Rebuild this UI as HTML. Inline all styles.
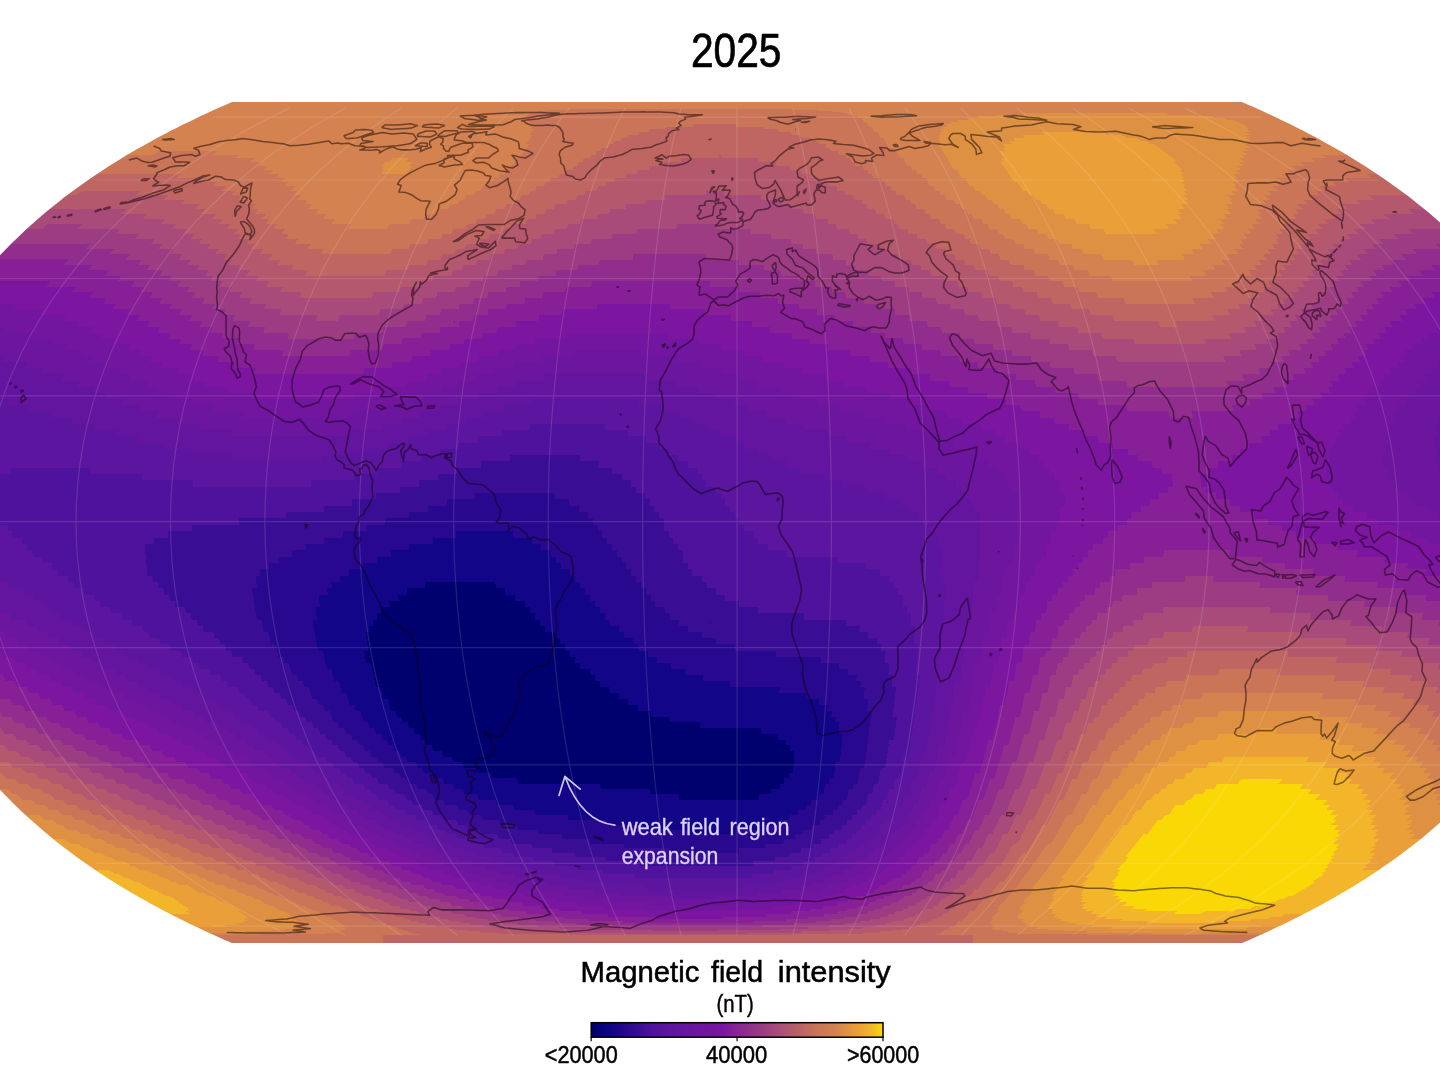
<!DOCTYPE html>
<html><head><meta charset="utf-8"><title>Magnetic field intensity 2025</title>
<style>
html,body{margin:0;padding:0;background:#fff;}
body{width:1440px;height:1080px;overflow:hidden;position:relative;font-family:"Liberation Sans",sans-serif;}
svg{position:absolute;left:0;top:0;display:block}
text{font-family:"Liberation Sans",sans-serif;}
</style></head><body>
<svg width="1440" height="1080" viewBox="0 0 1440 1080">
<defs>

<linearGradient id="cbar" x1="0" x2="1" y1="0" y2="0"><stop offset="0.0000" stop-color="#00006e"/><stop offset="0.0753" stop-color="#120587"/><stop offset="0.1208" stop-color="#28088f"/><stop offset="0.1650" stop-color="#3a0d95"/><stop offset="0.2080" stop-color="#4e129c"/><stop offset="0.2580" stop-color="#5c159f"/><stop offset="0.3529" stop-color="#6c159f"/><stop offset="0.4022" stop-color="#72159f"/><stop offset="0.4556" stop-color="#7c15a0"/><stop offset="0.4855" stop-color="#872097"/><stop offset="0.5881" stop-color="#9c3c82"/><stop offset="0.6341" stop-color="#a84a7a"/><stop offset="0.7272" stop-color="#bf6663"/><stop offset="0.7746" stop-color="#ca7558"/><stop offset="0.8374" stop-color="#d4824f"/><stop offset="0.8740" stop-color="#de9142"/><stop offset="0.9129" stop-color="#eb9f38"/><stop offset="0.9600" stop-color="#f3b62b"/><stop offset="1.0000" stop-color="#f9d806"/></linearGradient>
</defs>
<rect width="1440" height="1080" fill="#fff"/>
<g>
<rect x="0" y="96" width="1440" height="854" fill="#00006e"/>
<g shape-rendering="crispEdges">
<path fill="#120587" d="M194.3 952h1085.4v-16.7l0.5-0.2l1-0.3l1.4-0.6l1.8-0.7l2.4-1l2.7-1.1l3.2-1.2l3.5-1.5l4-1.6l4.2-1.8l4.7-2l4.9-2.1l5.2-2.2l5.5-2.4l5.8-2.6l5.9-2.7l6.2-2.8l6.3-3l6.4-3.1l6.6-3.2l6.7-3.3l6.7-3.4l6.9-3.6l6.9-3.6l6.9-3.8l6.9-3.8l6.9-4l6.9-4l6.9-4.2l6.9-4.2l6.8-4.3l6.8-4.4l6.7-4.5l6.6-4.5l6.6-4.6l6.5-4.7l6.4-4.8l6.4-4.8l6.2-4.9l6.1-4.9l6.1-5.1l5.9-5l5.9-5.2l5.7-5.2l5.6-5.2l5.6-5.3l5.4-5.4l5.3-5.4l5.2-5.4l5.1-5.5l4.9-5.6l4.9-5.6l4.7-5.6l4.6-5.7l4.5-5.7l4.4-5.7l4.3-5.8l4.1-5.8l4-5.9l3.9-5.9l3.8-5.9l3.6-5.9l3.6-6l3.4-6l3.2-6.1l3.2-6l3-6.1l2.9-6.1l2.7-6.2l2.7-6.1l2.5-6.2l2.4-6.2l2.2-6.2l2.1-6.2l2-6.3l1.9-6.2l1.7-6.3l1.6-6.3l1.4-6.3l1.4-6.3l1.2-6.3l1-6.4l1-6.3l0.8-6.3l0.6-6.4l0.6-6.3l0.4-6.4l0.2-6.4l0.2-6.3v-6.4l-0.2-6.3l-0.2-6.4l-0.4-6.4l-0.6-6.3l-0.6-6.4l-0.8-6.3l-1-6.3l-1-6.4l-1.2-6.3l-1.4-6.3l-1.4-6.3l-1.6-6.3l-1.7-6.3l-1.9-6.2l-2-6.3l-2.1-6.2l-2.2-6.2l-2.4-6.2l-2.5-6.2l-2.7-6.1l-2.7-6.2l-2.9-6.1l-3-6.1l-3.2-6l-3.2-6.1l-3.4-6l-3.6-6l-3.6-5.9l-3.8-5.9l-3.9-5.9l-4-5.9l-4.1-5.8l-4.3-5.8l-4.4-5.7l-4.5-5.7l-4.6-5.7l-4.7-5.6l-4.9-5.6l-4.9-5.6l-5.1-5.5l-5.2-5.4l-5.3-5.4l-5.4-5.4l-5.6-5.3l-5.6-5.2l-5.7-5.2l-5.9-5.2l-5.9-5l-6.1-5.1l-6.1-4.9l-6.2-4.9l-6.4-4.8l-6.4-4.8l-6.5-4.7l-6.6-4.6l-6.6-4.5l-6.7-4.5l-6.8-4.4l-6.8-4.3l-6.9-4.2l-6.9-4.2l-6.9-4l-6.9-4l-6.9-3.8l-6.9-3.8l-6.9-3.6l-6.9-3.6l-6.7-3.4l-6.7-3.3l-6.6-3.2l-6.4-3.1l-6.3-3l-6.2-2.8l-5.9-2.7l-5.8-2.6l-5.5-2.4l-5.2-2.2l-4.9-2.1l-4.7-2l-4.2-1.8l-4-1.6l-3.5-1.5l-3.2-1.2l-2.7-1.1l-2.4-1l-1.8-0.7l-1.4-0.6l-1-0.3l-0.5-0.2v-14.1h-1085.4v14.1l-0.5 0.2l-1 0.3l-1.4 0.6l-1.8 0.7l-2.4 1l-2.7 1.1l-3.2 1.2l-3.5 1.5l-4 1.6l-4.2 1.8l-4.7 2l-4.9 2.1l-5.2 2.2l-5.5 2.4l-5.8 2.6l-5.9 2.7l-6.2 2.8l-6.3 3l-6.4 3.1l-6.6 3.2l-6.7 3.3l-6.7 3.4l-6.9 3.6l-6.9 3.6l-6.9 3.8l-6.9 3.8l-6.9 4l-6.9 4l-6.9 4.2l-6.9 4.2l-6.8 4.3l-6.8 4.4l-6.7 4.5l-6.6 4.5l-6.6 4.6l-6.5 4.7l-6.4 4.8l-6.4 4.8l-6.2 4.9l-6.1 4.9l-6.1 5.1l-5.9 5l-5.9 5.2l-5.7 5.2l-5.6 5.2l-5.6 5.3l-5.4 5.4l-5.3 5.4l-5.2 5.4l-5.1 5.5l-4.9 5.6l-4.9 5.6l-4.7 5.6l-4.6 5.7l-4.5 5.7l-4.4 5.7l-4.3 5.8l-4.1 5.8l-4 5.9l-3.9 5.9l-3.8 5.9l-3.6 5.9l-3.6 6l-3.4 6l-3.2 6.1l-3.2 6l-3 6.1l-2.9 6.1l-2.7 6.2l-2.7 6.1l-2.5 6.2l-2.4 6.2l-2.2 6.2l-2.1 6.2l-2 6.3l-1.9 6.2l-1.7 6.3l-1.6 6.3l-1.4 6.3l-1.4 6.3l-1.2 6.3l-1 6.4l-1 6.3l-0.8 6.3l-0.6 6.4l-0.6 6.3l-0.4 6.4l-0.2 6.4l-0.2 6.3v6.4l0.2 6.3l0.2 6.4l0.4 6.4l0.6 6.3l0.6 6.4l0.8 6.3l1 6.3l1 6.4l1.2 6.3l1.4 6.3l1.4 6.3l1.6 6.3l1.7 6.3l1.9 6.2l2 6.3l2.1 6.2l2.2 6.2l2.4 6.2l2.5 6.2l2.7 6.1l2.7 6.2l2.9 6.1l3 6.1l3.2 6l3.2 6.1l3.4 6l3.6 6l3.6 5.9l3.8 5.9l3.9 5.9l4 5.9l4.1 5.8l4.3 5.8l4.4 5.7l4.5 5.7l4.6 5.7l4.7 5.6l4.9 5.6l4.9 5.6l5.1 5.5l5.2 5.4l5.3 5.4l5.4 5.4l5.6 5.3l5.6 5.2l5.7 5.2l5.9 5.2l5.9 5l6.1 5.1l6.1 4.9l6.2 4.9l6.4 4.8l6.4 4.8l6.5 4.7l6.6 4.6l6.6 4.5l6.7 4.5l6.8 4.4l6.8 4.3l6.9 4.2l6.9 4.2l6.9 4l6.9 4l6.9 3.8l6.9 3.8l6.9 3.6l6.9 3.6l6.7 3.4l6.7 3.3l6.6 3.2l6.4 3.1l6.3 3l6.2 2.8l5.9 2.7l5.8 2.6l5.5 2.4l5.2 2.2l4.9 2.1l4.7 2l4.2 1.8l4 1.6l3.5 1.5l3.2 1.2l2.7 1.1l2.4 1l1.8 0.7l1.4 0.6l1 0.3l0.5 0.2zM679 799.6l-0.5-5.2h-28.2l-0.6-5.2h-48.7l-1-5.3h-81.8l-1.5-5.4h-24.7l-1.6-5.4h-12.5l-1.6-5.4h-12.5l-1.8-5.5h-8.3l-1.8-5.6h-8.4l-1.8-5.6h-8.5l-1.7-5.6h-4.3l-1.7-5.7h-4.3l-1.7-5.7h-4.3l-1.7-5.7h-4.3l-1.7-5.8h-4.4l-1.6-5.8h-4.4l-1.6-5.9h-4.4l-1.6-5.9l-1.5-5.9h-4.4l-1.5-5.9l-1.5-6h-4.5l-1.4-6l-1.3-6.1l-1.3-6l-1.3-6.1h-4.5l-1.3-6.1l-1.1-6.2h4.6l-1.1-6.1l-1.1-6.2l-1-6.2h4.7l-1-6.2h4.7l-0.9-6.2h4.7l-0.8-6.3h4.6l-0.7-6.2h9.3l-0.7-6.3h9.4l-0.6-6.3h9.3l-0.5-6.3h18.7l-0.4-6.3h70.3l0.4 6.3h9.4l0.3 6.3h9.4l0.4 6.3h9.3l0.4 6.3h4.7l0.4 6.2h4.6l0.5 6.3h4.6l0.5 6.2h4.6l0.5 6.2h9.2l0.5 6.2h4.6l0.5 6.2h4.6l0.5 6.1h4.6l0.5 6.2h4.6l0.5 6.1h4.6l0.5 6.1h9.1l0.5 6h4.5l0.5 6.1h4.5l0.6 6h8.9l0.6 6h8.9l0.5 5.9h8.9l0.5 5.9h8.8l0.5 5.9h13.2l0.4 5.9h17.5l0.4 5.8h30.5l0.2 5.8h60.8l-0.1 5.7h17.2l-0.2 5.7h8.6l-0.3 5.7h4.3l-0.3 5.6h4.3l-0.4 5.6l-0.3 5.6l-0.4 5.5l-0.3 5.4h-4.2l-0.3 5.4h-4.1l-0.4 5.4h-4.1l-0.3 5.3h-8.1l-0.2 5.2h-12.1l-0.2 5.2z"/>
<path fill="#28088f" d="M194.3 952h1085.4v-16.7l0.5-0.2l1-0.3l1.4-0.6l1.8-0.7l2.4-1l2.7-1.1l3.2-1.2l3.5-1.5l4-1.6l4.2-1.8l4.7-2l4.9-2.1l5.2-2.2l5.5-2.4l5.8-2.6l5.9-2.7l6.2-2.8l6.3-3l6.4-3.1l6.6-3.2l6.7-3.3l6.7-3.4l6.9-3.6l6.9-3.6l6.9-3.8l6.9-3.8l6.9-4l6.9-4l6.9-4.2l6.9-4.2l6.8-4.3l6.8-4.4l6.7-4.5l6.6-4.5l6.6-4.6l6.5-4.7l6.4-4.8l6.4-4.8l6.2-4.9l6.1-4.9l6.1-5.1l5.9-5l5.9-5.2l5.7-5.2l5.6-5.2l5.6-5.3l5.4-5.4l5.3-5.4l5.2-5.4l5.1-5.5l4.9-5.6l4.9-5.6l4.7-5.6l4.6-5.7l4.5-5.7l4.4-5.7l4.3-5.8l4.1-5.8l4-5.9l3.9-5.9l3.8-5.9l3.6-5.9l3.6-6l3.4-6l3.2-6.1l3.2-6l3-6.1l2.9-6.1l2.7-6.2l2.7-6.1l2.5-6.2l2.4-6.2l2.2-6.2l2.1-6.2l2-6.3l1.9-6.2l1.7-6.3l1.6-6.3l1.4-6.3l1.4-6.3l1.2-6.3l1-6.4l1-6.3l0.8-6.3l0.6-6.4l0.6-6.3l0.4-6.4l0.2-6.4l0.2-6.3v-6.4l-0.2-6.3l-0.2-6.4l-0.4-6.4l-0.6-6.3l-0.6-6.4l-0.8-6.3l-1-6.3l-1-6.4l-1.2-6.3l-1.4-6.3l-1.4-6.3l-1.6-6.3l-1.7-6.3l-1.9-6.2l-2-6.3l-2.1-6.2l-2.2-6.2l-2.4-6.2l-2.5-6.2l-2.7-6.1l-2.7-6.2l-2.9-6.1l-3-6.1l-3.2-6l-3.2-6.1l-3.4-6l-3.6-6l-3.6-5.9l-3.8-5.9l-3.9-5.9l-4-5.9l-4.1-5.8l-4.3-5.8l-4.4-5.7l-4.5-5.7l-4.6-5.7l-4.7-5.6l-4.9-5.6l-4.9-5.6l-5.1-5.5l-5.2-5.4l-5.3-5.4l-5.4-5.4l-5.6-5.3l-5.6-5.2l-5.7-5.2l-5.9-5.2l-5.9-5l-6.1-5.1l-6.1-4.9l-6.2-4.9l-6.4-4.8l-6.4-4.8l-6.5-4.7l-6.6-4.6l-6.6-4.5l-6.7-4.5l-6.8-4.4l-6.8-4.3l-6.9-4.2l-6.9-4.2l-6.9-4l-6.9-4l-6.9-3.8l-6.9-3.8l-6.9-3.6l-6.9-3.6l-6.7-3.4l-6.7-3.3l-6.6-3.2l-6.4-3.1l-6.3-3l-6.2-2.8l-5.9-2.7l-5.8-2.6l-5.5-2.4l-5.2-2.2l-4.9-2.1l-4.7-2l-4.2-1.8l-4-1.6l-3.5-1.5l-3.2-1.2l-2.7-1.1l-2.4-1l-1.8-0.7l-1.4-0.6l-1-0.3l-0.5-0.2v-14.1h-1085.4v14.1l-0.5 0.2l-1 0.3l-1.4 0.6l-1.8 0.7l-2.4 1l-2.7 1.1l-3.2 1.2l-3.5 1.5l-4 1.6l-4.2 1.8l-4.7 2l-4.9 2.1l-5.2 2.2l-5.5 2.4l-5.8 2.6l-5.9 2.7l-6.2 2.8l-6.3 3l-6.4 3.1l-6.6 3.2l-6.7 3.3l-6.7 3.4l-6.9 3.6l-6.9 3.6l-6.9 3.8l-6.9 3.8l-6.9 4l-6.9 4l-6.9 4.2l-6.9 4.2l-6.8 4.3l-6.8 4.4l-6.7 4.5l-6.6 4.5l-6.6 4.6l-6.5 4.7l-6.4 4.8l-6.4 4.8l-6.2 4.9l-6.1 4.9l-6.1 5.1l-5.9 5l-5.9 5.2l-5.7 5.2l-5.6 5.2l-5.6 5.3l-5.4 5.4l-5.3 5.4l-5.2 5.4l-5.1 5.5l-4.9 5.6l-4.9 5.6l-4.7 5.6l-4.6 5.7l-4.5 5.7l-4.4 5.7l-4.3 5.8l-4.1 5.8l-4 5.9l-3.9 5.9l-3.8 5.9l-3.6 5.9l-3.6 6l-3.4 6l-3.2 6.1l-3.2 6l-3 6.1l-2.9 6.1l-2.7 6.2l-2.7 6.1l-2.5 6.2l-2.4 6.2l-2.2 6.2l-2.1 6.2l-2 6.3l-1.9 6.2l-1.7 6.3l-1.6 6.3l-1.4 6.3l-1.4 6.3l-1.2 6.3l-1 6.4l-1 6.3l-0.8 6.3l-0.6 6.4l-0.6 6.3l-0.4 6.4l-0.2 6.4l-0.2 6.3v6.4l0.2 6.3l0.2 6.4l0.4 6.4l0.6 6.3l0.6 6.4l0.8 6.3l1 6.3l1 6.4l1.2 6.3l1.4 6.3l1.4 6.3l1.6 6.3l1.7 6.3l1.9 6.2l2 6.3l2.1 6.2l2.2 6.2l2.4 6.2l2.5 6.2l2.7 6.1l2.7 6.2l2.9 6.1l3 6.1l3.2 6l3.2 6.1l3.4 6l3.6 6l3.6 5.9l3.8 5.9l3.9 5.9l4 5.9l4.1 5.8l4.3 5.8l4.4 5.7l4.5 5.7l4.6 5.7l4.7 5.6l4.9 5.6l4.9 5.6l5.1 5.5l5.2 5.4l5.3 5.4l5.4 5.4l5.6 5.3l5.6 5.2l5.7 5.2l5.9 5.2l5.9 5l6.1 5.1l6.1 4.9l6.2 4.9l6.4 4.8l6.4 4.8l6.5 4.7l6.6 4.6l6.6 4.5l6.7 4.5l6.8 4.4l6.8 4.3l6.9 4.2l6.9 4.2l6.9 4l6.9 4l6.9 3.8l6.9 3.8l6.9 3.6l6.9 3.6l6.7 3.4l6.7 3.3l6.6 3.2l6.4 3.1l6.3 3l6.2 2.8l5.9 2.7l5.8 2.6l5.5 2.4l5.2 2.2l4.9 2.1l4.7 2l4.2 1.8l4 1.6l3.5 1.5l3.2 1.2l2.7 1.1l2.4 1l1.8 0.7l1.4 0.6l1 0.3l0.5 0.2zM689.7 834.3l-0.4-4.8h-45.7l-0.8-4.8h-34.7l-1-4.9h-38.8l-1.4-4.9h-31.3l-1.6-5.1h-19.7l-1.7-5h-15.9l-1.8-5.2h-16.1l-1.9-5.2h-12.1l-1.9-5.2h-8.1l-2-5.3h-8.2l-2-5.4h-8.2l-2-5.4h-8.3l-2.1-5.4h-4.1l-2-5.5h-8.4l-2-5.6h-4.3l-1.9-5.6h-4.3l-2-5.6h-4.2l-2-5.7h-4.3l-1.9-5.7h-4.3l-1.9-5.7h-4.3l-1.9-5.8h-4.3l-1.9-5.8l-1.7-5.9h-4.4l-1.8-5.9h-4.4l-1.7-5.9l-1.7-5.9h-4.4l-1.6-6l-1.6-6h-4.5l-1.5-6.1l-1.4-6h-4.6l-1.4-6.1l-1.3-6.1l-1.3-6.2h-4.6l-1.2-6.1l-1.2-6.2l-1.1-6.2l-1.1-6.2l-1-6.2h4.6l-0.9-6.3l-0.9-6.2h4.7l-0.8-6.3l-0.7-6.3h9.3l-0.6-6.3h4.7l-0.6-6.3h9.3l-0.5-6.3h9.4l-0.4-6.4h14.1l-0.4-6.3h14.1l-0.3-6.3h14.1l-0.2-6.4h18.8l-0.2-6.3h23.6l-0.1-6.4h23.6l-0.1-6.4h56.7v6.4h18.9l0.1 6.4h9.4l0.1 6.3h9.5l0.1 6.4h4.7l0.2 6.3h4.7l0.2 6.3h9.4l0.2 6.4h4.7l0.2 6.3h4.7l0.2 6.3h4.7l0.2 6.3h4.7l0.3 6.3h4.6l0.3 6.3h4.7l0.2 6.2h4.7l0.3 6.3h4.6l0.3 6.2h9.3l0.3 6.2h4.6l0.3 6.2h9.2l0.3 6.2h4.6l0.3 6.1h9.1l0.3 6.2h9.1l0.3 6.1h13.6l0.3 6.1h13.6l0.2 6h18l0.1 6.1h27l0.1 6h49.3l-0.2 6h26.8l-0.3 5.9h13.3l-0.3 5.9h8.8l-0.4 5.9h4.4l-0.4 5.9h4.4l-0.5 5.8h4.4l-0.6 5.8l-0.5 5.7h4.3l-0.5 5.7l-0.6 5.7l-0.6 5.6l-0.6 5.6l-0.7 5.6h-4.2l-0.6 5.5l-0.6 5.4l-0.6 5.4h-4.2l-0.6 5.4h-4.1l-0.6 5.3l-0.6 5.2h-4l-0.7 5.2h-8l-0.5 5.2h-4l-0.5 5h-7.9l-0.5 5.1h-7.8l-0.4 4.9h-11.7l-0.3 4.9h-15.4l-0.2 4.8h-26.7v4.8z"/>
<path fill="#3a0d95" d="M194.3 952h1085.4v-16.7l0.5-0.2l1-0.3l1.4-0.6l1.8-0.7l2.4-1l2.7-1.1l3.2-1.2l3.5-1.5l4-1.6l4.2-1.8l4.7-2l4.9-2.1l5.2-2.2l5.5-2.4l5.8-2.6l5.9-2.7l6.2-2.8l6.3-3l6.4-3.1l6.6-3.2l6.7-3.3l6.7-3.4l6.9-3.6l6.9-3.6l6.9-3.8l6.9-3.8l6.9-4l6.9-4l6.9-4.2l6.9-4.2l6.8-4.3l6.8-4.4l6.7-4.5l6.6-4.5l6.6-4.6l6.5-4.7l6.4-4.8l6.4-4.8l6.2-4.9l6.1-4.9l6.1-5.1l5.9-5l5.9-5.2l5.7-5.2l5.6-5.2l5.6-5.3l5.4-5.4l5.3-5.4l5.2-5.4l5.1-5.5l4.9-5.6l4.9-5.6l4.7-5.6l4.6-5.7l4.5-5.7l4.4-5.7l4.3-5.8l4.1-5.8l4-5.9l3.9-5.9l3.8-5.9l3.6-5.9l3.6-6l3.4-6l3.2-6.1l3.2-6l3-6.1l2.9-6.1l2.7-6.2l2.7-6.1l2.5-6.2l2.4-6.2l2.2-6.2l2.1-6.2l2-6.3l1.9-6.2l1.7-6.3l1.6-6.3l1.4-6.3l1.4-6.3l1.2-6.3l1-6.4l1-6.3l0.8-6.3l0.6-6.4l0.6-6.3l0.4-6.4l0.2-6.4l0.2-6.3v-6.4l-0.2-6.3l-0.2-6.4l-0.4-6.4l-0.6-6.3l-0.6-6.4l-0.8-6.3l-1-6.3l-1-6.4l-1.2-6.3l-1.4-6.3l-1.4-6.3l-1.6-6.3l-1.7-6.3l-1.9-6.2l-2-6.3l-2.1-6.2l-2.2-6.2l-2.4-6.2l-2.5-6.2l-2.7-6.1l-2.7-6.2l-2.9-6.1l-3-6.1l-3.2-6l-3.2-6.1l-3.4-6l-3.6-6l-3.6-5.9l-3.8-5.9l-3.9-5.9l-4-5.9l-4.1-5.8l-4.3-5.8l-4.4-5.7l-4.5-5.7l-4.6-5.7l-4.7-5.6l-4.9-5.6l-4.9-5.6l-5.1-5.5l-5.2-5.4l-5.3-5.4l-5.4-5.4l-5.6-5.3l-5.6-5.2l-5.7-5.2l-5.9-5.2l-5.9-5l-6.1-5.1l-6.1-4.9l-6.2-4.9l-6.4-4.8l-6.4-4.8l-6.5-4.7l-6.6-4.6l-6.6-4.5l-6.7-4.5l-6.8-4.4l-6.8-4.3l-6.9-4.2l-6.9-4.2l-6.9-4l-6.9-4l-6.9-3.8l-6.9-3.8l-6.9-3.6l-6.9-3.6l-6.7-3.4l-6.7-3.3l-6.6-3.2l-6.4-3.1l-6.3-3l-6.2-2.8l-5.9-2.7l-5.8-2.6l-5.5-2.4l-5.2-2.2l-4.9-2.1l-4.7-2l-4.2-1.8l-4-1.6l-3.5-1.5l-3.2-1.2l-2.7-1.1l-2.4-1l-1.8-0.7l-1.4-0.6l-1-0.3l-0.5-0.2v-14.1h-1085.4v14.1l-0.5 0.2l-1 0.3l-1.4 0.6l-1.8 0.7l-2.4 1l-2.7 1.1l-3.2 1.2l-3.5 1.5l-4 1.6l-4.2 1.8l-4.7 2l-4.9 2.1l-5.2 2.2l-5.5 2.4l-5.8 2.6l-5.9 2.7l-6.2 2.8l-6.3 3l-6.4 3.1l-6.6 3.2l-6.7 3.3l-6.7 3.4l-6.9 3.6l-6.9 3.6l-6.9 3.8l-6.9 3.8l-6.9 4l-6.9 4l-6.9 4.2l-6.9 4.2l-6.8 4.3l-6.8 4.4l-6.7 4.5l-6.6 4.5l-6.6 4.6l-6.5 4.7l-6.4 4.8l-6.4 4.8l-6.2 4.9l-6.1 4.9l-6.1 5.1l-5.9 5l-5.9 5.2l-5.7 5.2l-5.6 5.2l-5.6 5.3l-5.4 5.4l-5.3 5.4l-5.2 5.4l-5.1 5.5l-4.9 5.6l-4.9 5.6l-4.7 5.6l-4.6 5.7l-4.5 5.7l-4.4 5.7l-4.3 5.8l-4.1 5.8l-4 5.9l-3.9 5.9l-3.8 5.9l-3.6 5.9l-3.6 6l-3.4 6l-3.2 6.1l-3.2 6l-3 6.1l-2.9 6.1l-2.7 6.2l-2.7 6.1l-2.5 6.2l-2.4 6.2l-2.2 6.2l-2.1 6.2l-2 6.3l-1.9 6.2l-1.7 6.3l-1.6 6.3l-1.4 6.3l-1.4 6.3l-1.2 6.3l-1 6.4l-1 6.3l-0.8 6.3l-0.6 6.4l-0.6 6.3l-0.4 6.4l-0.2 6.4l-0.2 6.3v6.4l0.2 6.3l0.2 6.4l0.4 6.4l0.6 6.3l0.6 6.4l0.8 6.3l1 6.3l1 6.4l1.2 6.3l1.4 6.3l1.4 6.3l1.6 6.3l1.7 6.3l1.9 6.2l2 6.3l2.1 6.2l2.2 6.2l2.4 6.2l2.5 6.2l2.7 6.1l2.7 6.2l2.9 6.1l3 6.1l3.2 6l3.2 6.1l3.4 6l3.6 6l3.6 5.9l3.8 5.9l3.9 5.9l4 5.9l4.1 5.8l4.3 5.8l4.4 5.7l4.5 5.7l4.6 5.7l4.7 5.6l4.9 5.6l4.9 5.6l5.1 5.5l5.2 5.4l5.3 5.4l5.4 5.4l5.6 5.3l5.6 5.2l5.7 5.2l5.9 5.2l5.9 5l6.1 5.1l6.1 4.9l6.2 4.9l6.4 4.8l6.4 4.8l6.5 4.7l6.6 4.6l6.6 4.5l6.7 4.5l6.8 4.4l6.8 4.3l6.9 4.2l6.9 4.2l6.9 4l6.9 4l6.9 3.8l6.9 3.8l6.9 3.6l6.9 3.6l6.7 3.4l6.7 3.3l6.6 3.2l6.4 3.1l6.3 3l6.2 2.8l5.9 2.7l5.8 2.6l5.5 2.4l5.2 2.2l4.9 2.1l4.7 2l4.2 1.8l4 1.6l3.5 1.5l3.2 1.2l2.7 1.1l2.4 1l1.8 0.7l1.4 0.6l1 0.3l0.5 0.2zM669.6 852.6l-0.7-4.5h-44.1l-1.1-4.5h-33.4l-1.3-4.6h-26.3l-1.5-4.7h-22.7l-1.7-4.8h-19.1l-1.9-4.8h-15.4l-1.9-4.9h-15.6l-2-4.9h-11.8l-2.1-5.1h-7.9l-2.1-5h-12l-2.2-5.2h-8l-2.2-5.2h-4l-2.3-5.2h-8.1l-2.2-5.3h-8.2l-2.3-5.4h-4.1l-2.2-5.4h-4.1l-2.3-5.4h-8.3l-2.2-5.5h-4.2l-2.2-5.6h-4.2l-2.2-5.6h-4.2l-2.2-5.6h-4.2l-2.1-5.7h-4.3l-2.1-5.7h-4.3l-2.1-5.7h-4.3l-2-5.8h-4.4l-2-5.8l-1.9-5.9h-4.4l-1.9-5.9h-4.4l-1.8-5.9h-4.5l-1.8-5.9l-1.7-6h-4.5l-1.7-6h-4.5l-1.6-6.1h-4.5l-1.6-6l-1.6-6.1h-4.5l-1.5-6.1h-4.6l-1.4-6.2l-1.4-6.1h-4.6l-1.3-6.2l-1.2-6.2h-4.6l-1.2-6.2l-1.1-6.2h-4.7l-1-6.3l-1-6.2l-0.9-6.3l-0.9-6.3l-0.8-6.3h4.7l-0.7-6.3l-0.6-6.3h4.7l-0.6-6.4h9.4l-0.5-6.3h9.5l-0.4-6.3h14.1l-0.3-6.4h14.1l-0.2-6.3h18.8l-0.1-6.4h18.8l-0.1-6.4h23.6v-6.3h18.8v-6.4h23.7v-6.3h18.9l0.1-6.4h18.9l0.1-6.4h28.3l0.1-6.3h80.2l-0.1 6.3h14.1v6.4h9.4v6.4h9.4v6.3h4.7v6.4h4.7v6.3h4.8v6.4h4.7l0.1 6.4h4.7l0.1 6.3h4.7l0.1 6.4h4.7l0.1 6.3h4.7l0.1 6.3h4.7l0.1 6.4h4.7l0.2 6.3h4.6l0.2 6.3h4.7l0.1 6.3h4.7l0.1 6.3h4.7l0.2 6.3h9.3l0.1 6.2h4.7l0.1 6.3h9.3l0.1 6.2h9.3l0.1 6.2h13.9l0.1 6.2h13.8v6.2h18.4v6.1h41.2l-0.1 6.2h45.6l-0.2 6.1h18.2l-0.4 6.1h9.1l-0.4 6h9l-0.4 6.1h4.5l-0.5 6h4.5l-0.6 6l-0.5 5.9h4.5l-0.6 5.9l-0.6 5.9h4.4l-0.6 5.9l-0.7 5.8l-0.7 5.8l-0.6 5.7l-0.8 5.7l-0.7 5.7l-0.7 5.6l-0.8 5.6l-0.8 5.6l-0.8 5.5h-4.1l-0.8 5.4l-0.8 5.4l-0.9 5.4h-4l-0.9 5.3h-4l-0.8 5.2l-0.8 5.2h-4l-0.8 5.2h-4l-0.8 5h-3.9l-0.8 5.1h-7.8l-0.7 4.9h-3.9l-0.7 4.9h-7.7l-0.6 4.8h-7.7l-0.5 4.8h-7.6l-0.5 4.7h-11.3l-0.4 4.6h-18.5l-0.3 4.5h-25.8v4.5z"/>
<path fill="#4e129c" d="M194.3 952h1085.4v-16.7l0.5-0.2l1-0.3l1.4-0.6l1.8-0.7l2.4-1l2.7-1.1l3.2-1.2l3.5-1.5l4-1.6l4.2-1.8l4.7-2l4.9-2.1l5.2-2.2l5.5-2.4l5.8-2.6l5.9-2.7l6.2-2.8l6.3-3l6.4-3.1l6.6-3.2l6.7-3.3l6.7-3.4l6.9-3.6l6.9-3.6l6.9-3.8l6.9-3.8l6.9-4l6.9-4l6.9-4.2l6.9-4.2l6.8-4.3l6.8-4.4l6.7-4.5l6.6-4.5l6.6-4.6l6.5-4.7l6.4-4.8l6.4-4.8l6.2-4.9l6.1-4.9l6.1-5.1l5.9-5l5.9-5.2l5.7-5.2l5.6-5.2l5.6-5.3l5.4-5.4l5.3-5.4l5.2-5.4l5.1-5.5l4.9-5.6l4.9-5.6l4.7-5.6l4.6-5.7l4.5-5.7l4.4-5.7l4.3-5.8l4.1-5.8l4-5.9l3.9-5.9l3.8-5.9l3.6-5.9l3.6-6l3.4-6l3.2-6.1l3.2-6l3-6.1l2.9-6.1l2.7-6.2l2.7-6.1l2.5-6.2l2.4-6.2l2.2-6.2l2.1-6.2l2-6.3l1.9-6.2l1.7-6.3l1.6-6.3l1.4-6.3l1.4-6.3l1.2-6.3l1-6.4l1-6.3l0.8-6.3l0.6-6.4l0.6-6.3l0.4-6.4l0.2-6.4l0.2-6.3v-6.4l-0.2-6.3l-0.2-6.4l-0.4-6.4l-0.6-6.3l-0.6-6.4l-0.8-6.3l-1-6.3l-1-6.4l-1.2-6.3l-1.4-6.3l-1.4-6.3l-1.6-6.3l-1.7-6.3l-1.9-6.2l-2-6.3l-2.1-6.2l-2.2-6.2l-2.4-6.2l-2.5-6.2l-2.7-6.1l-2.7-6.2l-2.9-6.1l-3-6.1l-3.2-6l-3.2-6.1l-3.4-6l-3.6-6l-3.6-5.9l-3.8-5.9l-3.9-5.9l-4-5.9l-4.1-5.8l-4.3-5.8l-4.4-5.7l-4.5-5.7l-4.6-5.7l-4.7-5.6l-4.9-5.6l-4.9-5.6l-5.1-5.5l-5.2-5.4l-5.3-5.4l-5.4-5.4l-5.6-5.3l-5.6-5.2l-5.7-5.2l-5.9-5.2l-5.9-5l-6.1-5.1l-6.1-4.9l-6.2-4.9l-6.4-4.8l-6.4-4.8l-6.5-4.7l-6.6-4.6l-6.6-4.5l-6.7-4.5l-6.8-4.4l-6.8-4.3l-6.9-4.2l-6.9-4.2l-6.9-4l-6.9-4l-6.9-3.8l-6.9-3.8l-6.9-3.6l-6.9-3.6l-6.7-3.4l-6.7-3.3l-6.6-3.2l-6.4-3.1l-6.3-3l-6.2-2.8l-5.9-2.7l-5.8-2.6l-5.5-2.4l-5.2-2.2l-4.9-2.1l-4.7-2l-4.2-1.8l-4-1.6l-3.5-1.5l-3.2-1.2l-2.7-1.1l-2.4-1l-1.8-0.7l-1.4-0.6l-1-0.3l-0.5-0.2v-14.1h-1085.4v14.1l-0.5 0.2l-1 0.3l-1.4 0.6l-1.8 0.7l-2.4 1l-2.7 1.1l-3.2 1.2l-3.5 1.5l-4 1.6l-4.2 1.8l-4.7 2l-4.9 2.1l-5.2 2.2l-5.5 2.4l-5.8 2.6l-5.9 2.7l-6.2 2.8l-6.3 3l-6.4 3.1l-6.6 3.2l-6.7 3.3l-6.7 3.4l-6.9 3.6l-6.9 3.6l-6.9 3.8l-6.9 3.8l-6.9 4l-6.9 4l-6.9 4.2l-6.9 4.2l-6.8 4.3l-6.8 4.4l-6.7 4.5l-6.6 4.5l-6.6 4.6l-6.5 4.7l-6.4 4.8l-6.4 4.8l-6.2 4.9l-6.1 4.9l-6.1 5.1l-5.9 5l-5.9 5.2l-5.7 5.2l-5.6 5.2l-5.6 5.3l-5.4 5.4l-5.3 5.4l-5.2 5.4l-5.1 5.5l-4.9 5.6l-4.9 5.6l-4.7 5.6l-4.6 5.7l-4.5 5.7l-4.4 5.7l-4.3 5.8l-4.1 5.8l-4 5.9l-3.9 5.9l-3.8 5.9l-3.6 5.9l-3.6 6l-3.4 6l-3.2 6.1l-3.2 6l-3 6.1l-2.9 6.1l-2.7 6.2l-2.7 6.1l-2.5 6.2l-2.4 6.2l-2.2 6.2l-2.1 6.2l-2 6.3l-1.9 6.2l-1.7 6.3l-1.6 6.3l-1.4 6.3l-1.4 6.3l-1.2 6.3l-1 6.4l-1 6.3l-0.8 6.3l-0.6 6.4l-0.6 6.3l-0.4 6.4l-0.2 6.4l-0.2 6.3v6.4l0.2 6.3l0.2 6.4l0.4 6.4l0.6 6.3l0.6 6.4l0.8 6.3l1 6.3l1 6.4l1.2 6.3l1.4 6.3l1.4 6.3l1.6 6.3l1.7 6.3l1.9 6.2l2 6.3l2.1 6.2l2.2 6.2l2.4 6.2l2.5 6.2l2.7 6.1l2.7 6.2l2.9 6.1l3 6.1l3.2 6l3.2 6.1l3.4 6l3.6 6l3.6 5.9l3.8 5.9l3.9 5.9l4 5.9l4.1 5.8l4.3 5.8l4.4 5.7l4.5 5.7l4.6 5.7l4.7 5.6l4.9 5.6l4.9 5.6l5.1 5.5l5.2 5.4l5.3 5.4l5.4 5.4l5.6 5.3l5.6 5.2l5.7 5.2l5.9 5.2l5.9 5l6.1 5.1l6.1 4.9l6.2 4.9l6.4 4.8l6.4 4.8l6.5 4.7l6.6 4.6l6.6 4.5l6.7 4.5l6.8 4.4l6.8 4.3l6.9 4.2l6.9 4.2l6.9 4l6.9 4l6.9 3.8l6.9 3.8l6.9 3.6l6.9 3.6l6.7 3.4l6.7 3.3l6.6 3.2l6.4 3.1l6.3 3l6.2 2.8l5.9 2.7l5.8 2.6l5.5 2.4l5.2 2.2l4.9 2.1l4.7 2l4.2 1.8l4 1.6l3.5 1.5l3.2 1.2l2.7 1.1l2.4 1l1.8 0.7l1.4 0.6l1 0.3l0.5 0.2zM639.7 865.5l-1-4.2h-32.2l-1.3-4.3h-28.8l-1.6-4.4h-21.9l-1.7-4.5h-18.4l-1.9-4.5h-18.6l-2-4.6h-11.3l-2.1-4.7h-15.1l-2.2-4.8h-11.5l-2.3-4.8h-7.7l-2.3-4.9h-11.6l-2.4-4.9h-7.9l-2.4-5.1h-7.9l-2.4-5h-7.9l-2.5-5.2h-4l-2.4-5.2h-8.1l-2.5-5.2h-4l-2.5-5.3h-8.1l-2.5-5.4h-4.1l-2.4-5.4h-4.2l-2.4-5.4h-4.1l-2.4-5.5h-4.2l-2.3-5.6h-4.3l-2.3-5.6h-4.2l-2.3-5.6h-4.3l-2.2-5.7h-4.3l-2.2-5.7h-4.4l-2.1-5.7h-4.4l-2.1-5.8h-4.4l-2.1-5.8h-4.4l-2-5.9h-4.4l-2.1-5.9h-4.4l-1.9-5.9h-4.5l-1.9-5.9h-4.5l-1.9-6h-4.4l-1.9-6h-4.5l-1.8-6.1h-4.5l-1.7-6h-4.5l-1.7-6.1h-4.6l-1.6-6.1h-9.1l-1.6-6.2h-4.6l-1.5-6.1h-4.6l-1.4-6.2h-4.6l-1.4-6.2h-9.2l-1.4-6.2h-4.6l-1.3-6.2h-4.6l-1.2-6.3h-4.7l-1.1-6.2h-9.3l-1.1-6.3h-4.7l-1-6.3h-4.6l-1-6.3h-4.6l-0.9-6.3h-4.7l-0.7-6.3h-4.7l-0.7-6.4l-0.6-6.3l-0.6-6.3l-0.4-6.4l-0.3-6.3h9.4l-0.2-6.4h14.1l-0.2-6.4h23.6v-6.3h47.2v-6.4h47.2l0.1-6.3h37.7l0.2-6.4h28.3l0.1-6.4h23.6l0.2-6.3h23.6l0.3-6.4h18.8l0.3-6.3h18.8l0.3-6.3h18.8l0.3-6.4h23.5l0.4-6.3h28.1l0.3-6.3h70.3l-0.2 6.3h18.7l-0.2 6.3h14.1l-0.1 6.4h9.4l-0.1 6.3h9.4l-0.1 6.3h4.7l-0.1 6.4h9.5l-0.1 6.3h4.7v6.4h4.7v6.4h4.7v6.3h4.7v6.4v6.3h4.7l0.1 6.4h4.7v6.4h4.7l0.1 6.3h4.7v6.4l0.1 6.3h4.7v6.3h4.7l0.1 6.4h9.4v6.3h4.7l0.1 6.3h9.3l0.1 6.3h9.3v6.3h14v6.3h18.7l-0.1 6.2h46.5l-0.1 6.3h41.7l-0.2 6.2h13.9l-0.4 6.2h9.3l-0.4 6.2h9.2l-0.4 6.2h4.6l-0.4 6.1h4.6l-0.5 6.2l-0.5 6.1h4.6l-0.5 6.1l-0.6 6h4.5l-0.5 6.1l-0.6 6h4.4l-0.6 6l-0.7 5.9l-0.7 5.9l-0.7 5.9l-0.7 5.9h4.4l-0.8 5.8l-0.8 5.8l-0.8 5.7l-0.9 5.7h-4.3l-0.8 5.7l-0.9 5.6l-0.9 5.6l-0.9 5.6l-0.9 5.5h-4.2l-0.9 5.4l-0.9 5.4l-1 5.4h-4.1l-1 5.3l-0.9 5.2h-4.1l-0.9 5.2l-1 5.2h-4l-0.9 5h-4l-0.9 5.1h-3.9l-1 4.9h-3.9l-0.9 4.9h-3.8l-0.9 4.8h-7.6l-0.9 4.8h-3.8l-0.8 4.7h-7.5l-0.7 4.6h-7.5l-0.7 4.5h-11l-0.6 4.5h-11l-0.5 4.4h-14.4l-0.4 4.3h-21.4l-0.2 4.2z"/>
<path fill="#5c159f" d="M194.3 952h1085.4v-16.7l0.5-0.2l1-0.3l1.4-0.6l1.8-0.7l2.4-1l2.7-1.1l3.2-1.2l3.5-1.5l4-1.6l4.2-1.8l4.7-2l4.9-2.1l5.2-2.2l5.5-2.4l5.8-2.6l5.9-2.7l6.2-2.8l6.3-3l6.4-3.1l6.6-3.2l6.7-3.3l6.7-3.4l6.9-3.6l6.9-3.6l6.9-3.8l6.9-3.8l6.9-4l6.9-4l6.9-4.2l6.9-4.2l6.8-4.3l6.8-4.4l6.7-4.5l6.6-4.5l6.6-4.6l6.5-4.7l6.4-4.8l6.4-4.8l6.2-4.9l6.1-4.9l6.1-5.1l5.9-5l5.9-5.2l5.7-5.2l5.6-5.2l5.6-5.3l5.4-5.4l5.3-5.4l5.2-5.4l5.1-5.5l4.9-5.6l4.9-5.6l4.7-5.6l4.6-5.7l4.5-5.7l4.4-5.7l4.3-5.8l4.1-5.8l4-5.9l3.9-5.9l3.8-5.9l3.6-5.9l3.6-6l3.4-6l3.2-6.1l3.2-6l3-6.1l2.9-6.1l2.7-6.2l2.7-6.1l2.5-6.2l2.4-6.2l2.2-6.2l2.1-6.2l2-6.3l1.9-6.2l1.7-6.3l1.6-6.3l1.4-6.3l1.4-6.3l1.2-6.3l1-6.4l1-6.3l0.8-6.3l0.6-6.4l0.6-6.3l0.4-6.4l0.2-6.4l0.2-6.3v-6.4l-0.2-6.3l-0.2-6.4l-0.4-6.4l-0.6-6.3l-0.6-6.4l-0.8-6.3l-1-6.3l-1-6.4l-1.2-6.3l-1.4-6.3l-1.4-6.3l-1.6-6.3l-1.7-6.3l-1.9-6.2l-2-6.3l-2.1-6.2l-2.2-6.2l-2.4-6.2l-2.5-6.2l-2.7-6.1l-2.7-6.2l-2.9-6.1l-3-6.1l-3.2-6l-3.2-6.1l-3.4-6l-3.6-6l-3.6-5.9l-3.8-5.9l-3.9-5.9l-4-5.9l-4.1-5.8l-4.3-5.8l-4.4-5.7l-4.5-5.7l-4.6-5.7l-4.7-5.6l-4.9-5.6l-4.9-5.6l-5.1-5.5l-5.2-5.4l-5.3-5.4l-5.4-5.4l-5.6-5.3l-5.6-5.2l-5.7-5.2l-5.9-5.2l-5.9-5l-6.1-5.1l-6.1-4.9l-6.2-4.9l-6.4-4.8l-6.4-4.8l-6.5-4.7l-6.6-4.6l-6.6-4.5l-6.7-4.5l-6.8-4.4l-6.8-4.3l-6.9-4.2l-6.9-4.2l-6.9-4l-6.9-4l-6.9-3.8l-6.9-3.8l-6.9-3.6l-6.9-3.6l-6.7-3.4l-6.7-3.3l-6.6-3.2l-6.4-3.1l-6.3-3l-6.2-2.8l-5.9-2.7l-5.8-2.6l-5.5-2.4l-5.2-2.2l-4.9-2.1l-4.7-2l-4.2-1.8l-4-1.6l-3.5-1.5l-3.2-1.2l-2.7-1.1l-2.4-1l-1.8-0.7l-1.4-0.6l-1-0.3l-0.5-0.2v-14.1h-1085.4v14.1l-0.5 0.2l-1 0.3l-1.4 0.6l-1.8 0.7l-2.4 1l-2.7 1.1l-3.2 1.2l-3.5 1.5l-4 1.6l-4.2 1.8l-4.7 2l-4.9 2.1l-5.2 2.2l-5.5 2.4l-5.8 2.6l-5.9 2.7l-6.2 2.8l-6.3 3l-6.4 3.1l-6.6 3.2l-6.7 3.3l-6.7 3.4l-6.9 3.6l-6.9 3.6l-6.9 3.8l-6.9 3.8l-6.9 4l-6.9 4l-6.9 4.2l-6.9 4.2l-6.8 4.3l-6.8 4.4l-6.7 4.5l-6.6 4.5l-6.6 4.6l-6.5 4.7l-6.4 4.8l-6.4 4.8l-6.2 4.9l-6.1 4.9l-6.1 5.1l-5.9 5l-5.9 5.2l-5.7 5.2l-5.6 5.2l-5.6 5.3l-5.4 5.4l-5.3 5.4l-5.2 5.4l-5.1 5.5l-4.9 5.6l-4.9 5.6l-4.7 5.6l-4.6 5.7l-4.5 5.7l-4.4 5.7l-4.3 5.8l-4.1 5.8l-4 5.9l-3.9 5.9l-3.8 5.9l-3.6 5.9l-3.6 6l-3.4 6l-3.2 6.1l-3.2 6l-3 6.1l-2.9 6.1l-2.7 6.2l-2.7 6.1l-2.5 6.2l-2.4 6.2l-2.2 6.2l-2.1 6.2l-2 6.3l-1.9 6.2l-1.7 6.3l-1.6 6.3l-1.4 6.3l-1.4 6.3l-1.2 6.3l-1 6.4l-1 6.3l-0.8 6.3l-0.6 6.4l-0.6 6.3l-0.4 6.4l-0.2 6.4l-0.2 6.3v6.4l0.2 6.3l0.2 6.4l0.4 6.4l0.6 6.3l0.6 6.4l0.8 6.3l1 6.3l1 6.4l1.2 6.3l1.4 6.3l1.4 6.3l1.6 6.3l1.7 6.3l1.9 6.2l2 6.3l2.1 6.2l2.2 6.2l2.4 6.2l2.5 6.2l2.7 6.1l2.7 6.2l2.9 6.1l3 6.1l3.2 6l3.2 6.1l3.4 6l3.6 6l3.6 5.9l3.8 5.9l3.9 5.9l4 5.9l4.1 5.8l4.3 5.8l4.4 5.7l4.5 5.7l4.6 5.7l4.7 5.6l4.9 5.6l4.9 5.6l5.1 5.5l5.2 5.4l5.3 5.4l5.4 5.4l5.6 5.3l5.6 5.2l5.7 5.2l5.9 5.2l5.9 5l6.1 5.1l6.1 4.9l6.2 4.9l6.4 4.8l6.4 4.8l6.5 4.7l6.6 4.6l6.6 4.5l6.7 4.5l6.8 4.4l6.8 4.3l6.9 4.2l6.9 4.2l6.9 4l6.9 4l6.9 3.8l6.9 3.8l6.9 3.6l6.9 3.6l6.7 3.4l6.7 3.3l6.6 3.2l6.4 3.1l6.3 3l6.2 2.8l5.9 2.7l5.8 2.6l5.5 2.4l5.2 2.2l4.9 2.1l4.7 2l4.2 1.8l4 1.6l3.5 1.5l3.2 1.2l2.7 1.1l2.4 1l1.8 0.7l1.4 0.6l1 0.3l0.5 0.2zM635.7 877.7l-1-4h-31.2l-1.4-4h-24.5l-1.6-4.2h-21.3l-1.8-4.2h-17.9l-2-4.3h-18l-2.2-4.4h-10.9l-2.2-4.5h-14.7l-2.4-4.5h-11.1l-2.4-4.6h-11.3l-2.5-4.7h-7.5l-2.6-4.8h-7.6l-2.6-4.8h-7.7l-2.5-4.9h-7.8l-2.6-4.9h-7.8l-2.7-5.1h-7.9l-2.6-5h-4l-2.6-5.2h-8l-2.7-5.2h-4l-2.6-5.2h-4.1l-2.6-5.3h-8.2l-2.6-5.4h-4.1l-2.6-5.4h-4.1l-2.6-5.4h-4.2l-2.5-5.5h-4.2l-2.5-5.6h-8.4l-2.5-5.6h-4.3l-2.4-5.6h-4.3l-2.4-5.7h-4.3l-2.4-5.7h-4.3l-2.3-5.7h-4.4l-2.3-5.8h-4.3l-2.3-5.8h-4.4l-2.2-5.9h-8.8l-2.2-5.9h-4.4l-2.1-5.9h-4.5l-2-5.9h-4.5l-2-6h-9l-2-6h-4.5l-1.9-6.1h-9l-1.9-6h-9.1l-1.8-6.1h-4.6l-1.8-6.1h-9.1l-1.7-6.2h-9.2l-1.7-6.1h-9.2l-1.6-6.2h-9.2l-1.5-6.2h-4.7l-1.4-6.2h-9.3l-1.4-6.2h-9.3l-1.4-6.3h-9.3l-1.3-6.2h-9.3l-1.2-6.3h-4.7l-1.1-6.3h-9.3l-1.1-6.3h-9.4l-0.9-6.3h-4.7l-0.9-6.3h-9.4l-0.8-6.4h-4.7l-0.7-6.3h-9.4l-0.6-6.3h-9.4l-0.5-6.4h-4.7l-0.5-6.3h-4.7l-0.3-6.4h-9.4l-0.2-6.4h-4.8l-0.1-6.3h-9.4v-6.4h-4.7l0.1-6.3h-4.7l0.2-6.4h-4.7l0.3-6.4l0.4-6.3h-4.7l0.6-6.4h4.7l0.6-6.3h4.7l0.8-6.3h18.8l0.8-6.4h79.9l-0.8 6.4h51.8l-0.6 6.3h51.7l-0.4 6.3h117.7l0.4-6.3h42.4l0.4-6.3h23.5l0.4-6.4h23.5l0.4-6.3h18.8l0.4-6.3h18.8l0.5-6.3h18.7l0.5-6.3h18.6l0.5-6.3h23.3l0.5-6.2h27.9l0.5-6.3h74.2l-0.3 6.3h23.2l-0.2 6.2h18.6l-0.1 6.3h14l-0.2 6.3h9.4l-0.1 6.3h9.4l-0.1 6.3h9.3v6.3h9.4l-0.1 6.4h4.7v6.3h4.7v6.3h9.4v6.4h4.7v6.3h4.7v6.4h4.7v6.4h4.7v6.3h4.8v6.4h4.7v6.3h9.4v6.4h4.7v6.4h9.5l-0.1 6.3h18.9v6.4h51.8l-0.1 6.3h28.2l-0.1 6.3h14.1l-0.1 6.4h9.3l-0.2 6.3h4.7l-0.2 6.3h4.7l-0.3 6.3h4.7l-0.3 6.3l-0.3 6.3h4.7l-0.4 6.2h4.7l-0.4 6.3l-0.4 6.2h4.6l-0.5 6.2l-0.4 6.2l-0.5 6.2h4.6l-0.6 6.1l-0.5 6.2l-0.6 6.1l-0.6 6.1l-0.7 6h4.5l-0.6 6.1l-0.7 6l-0.8 6l-0.7 5.9l-0.8 5.9l-0.8 5.9l-0.9 5.9l-0.8 5.8l-0.9 5.8l-1 5.7l-0.9 5.7l-1 5.7l-0.9 5.6l-1.1 5.6h-4.2l-1 5.6l-1 5.5l-1.1 5.4l-1.1 5.4h-4.1l-1.1 5.4l-1 5.3h-4.1l-1.1 5.2l-1.1 5.2h-4l-1.1 5.2l-1.1 5h-4l-1.1 5.1h-3.9l-1.1 4.9h-3.9l-1 4.9h-3.9l-1 4.8h-3.9l-1 4.8h-3.8l-1 4.7h-3.7l-1 4.6h-7.5l-0.9 4.5h-7.4l-0.9 4.5h-7.2l-0.9 4.4h-7.2l-0.7 4.3h-10.8l-0.6 4.2h-10.6l-0.6 4.2h-17.5l-0.4 4h-20.8l-0.2 4z"/>
<path fill="#64159f" d="M194.3 952h1085.4v-16.7l0.5-0.2l1-0.3l1.4-0.6l1.8-0.7l2.4-1l2.7-1.1l3.2-1.2l3.5-1.5l4-1.6l4.2-1.8l4.7-2l4.9-2.1l5.2-2.2l5.5-2.4l5.8-2.6l5.9-2.7l6.2-2.8l6.3-3l6.4-3.1l6.6-3.2l6.7-3.3l6.7-3.4l6.9-3.6l6.9-3.6l6.9-3.8l6.9-3.8l6.9-4l6.9-4l6.9-4.2l6.9-4.2l6.8-4.3l6.8-4.4l6.7-4.5l6.6-4.5l6.6-4.6l6.5-4.7l6.4-4.8l6.4-4.8l6.2-4.9l6.1-4.9l6.1-5.1l5.9-5l5.9-5.2l5.7-5.2l5.6-5.2l5.6-5.3l5.4-5.4l5.3-5.4l5.2-5.4l5.1-5.5l4.9-5.6l4.9-5.6l4.7-5.6l4.6-5.7l4.5-5.7l4.4-5.7l4.3-5.8l4.1-5.8l4-5.9l3.9-5.9l3.8-5.9l3.6-5.9l3.6-6l3.4-6l3.2-6.1l3.2-6l3-6.1l2.9-6.1l2.7-6.2l2.7-6.1l2.5-6.2l2.4-6.2l2.2-6.2l2.1-6.2l2-6.3l1.9-6.2l1.7-6.3l1.6-6.3l1.4-6.3l1.4-6.3l1.2-6.3l1-6.4l1-6.3l0.8-6.3l0.6-6.4l0.6-6.3l0.4-6.4l0.2-6.4l0.2-6.3v-6.4h-73.2l-0.1-6.3h-9.5l-0.2-6.4h-14.2l-0.3-6.4h-9.5l-0.4-6.3h-9.5l-0.6-6.4h-4.7l-0.7-6.3h-9.4l-0.8-6.3h-4.7l-0.9-6.4h-4.7l-1-6.3l-1.1-6.3l-1.3-6.3h-4.6l-1.4-6.3h4.7l-1.5-6.3l-1.5-6.2h4.6l-1.7-6.3h4.6l-1.8-6.2h4.7l-2-6.2h9.3l-2.1-6.2h13.8l-2.2-6.2h18.3l-2.4-6.1h80.1l-2.7-6.2l-2.9-6.1l-3-6.1l-3.2-6l-3.2-6.1l-3.4-6l-3.6-6l-3.6-5.9l-3.8-5.9l-3.9-5.9l-4-5.9l-4.1-5.8l-4.3-5.8l-4.4-5.7l-4.5-5.7l-4.6-5.7l-4.7-5.6l-4.9-5.6l-4.9-5.6l-5.1-5.5l-5.2-5.4l-5.3-5.4l-5.4-5.4l-5.6-5.3l-5.6-5.2l-5.7-5.2l-5.9-5.2l-5.9-5l-6.1-5.1l-6.1-4.9l-6.2-4.9l-6.4-4.8l-6.4-4.8l-6.5-4.7l-6.6-4.6l-6.6-4.5l-6.7-4.5l-6.8-4.4l-6.8-4.3l-6.9-4.2l-6.9-4.2l-6.9-4l-6.9-4l-6.9-3.8l-6.9-3.8l-6.9-3.6l-6.9-3.6l-6.7-3.4l-6.7-3.3l-6.6-3.2l-6.4-3.1l-6.3-3l-6.2-2.8l-5.9-2.7l-5.8-2.6l-5.5-2.4l-5.2-2.2l-4.9-2.1l-4.7-2l-4.2-1.8l-4-1.6l-3.5-1.5l-3.2-1.2l-2.7-1.1l-2.4-1l-1.8-0.7l-1.4-0.6l-1-0.3l-0.5-0.2v-14.1h-1085.4v14.1l-0.5 0.2l-1 0.3l-1.4 0.6l-1.8 0.7l-2.4 1l-2.7 1.1l-3.2 1.2l-3.5 1.5l-4 1.6l-4.2 1.8l-4.7 2l-4.9 2.1l-5.2 2.2l-5.5 2.4l-5.8 2.6l-5.9 2.7l-6.2 2.8l-6.3 3l-6.4 3.1l-6.6 3.2l-6.7 3.3l-6.7 3.4l-6.9 3.6l-6.9 3.6l-6.9 3.8l-6.9 3.8l-6.9 4l-6.9 4l-6.9 4.2l-6.9 4.2l-6.8 4.3l-6.8 4.4l-6.7 4.5l-6.6 4.5l-6.6 4.6l-6.5 4.7l-6.4 4.8l-6.4 4.8l-6.2 4.9l-6.1 4.9l-6.1 5.1l-5.9 5l-5.9 5.2l-5.7 5.2l-5.6 5.2l-5.6 5.3l-5.4 5.4l-5.3 5.4l-5.2 5.4l-5.1 5.5l-4.9 5.6l-4.9 5.6l-4.7 5.6l-4.6 5.7l-4.5 5.7l-4.4 5.7l-4.3 5.8l-4.1 5.8l-4 5.9l-3.9 5.9l-3.8 5.9l-3.6 5.9l-3.6 6l-3.4 6l-3.2 6.1l-3.2 6l-3 6.1l-2.9 6.1l-2.7 6.2h130.4l-2.2 6.1h32.1l-2 6.2h23l-1.9 6.2h23.1l-1.7 6.2h23.1l-1.5 6.2h23.2l-1.5 6.3h23.3l-1.3 6.2h23.3l-1.1 6.3h28l-1 6.3h28l-0.9 6.3h42.2l-0.7 6.3h89.1l0.6-6.3h37.5l0.6-6.3h28l0.6-6.3h18.7l0.6-6.3h18.7l0.6-6.2h18.6l0.6-6.3h18.6l0.6-6.2h18.6l0.6-6.2h18.5l0.6-6.2h27.6l0.6-6.2h105.6l-0.3 6.2h23l-0.2 6.2h18.5l-0.2 6.2h13.9l-0.1 6.2h13.9v6.3h13.9v6.2h14v6.3h9.3v6.3h14l0.1 6.3h14l0.1 6.3h14.1v6.3h14.1l0.1 6.4h23.5l0.1 6.3h18.8l0.1 6.3h23.6l0.1 6.4h18.8l0.1 6.3h14.1l0.1 6.4h9.5v6.4h9.5v6.3h4.7v6.4h4.7v6.3h4.7v6.4h4.7l-0.1 6.4l-0.1 6.3h4.7l-0.2 6.4l-0.1 6.3l-0.3 6.3l-0.2 6.4l-0.3 6.3h4.7l-0.3 6.3l-0.3 6.3l-0.4 6.3l-0.4 6.3l-0.4 6.2l-0.5 6.3l-0.4 6.2l-0.6 6.2l-0.5 6.2l-0.6 6.2l-0.6 6.1l-0.6 6.2l-0.7 6.1l-0.7 6.1l-0.7 6l-0.7 6.1l-0.8 6l-0.8 6l-0.9 5.9l-0.8 5.9l-0.9 5.9l-0.9 5.9l-1 5.8l-1 5.8l-1 5.7l-1 5.7l-1.1 5.7l-1 5.6h-4.3l-1.1 5.6l-1.1 5.6l-1.1 5.5l-1.2 5.4l-1.2 5.4h-4.1l-1.2 5.4l-1.2 5.3l-1.2 5.2h-4.1l-1.2 5.2l-1.2 5.2h-4l-1.3 5l-1.2 5.1h-3.9l-1.3 4.9h-3.9l-1.2 4.9h-3.9l-1.2 4.8l-1.2 4.8h-3.8l-1.2 4.7h-7.5l-1.2 4.6h-3.7l-1.1 4.5h-3.7l-1.1 4.5h-7.3l-1.1 4.4h-3.6l-1 4.3h-7.2l-1 4.2h-10.6l-0.9 4.2h-7l-0.8 4h-13.8l-0.7 4h-13.7l-0.5 3.8h-17l-0.4 3.8h-26.9v3.6h-96.5l-0.9-3.6h-37l-1.4-3.8h-23.8l-1.6-3.8h-20.6l-1.8-4h-17.3l-2.1-4h-17.5l-2.2-4.2h-14.1l-2.3-4.2h-10.8l-2.4-4.3h-10.8l-2.5-4.4h-10.9l-2.6-4.5h-11l-2.7-4.5h-7.4l-2.7-4.6h-7.5l-2.7-4.7h-7.6l-2.8-4.8h-7.6l-2.8-4.8h-7.7l-2.8-4.9h-7.8l-2.8-4.9h-3.9l-2.8-5.1h-7.9l-2.8-5h-4l-2.8-5.2h-8l-2.9-5.2h-4l-2.8-5.2h-4.1l-2.7-5.3h-8.2l-2.8-5.4h-4.1l-2.8-5.4h-4.1l-2.7-5.4h-4.2l-2.7-5.5h-8.4l-2.6-5.6h-4.3l-2.6-5.6h-4.3l-2.6-5.6h-4.2l-2.6-5.7h-8.6l-2.5-5.7h-4.3l-2.5-5.7h-4.4l-2.4-5.8h-8.7l-2.5-5.8h-4.4l-2.3-5.9h-8.8l-2.4-5.9h-4.4l-2.3-5.9h-8.9l-2.2-5.9h-8.9l-2.3-6h-8.9l-2.2-6h-9l-2.1-6.1h-9l-2.1-6h-9.1l-2-6.1h-9.1l-1.9-6.1h-9.2l-1.9-6.2h-9.1l-1.9-6.1h-9.2l-1.7-6.2h-9.2l-1.7-6.2h-9.3l-1.6-6.2h-9.3l-1.5-6.2h-9.3l-1.5-6.3h-9.3l-1.4-6.2h-4.7l-1.3-6.3h-9.3l-1.3-6.3h-9.3l-1.2-6.3h-14l-1.1-6.3h-9.4l-0.9-6.3h-9.4l-0.9-6.4h-9.4l-0.8-6.3h-14.1l-0.7-6.3h-9.4l-0.6-6.4h-9.4l-0.5-6.3h-14.1l-0.4-6.4h-14.1l-0.3-6.4h-9.4l-0.1-6.3h-14.2v-6.4h-68.5v6.4l0.2 6.3l0.2 6.4l0.4 6.4l0.6 6.3l0.6 6.4l0.8 6.3l1 6.3l1 6.4l1.2 6.3l1.4 6.3l1.4 6.3l1.6 6.3l1.7 6.3l1.9 6.2l2 6.3l2.1 6.2l2.2 6.2l2.4 6.2l2.5 6.2l2.7 6.1l2.7 6.2l2.9 6.1l3 6.1l3.2 6l3.2 6.1l3.4 6l3.6 6l3.6 5.9l3.8 5.9l3.9 5.9l4 5.9l4.1 5.8l4.3 5.8l4.4 5.7l4.5 5.7l4.6 5.7l4.7 5.6l4.9 5.6l4.9 5.6l5.1 5.5l5.2 5.4l5.3 5.4l5.4 5.4l5.6 5.3l5.6 5.2l5.7 5.2l5.9 5.2l5.9 5l6.1 5.1l6.1 4.9l6.2 4.9l6.4 4.8l6.4 4.8l6.5 4.7l6.6 4.6l6.6 4.5l6.7 4.5l6.8 4.4l6.8 4.3l6.9 4.2l6.9 4.2l6.9 4l6.9 4l6.9 3.8l6.9 3.8l6.9 3.6l6.9 3.6l6.7 3.4l6.7 3.3l6.6 3.2l6.4 3.1l6.3 3l6.2 2.8l5.9 2.7l5.8 2.6l5.5 2.4l5.2 2.2l4.9 2.1l4.7 2l4.2 1.8l4 1.6l3.5 1.5l3.2 1.2l2.7 1.1l2.4 1l1.8 0.7l1.4 0.6l1 0.3l0.5 0.2z"/>
<path fill="#6c159f" d="M194.3 952h1085.4v-16.7l0.5-0.2l1-0.3l1.4-0.6l1.8-0.7l2.4-1l2.7-1.1l3.2-1.2l3.5-1.5l4-1.6l4.2-1.8l4.7-2l4.9-2.1l5.2-2.2l5.5-2.4l5.8-2.6l5.9-2.7l6.2-2.8l6.3-3l6.4-3.1l6.6-3.2l6.7-3.3l6.7-3.4l6.9-3.6l6.9-3.6l6.9-3.8l6.9-3.8l6.9-4l6.9-4l6.9-4.2l6.9-4.2l6.8-4.3l6.8-4.4l6.7-4.5l6.6-4.5l6.6-4.6l6.5-4.7l6.4-4.8l6.4-4.8l6.2-4.9l6.1-4.9l6.1-5.1l5.9-5l5.9-5.2l5.7-5.2l5.6-5.2l5.6-5.3l5.4-5.4l5.3-5.4l5.2-5.4l5.1-5.5l4.9-5.6l4.9-5.6l4.7-5.6l4.6-5.7l4.5-5.7l4.4-5.7l4.3-5.8l4.1-5.8l4-5.9l3.9-5.9l3.8-5.9l3.6-5.9l3.6-6l3.4-6l3.2-6.1l3.2-6l3-6.1l2.9-6.1l2.7-6.2l2.7-6.1l2.5-6.2l2.4-6.2l2.2-6.2l2.1-6.2l2-6.3l1.9-6.2l1.7-6.3l1.6-6.3l1.4-6.3l1.4-6.3l1.2-6.3l1-6.4l1-6.3l0.8-6.3h-73.1l0.7-6.4h-14.2l0.5-6.3h-14.2l0.4-6.4h-14.2l0.3-6.4h-9.5l0.1-6.3h-14.1v-6.4h-9.5l-0.1-6.3h-14.1l-0.3-6.4h-9.4l-0.3-6.4h-9.5l-0.4-6.3h-9.4l-0.5-6.4h-4.7l-0.7-6.3h-4.7l-0.7-6.3h-4.7l-0.8-6.4h-4.7l-1-6.3l-1-6.3l-1.1-6.3l-1.2-6.3l-1.4-6.3h4.7l-1.4-6.2l-1.6-6.3h4.7l-1.7-6.2h4.6l-1.7-6.2h4.6l-1.9-6.2h9.2l-2-6.2h4.6l-2.1-6.1h9.1l-2.2-6.2h9.1l-2.4-6.1h9.1l-2.5-6.1h9l-2.6-6h13.5l-2.8-6.1h18l-3-6h31.4l-3.3-6h69.2l-3.6-5.9l-3.8-5.9l-3.9-5.9l-4-5.9l-4.1-5.8l-4.3-5.8l-4.4-5.7l-4.5-5.7l-4.6-5.7l-4.7-5.6l-4.9-5.6l-4.9-5.6l-5.1-5.5l-5.2-5.4l-5.3-5.4l-5.4-5.4l-5.6-5.3l-5.6-5.2l-5.7-5.2l-5.9-5.2l-5.9-5l-6.1-5.1l-6.1-4.9l-6.2-4.9l-6.4-4.8l-6.4-4.8l-6.5-4.7l-6.6-4.6l-6.6-4.5l-6.7-4.5l-6.8-4.4l-6.8-4.3l-6.9-4.2l-6.9-4.2l-6.9-4l-6.9-4l-6.9-3.8l-6.9-3.8l-6.9-3.6l-6.9-3.6l-6.7-3.4l-6.7-3.3l-6.6-3.2l-6.4-3.1l-6.3-3l-6.2-2.8l-5.9-2.7l-5.8-2.6l-5.5-2.4l-5.2-2.2l-4.9-2.1l-4.7-2l-4.2-1.8l-4-1.6l-3.5-1.5l-3.2-1.2l-2.7-1.1l-2.4-1l-1.8-0.7l-1.4-0.6l-1-0.3l-0.5-0.2v-14.1h-1085.4v14.1l-0.5 0.2l-1 0.3l-1.4 0.6l-1.8 0.7l-2.4 1l-2.7 1.1l-3.2 1.2l-3.5 1.5l-4 1.6l-4.2 1.8l-4.7 2l-4.9 2.1l-5.2 2.2l-5.5 2.4l-5.8 2.6l-5.9 2.7l-6.2 2.8l-6.3 3l-6.4 3.1l-6.6 3.2l-6.7 3.3l-6.7 3.4l-6.9 3.6l-6.9 3.6l-6.9 3.8l-6.9 3.8l-6.9 4l-6.9 4l-6.9 4.2l-6.9 4.2l-6.8 4.3l-6.8 4.4l-6.7 4.5l-6.6 4.5l-6.6 4.6l-6.5 4.7l-6.4 4.8l-6.4 4.8l-6.2 4.9l-6.1 4.9l-6.1 5.1l-5.9 5l-5.9 5.2l-5.7 5.2l-5.6 5.2l-5.6 5.3l-5.4 5.4l-5.3 5.4l-5.2 5.4l-5.1 5.5l-4.9 5.6l-4.9 5.6l-4.7 5.6l-4.6 5.7l-4.5 5.7l-4.4 5.7l-4.3 5.8l-4.1 5.8l-4 5.9l-3.9 5.9l-3.8 5.9l-3.6 5.9h100.4l-3.1 6h35.9l-2.9 6h27l-2.6 6.1h18l-2.5 6h22.7l-2.3 6.1h18.2l-2.2 6.1h18.3l-2 6.2h13.7l-1.9 6.1h18.4l-1.7 6.2h18.4l-1.6 6.2h18.5l-1.5 6.2h23.2l-1.3 6.2h23.2l-1.2 6.3h32.5l-1 6.2h116.5l0.8-6.2h32.5l0.8-6.3h18.5l0.8-6.2h18.6l0.7-6.2h18.5l0.8-6.2h18.4l0.8-6.2h18.4l0.7-6.1h18.4l0.7-6.2h18.3l0.7-6.1h27.3l0.6-6.1h104.3l-0.3 6.1h27.3l-0.2 6.1h22.8l-0.1 6.2h18.3l-0.1 6.1h18.4v6.2h13.8v6.2h18.5l0.1 6.2h18.5l0.1 6.2h18.6l0.1 6.3h23.3l0.2 6.2h18.6l0.2 6.3h23.3l0.3 6.3h18.7l0.2 6.3h18.8l0.2 6.3h14.1l0.2 6.3h14.1l0.2 6.4h9.5l0.2 6.3h9.4l0.2 6.3h4.7l0.1 6.4h4.8l0.1 6.3h4.7l0.1 6.4h4.7l0.1 6.4h4.7l0.1 6.3v6.4l-0.1 6.3v6.4l-0.2 6.4l-0.1 6.3l-0.2 6.4l-0.2 6.3l-0.2 6.3l-0.3 6.4l-0.3 6.3h-4.7l-0.4 6.3l-0.4 6.3l-0.4 6.3l-0.4 6.3l-0.5 6.2l-0.5 6.3h-4.7l-0.5 6.2l-0.6 6.2l-0.6 6.2l-0.6 6.2l-0.7 6.1l-0.7 6.2l-0.7 6.1l-0.8 6.1l-0.8 6l-0.8 6.1h-4.5l-0.9 6l-0.9 6l-0.9 5.9l-0.9 5.9l-1 5.9l-1 5.9l-1 5.8l-1.1 5.8l-1.1 5.7l-1.1 5.7l-1.2 5.7h-4.2l-1.2 5.6l-1.2 5.6l-1.2 5.6l-1.2 5.5l-1.3 5.4h-4.2l-1.2 5.4l-1.3 5.4l-1.4 5.3h-4l-1.3 5.2l-1.4 5.2l-1.4 5.2h-3.9l-1.4 5l-1.4 5.1h-3.9l-1.4 4.9l-1.4 4.9h-3.8l-1.4 4.8h-3.8l-1.4 4.8h-3.8l-1.3 4.7l-1.4 4.6h-3.7l-1.4 4.5h-7.3l-1.3 4.5h-3.7l-1.2 4.4h-3.7l-1.2 4.3h-7.1l-1.2 4.2h-3.6l-1.1 4.2h-7l-1.1 4h-10.4l-1 4h-6.9l-0.9 3.8h-10.2l-0.8 3.8h-13.4l-0.7 3.6h-16.6l-0.5 3.6h-23l-0.2 3.4h-42.4l0.3 3.3h-45.1l-0.7-3.3h-48.9l-1.2-3.4h-26.3l-1.6-3.6h-23.2l-1.8-3.6h-20.2l-2-3.8h-13.6l-2.2-3.8h-13.7l-2.3-4h-13.9l-2.4-4h-10.5l-2.6-4.2h-10.6l-2.6-4.2h-10.7l-2.8-4.3h-10.8l-2.8-4.4h-7.3l-2.8-4.5h-7.4l-2.9-4.5h-7.4l-3-4.6h-7.5l-2.9-4.7h-7.6l-3-4.8h-7.6l-3-4.8h-3.9l-3-4.9h-7.7l-3.1-4.9h-3.9l-3-5.1h-7.9l-3-5h-3.9l-3-5.2h-8l-3-5.2h-4.1l-3-5.2h-4l-3-5.3h-8.1l-3-5.4h-4.1l-2.9-5.4h-4.2l-2.8-5.4h-8.4l-2.9-5.5h-4.2l-2.8-5.6h-4.2l-2.8-5.6h-8.5l-2.8-5.6h-4.2l-2.8-5.7h-8.6l-2.7-5.7h-4.3l-2.6-5.7h-8.7l-2.6-5.8h-8.8l-2.6-5.8h-8.7l-2.6-5.9h-8.8l-2.5-5.9h-8.9l-2.4-5.9h-8.9l-2.5-5.9h-8.9l-2.4-6h-8.9l-2.4-6h-9l-2.3-6.1h-9l-2.2-6h-9.1l-2.2-6.1h-9.1l-2.1-6.1h-9.1l-2.1-6.2h-9.1l-2-6.1h-9.2l-1.9-6.2h-9.2l-1.8-6.2h-9.2l-1.8-6.2h-9.3l-1.6-6.2h-14l-1.6-6.3h-9.3l-1.5-6.2h-9.3l-1.4-6.3h-9.4l-1.3-6.3h-14l-1.3-6.3h-14l-1.2-6.3h-9.3l-1.1-6.3h-14.1l-0.9-6.4h-14.1l-0.9-6.3h-14.1l-0.8-6.3h-68.3l0.8 6.3l1 6.3l1 6.4l1.2 6.3l1.4 6.3l1.4 6.3l1.6 6.3l1.7 6.3l1.9 6.2l2 6.3l2.1 6.2l2.2 6.2l2.4 6.2l2.5 6.2l2.7 6.1l2.7 6.2l2.9 6.1l3 6.1l3.2 6l3.2 6.1l3.4 6l3.6 6l3.6 5.9l3.8 5.9l3.9 5.9l4 5.9l4.1 5.8l4.3 5.8l4.4 5.7l4.5 5.7l4.6 5.7l4.7 5.6l4.9 5.6l4.9 5.6l5.1 5.5l5.2 5.4l5.3 5.4l5.4 5.4l5.6 5.3l5.6 5.2l5.7 5.2l5.9 5.2l5.9 5l6.1 5.1l6.1 4.9l6.2 4.9l6.4 4.8l6.4 4.8l6.5 4.7l6.6 4.6l6.6 4.5l6.7 4.5l6.8 4.4l6.8 4.3l6.9 4.2l6.9 4.2l6.9 4l6.9 4l6.9 3.8l6.9 3.8l6.9 3.6l6.9 3.6l6.7 3.4l6.7 3.3l6.6 3.2l6.4 3.1l6.3 3l6.2 2.8l5.9 2.7l5.8 2.6l5.5 2.4l5.2 2.2l4.9 2.1l4.7 2l4.2 1.8l4 1.6l3.5 1.5l3.2 1.2l2.7 1.1l2.4 1l1.8 0.7l1.4 0.6l1 0.3l0.5 0.2z"/>
<path fill="#72159f" d="M194.3 952h1085.4v-16.7l0.5-0.2l1-0.3l1.4-0.6l1.8-0.7l2.4-1l2.7-1.1l3.2-1.2l3.5-1.5l4-1.6l4.2-1.8l4.7-2l4.9-2.1l5.2-2.2l5.5-2.4l5.8-2.6l5.9-2.7l6.2-2.8l6.3-3l6.4-3.1l6.6-3.2l6.7-3.3l6.7-3.4l6.9-3.6l6.9-3.6l6.9-3.8l6.9-3.8l6.9-4l6.9-4l6.9-4.2l6.9-4.2l6.8-4.3l6.8-4.4l6.7-4.5l6.6-4.5l6.6-4.6l6.5-4.7l6.4-4.8l6.4-4.8l6.2-4.9l6.1-4.9l6.1-5.1l5.9-5l5.9-5.2l5.7-5.2l5.6-5.2l5.6-5.3l5.4-5.4l5.3-5.4l5.2-5.4l5.1-5.5l4.9-5.6l4.9-5.6l4.7-5.6l4.6-5.7l4.5-5.7l4.4-5.7l4.3-5.8l4.1-5.8l4-5.9l3.9-5.9l3.8-5.9l3.6-5.9l3.6-6l3.4-6l3.2-6.1l3.2-6l3-6.1l2.9-6.1l2.7-6.2l2.7-6.1l2.5-6.2l2.4-6.2l2.2-6.2l2.1-6.2l2-6.3l1.9-6.2l1.7-6.3l1.6-6.3l1.4-6.3l1.4-6.3h-77.4l1.1-6.3h-14.1l0.9-6.4h-14.1l0.9-6.3h-14.2l0.7-6.3h-14.1l0.6-6.4h-14.2l0.5-6.3h-14.2l0.3-6.4h-14.1l0.2-6.4h-9.4l0.1-6.3h-14.2v-6.4h-14.2l-0.1-6.3h-9.4l-0.2-6.4h-14.2l-0.3-6.4h-4.7l-0.4-6.3h-9.4l-0.5-6.4h-4.7l-0.6-6.3h-4.7l-0.6-6.3l-0.8-6.4h-4.7l-0.8-6.3l-1-6.3h4.7l-1-6.3l-1.2-6.3h4.7l-1.3-6.3l-1.3-6.2h4.7l-1.5-6.3h4.7l-1.6-6.2h4.6l-1.6-6.2h4.6l-1.7-6.2h9.2l-1.9-6.2h4.6l-2-6.1h9.1l-2.1-6.2h4.6l-2.2-6.1h9.1l-2.4-6.1h9.1l-2.5-6h9l-2.6-6.1h9l-2.8-6h9l-2.9-6h13.4l-3.1-5.9h13.4l-3.2-5.9h17.7l-3.4-5.9h22l-3.6-5.9h85.5l-4.1-5.8l-4.3-5.8l-4.4-5.7l-4.5-5.7l-4.6-5.7l-4.7-5.6l-4.9-5.6l-4.9-5.6l-5.1-5.5l-5.2-5.4l-5.3-5.4l-5.4-5.4l-5.6-5.3l-5.6-5.2l-5.7-5.2l-5.9-5.2l-5.9-5l-6.1-5.1l-6.1-4.9l-6.2-4.9l-6.4-4.8l-6.4-4.8l-6.5-4.7l-6.6-4.6l-6.6-4.5l-6.7-4.5l-6.8-4.4l-6.8-4.3l-6.9-4.2l-6.9-4.2l-6.9-4l-6.9-4l-6.9-3.8l-6.9-3.8l-6.9-3.6l-6.9-3.6l-6.7-3.4l-6.7-3.3l-6.6-3.2l-6.4-3.1l-6.3-3l-6.2-2.8l-5.9-2.7l-5.8-2.6l-5.5-2.4l-5.2-2.2l-4.9-2.1l-4.7-2l-4.2-1.8l-4-1.6l-3.5-1.5l-3.2-1.2l-2.7-1.1l-2.4-1l-1.8-0.7l-1.4-0.6l-1-0.3l-0.5-0.2v-14.1h-1085.4v14.1l-0.5 0.2l-1 0.3l-1.4 0.6l-1.8 0.7l-2.4 1l-2.7 1.1l-3.2 1.2l-3.5 1.5l-4 1.6l-4.2 1.8l-4.7 2l-4.9 2.1l-5.2 2.2l-5.5 2.4l-5.8 2.6l-5.9 2.7l-6.2 2.8l-6.3 3l-6.4 3.1l-6.6 3.2l-6.7 3.3l-6.7 3.4l-6.9 3.6l-6.9 3.6l-6.9 3.8l-6.9 3.8l-6.9 4l-6.9 4l-6.9 4.2l-6.9 4.2l-6.8 4.3l-6.8 4.4l-6.7 4.5l-6.6 4.5l-6.6 4.6l-6.5 4.7l-6.4 4.8l-6.4 4.8l-6.2 4.9l-6.1 4.9l-6.1 5.1l-5.9 5l-5.9 5.2l-5.7 5.2l-5.6 5.2l-5.6 5.3l-5.4 5.4l-5.3 5.4l-5.2 5.4l-5.1 5.5l-4.9 5.6l-4.9 5.6l-4.7 5.6l-4.6 5.7l-4.5 5.7l-4.4 5.7l-4.3 5.8l-4.1 5.8h120.6l-3.4 5.9h30.8l-3.2 5.9h22.1l-3 5.9h17.8l-2.8 5.9h17.8l-2.6 6h13.4l-2.5 6h18l-2.3 6.1h13.5l-2.2 6h13.6l-2.1 6.1h18.2l-1.9 6.1h13.7l-1.8 6.2h18.3l-1.7 6.1h18.4l-1.5 6.2h23l-1.4 6.2h32.3l-1.2 6.2h106.4l1-6.2h27.7l0.9-6.2h23.1l0.9-6.2h18.4l0.9-6.1h18.3l0.9-6.2h13.7l0.9-6.1h18.2l0.9-6.1h18.2l0.8-6h18.1l0.8-6.1h27l0.8-6h31.4l0.6-6h67l-0.4 6h35.9l-0.3 6h22.5l-0.1 6.1h22.6l-0.1 6h18.2v6.1h18.2v6.1h22.9l0.1 6.2h18.3l0.2 6.1h18.4l0.2 6.2h23l0.3 6.2h23.1l0.3 6.2h18.5l0.3 6.2h23.2l0.4 6.3h18.6l0.4 6.2h14l0.4 6.3h14l0.3 6.3h14.1l0.3 6.3h9.4l0.4 6.3h9.3l0.4 6.3h9.4l0.3 6.4h4.7l0.2 6.3h4.8l0.2 6.3h4.7l0.2 6.4h4.7l0.2 6.3l0.1 6.4l0.1 6.4v6.3v6.4v6.3l-0.1 6.4l-0.1 6.4h-4.7l-0.2 6.3l-0.2 6.4l-0.2 6.3h-4.7l-0.3 6.3l-0.3 6.4h-4.7l-0.4 6.3l-0.4 6.3l-0.4 6.3h-4.7l-0.4 6.3l-0.5 6.3l-0.5 6.2h-4.7l-0.6 6.3l-0.6 6.2l-0.6 6.2h-4.6l-0.7 6.2l-0.6 6.2l-0.8 6.1l-0.7 6.2l-0.8 6.1h-4.6l-0.8 6.1l-0.9 6l-0.8 6.1l-1 6l-0.9 6l-1 5.9l-1 5.9l-1.1 5.9h-4.4l-1 5.9l-1.1 5.8l-1.2 5.8l-1.1 5.7l-1.2 5.7l-1.3 5.7l-1.2 5.6l-1.3 5.6h-4.2l-1.3 5.6l-1.3 5.5l-1.4 5.4l-1.4 5.4h-4.1l-1.4 5.4l-1.4 5.3l-1.4 5.2l-1.5 5.2h-4l-1.4 5.2l-1.5 5h-4l-1.5 5.1l-1.5 4.9h-3.8l-1.5 4.9l-1.5 4.8h-3.9l-1.5 4.8l-1.5 4.7h-3.7l-1.5 4.6h-3.8l-1.4 4.5h-3.7l-1.5 4.5h-3.6l-1.5 4.4h-3.6l-1.4 4.3h-3.6l-1.4 4.2h-7.1l-1.3 4.2h-3.5l-1.3 4h-6.9l-1.3 4h-6.8l-1.2 3.8h-6.8l-1.1 3.8h-10.1l-0.9 3.6h-10l-0.9 3.6h-13.1l-0.8 3.4h-16.2l-0.6 3.3h-22.5l-0.3 3.2h-35.1l0.1 3.1h-75.7l-0.9-3.1h-41.4l-1.3-3.2h-25.8l-1.6-3.3h-19.6l-1.8-3.4h-16.5l-2.1-3.6h-16.6l-2.2-3.6h-13.5l-2.4-3.8h-10.2l-2.5-3.8h-13.7l-2.7-4h-10.4l-2.7-4h-7.1l-2.8-4.2h-10.6l-2.9-4.2h-7.2l-2.9-4.3h-10.9l-3-4.4h-7.3l-3.1-4.5h-7.4l-3.1-4.5h-3.7l-3.1-4.6h-7.5l-3.2-4.7h-7.6l-3.2-4.8h-3.8l-3.1-4.8h-7.7l-3.2-4.9h-3.9l-3.2-4.9h-7.8l-3.2-5.1h-4l-3.1-5h-8l-3.2-5.2h-4l-3.1-5.2h-8.1l-3.1-5.2h-4.1l-3.1-5.3h-4.1l-3.1-5.4h-8.2l-3.1-5.4h-4.1l-3.1-5.4h-8.3l-3-5.5h-4.2l-3-5.6h-8.5l-2.9-5.6h-8.5l-3-5.6h-4.2l-2.9-5.7h-8.6l-2.9-5.7h-8.6l-2.9-5.7h-8.6l-2.8-5.8h-8.8l-2.7-5.8h-8.8l-2.7-5.9h-8.8l-2.7-5.9h-8.9l-2.6-5.9h-8.9l-2.6-5.9h-8.9l-2.5-6h-13.5l-2.5-6h-9l-2.4-6.1h-9.1l-2.3-6h-9.1l-2.3-6.1h-9.1l-2.3-6.1h-9.1l-2.2-6.2h-9.1l-2.1-6.1h-9.2l-2-6.2h-9.2l-2-6.2h-9.2l-1.9-6.2h-13.8l-1.8-6.2h-9.3l-1.7-6.3h-13.9l-1.7-6.2h-9.3l-1.5-6.3h-14l-1.4-6.3h-14.1l-1.3-6.3h-14l-1.3-6.3h-68l1.4 6.3l1.4 6.3l1.6 6.3l1.7 6.3l1.9 6.2l2 6.3l2.1 6.2l2.2 6.2l2.4 6.2l2.5 6.2l2.7 6.1l2.7 6.2l2.9 6.1l3 6.1l3.2 6l3.2 6.1l3.4 6l3.6 6l3.6 5.9l3.8 5.9l3.9 5.9l4 5.9l4.1 5.8l4.3 5.8l4.4 5.7l4.5 5.7l4.6 5.7l4.7 5.6l4.9 5.6l4.9 5.6l5.1 5.5l5.2 5.4l5.3 5.4l5.4 5.4l5.6 5.3l5.6 5.2l5.7 5.2l5.9 5.2l5.9 5l6.1 5.1l6.1 4.9l6.2 4.9l6.4 4.8l6.4 4.8l6.5 4.7l6.6 4.6l6.6 4.5l6.7 4.5l6.8 4.4l6.8 4.3l6.9 4.2l6.9 4.2l6.9 4l6.9 4l6.9 3.8l6.9 3.8l6.9 3.6l6.9 3.6l6.7 3.4l6.7 3.3l6.6 3.2l6.4 3.1l6.3 3l6.2 2.8l5.9 2.7l5.8 2.6l5.5 2.4l5.2 2.2l4.9 2.1l4.7 2l4.2 1.8l4 1.6l3.5 1.5l3.2 1.2l2.7 1.1l2.4 1l1.8 0.7l1.4 0.6l1 0.3l0.5 0.2z"/>
<path fill="#7c15a0" d="M194.3 952h1085.4v-16.7l0.5-0.2l1-0.3l1.4-0.6l1.8-0.7l2.4-1l2.7-1.1l3.2-1.2l3.5-1.5l4-1.6l4.2-1.8l4.7-2l4.9-2.1l5.2-2.2l5.5-2.4l5.8-2.6l5.9-2.7l6.2-2.8l6.3-3l6.4-3.1l6.6-3.2l6.7-3.3l6.7-3.4l6.9-3.6l6.9-3.6l6.9-3.8l6.9-3.8l6.9-4l6.9-4l6.9-4.2l6.9-4.2l6.8-4.3l6.8-4.4l6.7-4.5l6.6-4.5l6.6-4.6l6.5-4.7l6.4-4.8l6.4-4.8l6.2-4.9l6.1-4.9l6.1-5.1l5.9-5l5.9-5.2l5.7-5.2l5.6-5.2l5.6-5.3l5.4-5.4l5.3-5.4l5.2-5.4l5.1-5.5l4.9-5.6l4.9-5.6l4.7-5.6l4.6-5.7l4.5-5.7l4.4-5.7l4.3-5.8l4.1-5.8l4-5.9l3.9-5.9l3.8-5.9l3.6-5.9l3.6-6l3.4-6l3.2-6.1l3.2-6l3-6.1l2.9-6.1l2.7-6.2l2.7-6.1l2.5-6.2l2.4-6.2l2.2-6.2l2.1-6.2l2-6.3l1.9-6.2h-72.2l1.5-6.3h-14l1.5-6.3h-14.1l1.3-6.3h-14l1.2-6.3h-14.1l1-6.3h-14.1l0.9-6.4h-14.1l0.8-6.3h-18.8l0.6-6.3h-14.1l0.5-6.4h-18.9l0.4-6.3h-14.1l0.3-6.4h-18.9l0.2-6.4h-14.1v-6.3h-18.8v-6.4h-9.5l-0.1-6.3h-14.1l-0.2-6.4h-9.5l-0.2-6.4h-4.7l-0.4-6.3h-4.7l-0.4-6.4h-4.7l-0.6-6.3l-0.6-6.3l-0.7-6.4l-0.7-6.3h4.7l-0.9-6.3l-1-6.3h4.7l-1-6.3h4.6l-1.1-6.3h4.7l-1.3-6.2h4.7l-1.4-6.3h9.3l-1.4-6.2h4.6l-1.6-6.2h4.7l-1.7-6.2h9.2l-1.7-6.2h4.6l-1.9-6.1h9.1l-1.9-6.2h9.1l-2.1-6.1h4.5l-2.2-6.1h9.1l-2.4-6h9.1l-2.5-6.1h9l-2.6-6h4.5l-2.7-6h8.9l-2.9-5.9h13.4l-3-5.9h8.8l-3.1-5.9h13.2l-3.3-5.9h8.8l-3.5-5.8h17.5l-3.6-5.8h17.3l-3.8-5.7h30.2l-4.1-5.7h75.2l-4.6-5.7l-4.7-5.6l-4.9-5.6l-4.9-5.6l-5.1-5.5l-5.2-5.4l-5.3-5.4l-5.4-5.4l-5.6-5.3l-5.6-5.2l-5.7-5.2l-5.9-5.2l-5.9-5l-6.1-5.1l-6.1-4.9l-6.2-4.9l-6.4-4.8l-6.4-4.8l-6.5-4.7l-6.6-4.6l-6.6-4.5l-6.7-4.5l-6.8-4.4l-6.8-4.3l-6.9-4.2l-6.9-4.2l-6.9-4l-6.9-4l-6.9-3.8l-6.9-3.8l-6.9-3.6l-6.9-3.6l-6.7-3.4l-6.7-3.3l-6.6-3.2l-6.4-3.1l-6.3-3l-6.2-2.8l-5.9-2.7l-5.8-2.6l-5.5-2.4l-5.2-2.2l-4.9-2.1l-4.7-2l-4.2-1.8l-4-1.6l-3.5-1.5l-3.2-1.2l-2.7-1.1l-2.4-1l-1.8-0.7l-1.4-0.6l-1-0.3l-0.5-0.2v-14.1h-1085.4v14.1l-0.5 0.2l-1 0.3l-1.4 0.6l-1.8 0.7l-2.4 1l-2.7 1.1l-3.2 1.2l-3.5 1.5l-4 1.6l-4.2 1.8l-4.7 2l-4.9 2.1l-5.2 2.2l-5.5 2.4l-5.8 2.6l-5.9 2.7l-6.2 2.8l-6.3 3l-6.4 3.1l-6.6 3.2l-6.7 3.3l-6.7 3.4l-6.9 3.6l-6.9 3.6l-6.9 3.8l-6.9 3.8l-6.9 4l-6.9 4l-6.9 4.2l-6.9 4.2l-6.8 4.3l-6.8 4.4l-6.7 4.5l-6.6 4.5l-6.6 4.6l-6.5 4.7l-6.4 4.8l-6.4 4.8l-6.2 4.9l-6.1 4.9l-6.1 5.1l-5.9 5l-5.9 5.2l-5.7 5.2l-5.6 5.2l-5.6 5.3l-5.4 5.4l-5.3 5.4l-5.2 5.4l-5.1 5.5l-4.9 5.6l-4.9 5.6l-4.7 5.6l-4.6 5.7h113.8l-3.9 5.7h30.3l-3.6 5.7h26l-3.4 5.8h17.5l-3.2 5.8h17.5l-3 5.9h13.2l-2.9 5.9h13.3l-2.7 5.9h17.7l-2.5 5.9h13.4l-2.4 6h13.4l-2.3 6h13.5l-2.1 6.1h18l-2 6h13.6l-1.8 6.1h18.2l-1.8 6.1h22.8l-1.6 6.2h27.5l-1.4 6.1h101l1.1-6.1h27.5l1.1-6.2h22.8l1.1-6.1h18.2l1.1-6.1h13.6l1-6h18.1l1-6.1h18l1-6h18l0.9-6h17.9l0.9-5.9h17.8l0.9-5.9h31l0.8-5.9h101.3l-0.3 5.9h31l-0.2 5.9h22.2v5.9h22.3v6h18l0.1 6h22.5l0.1 6.1h18.1l0.2 6h22.7l0.3 6.1h18.2l0.3 6.1h22.9l0.4 6.2h22.9l0.4 6.1h18.4l0.5 6.2h18.4l0.5 6.2h18.5l0.5 6.2h13.9l0.5 6.2h18.6l0.5 6.3h14l0.5 6.2h9.3l0.5 6.3h14l0.5 6.3h9.4l0.4 6.3h9.4l0.4 6.3h4.7l0.4 6.3h4.7l0.4 6.4h4.7l0.3 6.3h4.7l0.3 6.3l0.3 6.4h4.7l0.2 6.3l0.1 6.4h-4.7l0.1 6.4v6.3v6.4h-4.7v6.3h-4.8l-0.1 6.4l-0.1 6.4h-4.7l-0.2 6.3l-0.2 6.4h-4.7l-0.3 6.3h-4.7l-0.3 6.3l-0.4 6.4h-4.7l-0.3 6.3h-4.7l-0.4 6.3l-0.5 6.3h-4.7l-0.5 6.3l-0.5 6.3h-4.7l-0.6 6.2l-0.6 6.3h-4.6l-0.6 6.2l-0.7 6.2l-0.7 6.2h-4.6l-0.8 6.2l-0.8 6.1l-0.8 6.2l-0.8 6.1h-4.6l-0.9 6.1l-0.9 6l-0.9 6.1l-1 6h-4.5l-1 6l-1.1 5.9l-1 5.9l-1.2 5.9l-1.1 5.9l-1.2 5.8l-1.2 5.8h-4.3l-1.3 5.7l-1.2 5.7l-1.3 5.7l-1.4 5.6l-1.3 5.6l-1.4 5.6h-4.2l-1.4 5.5l-1.5 5.4l-1.4 5.4l-1.5 5.4l-1.5 5.3h-4.1l-1.5 5.2l-1.6 5.2l-1.6 5.2h-3.9l-1.6 5l-1.6 5.1l-1.6 4.9h-3.9l-1.6 4.9l-1.7 4.8h-3.8l-1.6 4.8l-1.7 4.7h-3.7l-1.7 4.6h-3.7l-1.6 4.5h-3.7l-1.6 4.5l-1.6 4.4h-3.7l-1.6 4.3h-3.5l-1.6 4.2h-7.1l-1.5 4.2h-3.5l-1.5 4h-3.4l-1.5 4h-6.9l-1.3 3.8h-6.8l-1.3 3.8h-6.7l-1.3 3.6h-6.6l-1.2 3.6h-9.8l-1.1 3.4h-9.7l-0.9 3.3h-12.9l-0.8 3.2h-15.9l-0.6 3.1h-18.9l-0.4 3h-34.3l-0.1 2.8h-95.7l-1-2.8h-37.5l-1.3-3h-25.3l-1.7-3.1h-19.1l-1.9-3.2h-16.1l-2.1-3.3h-13l-2.3-3.4h-13.2l-2.4-3.6h-13.3l-2.6-3.6h-10.1l-2.7-3.8h-10.2l-2.9-3.8h-10.3l-2.9-4h-7l-3-4h-10.5l-3.1-4.2h-7.1l-3.1-4.2h-7.2l-3.2-4.3h-7.2l-3.3-4.4h-7.3l-3.3-4.5h-7.3l-3.4-4.5h-3.7l-3.3-4.6h-7.5l-3.4-4.7h-7.5l-3.4-4.8h-3.9l-3.3-4.8h-7.7l-3.4-4.9h-3.9l-3.4-4.9h-7.8l-3.4-5.1h-3.9l-3.4-5h-7.9l-3.4-5.2h-4l-3.3-5.2h-8.1l-3.3-5.2h-4.1l-3.2-5.3h-8.2l-3.3-5.4h-4.1l-3.3-5.4h-8.3l-3.2-5.4h-8.3l-3.2-5.5h-4.2l-3.2-5.6h-8.4l-3.2-5.6h-8.5l-3.1-5.6h-8.5l-3.1-5.7h-8.6l-3-5.7h-8.7l-3-5.7h-8.7l-3-5.8h-8.7l-2.9-5.8h-8.8l-2.9-5.9h-13.2l-2.9-5.9h-8.8l-2.8-5.9h-8.9l-2.8-5.9h-8.9l-2.7-6h-9l-2.6-6h-9l-2.6-6.1h-9l-2.5-6h-9.1l-2.4-6.1h-9.1l-2.4-6.1h-9.1l-2.3-6.2h-9.1l-2.2-6.1h-13.8l-2.2-6.2h-9.2l-2-6.2h-13.9l-1.9-6.2h-9.3l-1.9-6.2h-13.9l-1.8-6.3h-13.9l-1.8-6.2h-72.2l1.9 6.2l2 6.3l2.1 6.2l2.2 6.2l2.4 6.2l2.5 6.2l2.7 6.1l2.7 6.2l2.9 6.1l3 6.1l3.2 6l3.2 6.1l3.4 6l3.6 6l3.6 5.9l3.8 5.9l3.9 5.9l4 5.9l4.1 5.8l4.3 5.8l4.4 5.7l4.5 5.7l4.6 5.7l4.7 5.6l4.9 5.6l4.9 5.6l5.1 5.5l5.2 5.4l5.3 5.4l5.4 5.4l5.6 5.3l5.6 5.2l5.7 5.2l5.9 5.2l5.9 5l6.1 5.1l6.1 4.9l6.2 4.9l6.4 4.8l6.4 4.8l6.5 4.7l6.6 4.6l6.6 4.5l6.7 4.5l6.8 4.4l6.8 4.3l6.9 4.2l6.9 4.2l6.9 4l6.9 4l6.9 3.8l6.9 3.8l6.9 3.6l6.9 3.6l6.7 3.4l6.7 3.3l6.6 3.2l6.4 3.1l6.3 3l6.2 2.8l5.9 2.7l5.8 2.6l5.5 2.4l5.2 2.2l4.9 2.1l4.7 2l4.2 1.8l4 1.6l3.5 1.5l3.2 1.2l2.7 1.1l2.4 1l1.8 0.7l1.4 0.6l1 0.3l0.5 0.2z"/>
<path fill="#872097" d="M194.3 952h1085.4v-16.7l0.5-0.2l1-0.3l1.4-0.6l1.8-0.7l2.4-1l2.7-1.1l3.2-1.2l3.5-1.5l4-1.6l4.2-1.8l4.7-2l4.9-2.1l5.2-2.2l5.5-2.4l5.8-2.6l5.9-2.7l6.2-2.8l6.3-3l6.4-3.1l6.6-3.2l6.7-3.3l6.7-3.4l6.9-3.6l6.9-3.6l6.9-3.8l6.9-3.8l6.9-4l6.9-4l6.9-4.2l6.9-4.2l6.8-4.3l6.8-4.4l6.7-4.5l6.6-4.5l6.6-4.6l6.5-4.7l6.4-4.8l6.4-4.8l6.2-4.9l6.1-4.9l6.1-5.1l5.9-5l5.9-5.2l5.7-5.2l5.6-5.2l5.6-5.3l5.4-5.4l5.3-5.4l5.2-5.4l5.1-5.5l4.9-5.6l4.9-5.6l4.7-5.6l4.6-5.7l4.5-5.7l4.4-5.7l4.3-5.8l4.1-5.8l4-5.9l3.9-5.9l3.8-5.9l3.6-5.9l3.6-6l3.4-6l3.2-6.1l3.2-6l3-6.1l2.9-6.1l2.7-6.2l2.7-6.1l2.5-6.2l2.4-6.2h-76.2l2-6.2h-13.8l1.9-6.2h-14l1.8-6.3h-14l1.7-6.2h-14l1.5-6.3h-14l1.3-6.3h-18.7l1.2-6.3h-14.1l1.1-6.3h-18.8l1-6.3h-23.5l0.8-6.4h-18.8l0.7-6.3h-23.6l0.6-6.3h-28.3l0.5-6.4h-18.9l0.4-6.3h-23.6l0.2-6.4h-18.8l0.1-6.4h-14.1v-6.3h-14.1v-6.4h-14.2l-0.1-6.3h-14.1l-0.2-6.4h-9.4l-0.2-6.4h-14.2l-0.3-6.3h-9.4l-0.3-6.4h-4.7l-0.5-6.3l-0.4-6.3h9.4l-0.6-6.4h9.4l-0.6-6.3h14.1l-0.8-6.3h9.4l-0.8-6.3h9.3l-0.9-6.3h14.1l-1-6.3h9.3l-1.1-6.2h9.3l-1.2-6.3h13.9l-1.3-6.2h9.3l-1.5-6.2h9.3l-1.5-6.2h9.2l-1.6-6.2h9.1l-1.7-6.1h9.2l-1.9-6.2h4.6l-2-6.1h9.1l-2-6.1h9l-2.1-6h9l-2.3-6.1h9l-2.4-6h8.9l-2.5-6h4.4l-2.6-5.9h8.9l-2.8-5.9h8.8l-2.9-5.9h8.8l-3-5.9h8.7l-3.1-5.8h13.1l-3.4-5.8h8.7l-3.5-5.7h13l-3.7-5.7h12.9l-3.8-5.7h12.8l-4-5.6h17l-4.2-5.6h25.4l-4.5-5.6h86.1l-5.1-5.5l-5.2-5.4l-5.3-5.4l-5.4-5.4l-5.6-5.3l-5.6-5.2l-5.7-5.2l-5.9-5.2l-5.9-5l-6.1-5.1l-6.1-4.9l-6.2-4.9l-6.4-4.8l-6.4-4.8l-6.5-4.7l-6.6-4.6l-6.6-4.5l-6.7-4.5l-6.8-4.4l-6.8-4.3l-6.9-4.2l-6.9-4.2l-6.9-4l-6.9-4l-6.9-3.8l-6.9-3.8l-6.9-3.6l-6.9-3.6l-6.7-3.4l-6.7-3.3l-6.6-3.2l-6.4-3.1l-6.3-3l-6.2-2.8l-5.9-2.7l-5.8-2.6l-5.5-2.4l-5.2-2.2l-4.9-2.1l-4.7-2l-4.2-1.8l-4-1.6l-3.5-1.5l-3.2-1.2l-2.7-1.1l-2.4-1l-1.8-0.7l-1.4-0.6l-1-0.3l-0.5-0.2v-14.1h-1085.4v14.1l-0.5 0.2l-1 0.3l-1.4 0.6l-1.8 0.7l-2.4 1l-2.7 1.1l-3.2 1.2l-3.5 1.5l-4 1.6l-4.2 1.8l-4.7 2l-4.9 2.1l-5.2 2.2l-5.5 2.4l-5.8 2.6l-5.9 2.7l-6.2 2.8l-6.3 3l-6.4 3.1l-6.6 3.2l-6.7 3.3l-6.7 3.4l-6.9 3.6l-6.9 3.6l-6.9 3.8l-6.9 3.8l-6.9 4l-6.9 4l-6.9 4.2l-6.9 4.2l-6.8 4.3l-6.8 4.4l-6.7 4.5l-6.6 4.5l-6.6 4.6l-6.5 4.7l-6.4 4.8l-6.4 4.8l-6.2 4.9l-6.1 4.9l-6.1 5.1l-5.9 5l-5.9 5.2l-5.7 5.2l-5.6 5.2l-5.6 5.3l-5.4 5.4l-5.3 5.4l-5.2 5.4l-5.1 5.5h128.1l-4.2 5.6h29.5l-3.9 5.6h21.3l-3.7 5.6h17.1l-3.5 5.7h12.8l-3.3 5.7h17.3l-3.2 5.7h13l-3 5.8h13.1l-2.9 5.8h13.2l-2.7 5.9h13.2l-2.6 5.9h13.3l-2.4 5.9h13.3l-2.3 5.9h13.4l-2.2 6h17.9l-2 6h18l-1.9 6.1h22.6l-1.7 6h108.8l1.3-6h27.1l1.3-6.1h18l1.3-6h17.9l1.3-6h17.8l1.2-5.9h13.4l1.2-5.9h17.7l1.1-5.9h13.3l1.1-5.9h17.5l1.1-5.8h21.8l1-5.8h21.7l1-5.7h34.5l0.8-5.7h73l-0.4 5.7h34.6l-0.2 5.7h26.1v5.8h21.8v5.8h17.6l0.1 5.9h22.1l0.2 5.9h17.7l0.4 5.9h17.7l0.4 5.9h22.3l0.5 6h17.9l0.6 6h18l0.5 6.1h22.6l0.6 6h18.2l0.6 6.1h18.2l0.7 6.1h18.3l0.7 6.2h18.3l0.7 6.1h18.4l0.8 6.2h13.8l0.7 6.2h18.5l0.8 6.2h13.8l0.8 6.2h13.9l0.7 6.3h14l0.7 6.2h14l0.7 6.3h14l0.6 6.3h14.1l0.6 6.3h9.4l0.5 6.3h14.1l0.6 6.3h9.4l0.5 6.4h9.4l0.4 6.3l0.4 6.3h-4.7l0.3 6.4h-9.4l0.2 6.3h-9.4l0.1 6.4h-9.4l0.1 6.4h-9.4v6.3h-4.7v6.4h-9.4l-0.1 6.3h-9.4l-0.1 6.4h-4.7l-0.2 6.4h-9.4l-0.2 6.3h-4.8l-0.2 6.4h-4.7l-0.3 6.3h-4.7l-0.4 6.3h-4.7l-0.4 6.4h-4.7l-0.4 6.3h-4.7l-0.5 6.3h-4.7l-0.5 6.3h-4.7l-0.5 6.3h-4.7l-0.6 6.3l-0.6 6.2h-4.7l-0.6 6.3h-4.7l-0.7 6.2l-0.7 6.2h-4.6l-0.8 6.2l-0.8 6.2h-4.6l-0.9 6.1l-0.9 6.2l-0.9 6.1h-4.5l-1 6.1l-1 6l-1 6.1h-4.5l-1.1 6l-1.1 6l-1.1 5.9l-1.2 5.9h-4.4l-1.2 5.9l-1.3 5.9l-1.2 5.8l-1.3 5.8l-1.4 5.7l-1.4 5.7h-4.3l-1.3 5.7l-1.5 5.6l-1.4 5.6l-1.5 5.6l-1.6 5.5l-1.5 5.4h-4.2l-1.5 5.4l-1.7 5.4l-1.6 5.3l-1.7 5.2l-1.7 5.2h-4l-1.7 5.2l-1.7 5l-1.8 5.1h-3.9l-1.7 4.9l-1.8 4.9l-1.8 4.8h-3.8l-1.8 4.8l-1.9 4.7h-3.7l-1.8 4.6h-3.7l-1.8 4.5l-1.9 4.5h-3.6l-1.8 4.4h-3.6l-1.8 4.3l-1.8 4.2h-3.5l-1.8 4.2h-3.5l-1.7 4h-3.5l-1.7 4h-6.8l-1.6 3.8h-3.4l-1.6 3.8h-6.8l-1.5 3.6h-3.3l-1.4 3.6h-6.6l-1.4 3.4h-9.8l-1.2 3.3h-6.5l-1.1 3.2h-9.6l-1 3.1h-12.7l-0.9 3h-12.4l-0.8 2.8h-18.5l-0.6 2.7h-24.4l-0.3 2.6h-42.4l0.1 2.4h-66l-0.8-2.4h-48.5l-1.2-2.6h-24.5l-1.5-2.7h-21.7l-1.8-2.8h-15.6l-2-3h-15.8l-2.2-3.1h-12.8l-2.4-3.2h-12.9l-2.6-3.3h-9.8l-2.7-3.4h-9.9l-2.8-3.6h-10l-3-3.6h-10.1l-3.1-3.8h-6.8l-3.2-3.8h-6.9l-3.2-4h-7l-3.3-4h-7l-3.4-4.2h-7.1l-3.4-4.2h-7.2l-3.5-4.3h-7.2l-3.5-4.4h-7.3l-3.6-4.5h-3.7l-3.6-4.5h-7.4l-3.6-4.6h-7.5l-3.6-4.7h-3.8l-3.6-4.8h-7.7l-3.6-4.8h-3.8l-3.7-4.9h-7.7l-3.6-4.9h-4l-3.6-5.1h-7.8l-3.6-5h-8l-3.6-5.2h-4l-3.6-5.2h-8l-3.6-5.2h-8.1l-3.5-5.3h-4.1l-3.5-5.4h-8.3l-3.5-5.4h-8.3l-3.4-5.4h-8.4l-3.4-5.5h-8.4l-3.4-5.6h-8.5l-3.4-5.6h-8.5l-3.3-5.6h-8.6l-3.3-5.7h-12.9l-3.3-5.7h-8.6l-3.3-5.7h-8.6l-3.3-5.8h-8.7l-3.2-5.8h-8.7l-3.1-5.9h-8.9l-3-5.9h-8.9l-3-5.9h-8.9l-2.9-5.9h-8.9l-2.9-6h-9l-2.8-6h-9l-2.7-6.1h-9.1l-2.6-6h-9.1l-2.6-6.1h-13.6l-2.6-6.1h-9.1l-2.4-6.2h-13.8l-2.3-6.1h-9.2l-2.3-6.2h-13.8l-2.2-6.2h-67l2.4 6.2l2.5 6.2l2.7 6.1l2.7 6.2l2.9 6.1l3 6.1l3.2 6l3.2 6.1l3.4 6l3.6 6l3.6 5.9l3.8 5.9l3.9 5.9l4 5.9l4.1 5.8l4.3 5.8l4.4 5.7l4.5 5.7l4.6 5.7l4.7 5.6l4.9 5.6l4.9 5.6l5.1 5.5l5.2 5.4l5.3 5.4l5.4 5.4l5.6 5.3l5.6 5.2l5.7 5.2l5.9 5.2l5.9 5l6.1 5.1l6.1 4.9l6.2 4.9l6.4 4.8l6.4 4.8l6.5 4.7l6.6 4.6l6.6 4.5l6.7 4.5l6.8 4.4l6.8 4.3l6.9 4.2l6.9 4.2l6.9 4l6.9 4l6.9 3.8l6.9 3.8l6.9 3.6l6.9 3.6l6.7 3.4l6.7 3.3l6.6 3.2l6.4 3.1l6.3 3l6.2 2.8l5.9 2.7l5.8 2.6l5.5 2.4l5.2 2.2l4.9 2.1l4.7 2l4.2 1.8l4 1.6l3.5 1.5l3.2 1.2l2.7 1.1l2.4 1l1.8 0.7l1.4 0.6l1 0.3l0.5 0.2z"/>
<path fill="#912e8d" d="M194.3 952h1085.4v-16.7l0.5-0.2l1-0.3l1.4-0.6l1.8-0.7l2.4-1l2.7-1.1l3.2-1.2l3.5-1.5l4-1.6l4.2-1.8l4.7-2l4.9-2.1l5.2-2.2l5.5-2.4l5.8-2.6l5.9-2.7l6.2-2.8l6.3-3l6.4-3.1l6.6-3.2l6.7-3.3l6.7-3.4l6.9-3.6l6.9-3.6l6.9-3.8l6.9-3.8l6.9-4l6.9-4l6.9-4.2l6.9-4.2l6.8-4.3l6.8-4.4l6.7-4.5l6.6-4.5l6.6-4.6l6.5-4.7l6.4-4.8l6.4-4.8l6.2-4.9l6.1-4.9l6.1-5.1l5.9-5l5.9-5.2l5.7-5.2l5.6-5.2l5.6-5.3l5.4-5.4l5.3-5.4l5.2-5.4l5.1-5.5l4.9-5.6l4.9-5.6l4.7-5.6l4.6-5.7l4.5-5.7l4.4-5.7l4.3-5.8l4.1-5.8l4-5.9l3.9-5.9l3.8-5.9l3.6-5.9l3.6-6l3.4-6l3.2-6.1l3.2-6l3-6.1l2.9-6.1h-75.3l2.5-6.2h-9.1l2.3-6.1h-13.7l2.2-6.2h-13.8l2.1-6.2h-13.9l1.9-6.2h-13.9l1.8-6.2h-18.5l1.6-6.3h-13.9l1.5-6.2h-23.3l1.3-6.3h-18.7l1.2-6.3h-23.3l1-6.3h-28.1l1-6.3h-32.9l0.8-6.3h-32.8l0.6-6.4h-28.2l0.6-6.3h-23.6l0.5-6.3h-33l0.4-6.4h-66l-0.3 6.4h-18.9l-0.3 6.3h-14.2l-0.4 6.3h-14.1l-0.4 6.4h-4.7l-0.5 6.3h-9.4l-0.5 6.3h-4.7l-0.6 6.3h-9.3l-0.6 6.3h-4.7l-0.7 6.3h-4.6l-0.7 6.2h-4.7l-0.7 6.3h-4.6l-0.8 6.2h-4.6l-0.8 6.2l-0.9 6.2h-4.6l-0.9 6.2l-0.9 6.1h-4.6l-0.9 6.2h-4.6l-1 6.1l-1 6.1l-1.1 6h-4.5l-1.1 6.1l-1.2 6l-1.2 6h-4.4l-1.2 5.9l-1.3 5.9l-1.3 5.9l-1.3 5.9h-4.4l-1.4 5.8l-1.4 5.8l-1.4 5.7l-1.5 5.7l-1.5 5.7h-4.3l-1.5 5.6l-1.5 5.6l-1.6 5.6l-1.7 5.5l-1.6 5.4l-1.8 5.4h-4.1l-1.7 5.4l-1.7 5.3l-1.8 5.2l-1.9 5.2h-4l-1.8 5.2l-1.8 5l-1.9 5.1l-1.9 4.9h-3.9l-1.9 4.9l-2 4.8l-1.9 4.8h-3.8l-2 4.7l-2 4.6h-3.7l-1.9 4.5l-2 4.5h-3.7l-1.9 4.4l-2 4.3h-3.6l-2 4.2h-3.5l-1.9 4.2h-3.5l-2 4l-1.9 4h-3.4l-1.9 3.8h-3.4l-1.8 3.8h-6.7l-1.8 3.6h-3.3l-1.7 3.6h-3.3l-1.7 3.4h-6.5l-1.5 3.3h-6.5l-1.5 3.2h-6.3l-1.4 3.1h-9.5l-1.2 3h-9.4l-1.1 2.8h-9.3l-1 2.7h-12.2l-0.9 2.6h-15.1l-0.7 2.4h-21l-0.4 2.2h-32.7l-0.2 2.1h-129.7l-1-2.1h-32.7l-1.4-2.2h-24l-1.6-2.4h-18.2l-1.9-2.6h-15.3l-2.1-2.7h-15.4l-2.3-2.8h-12.5l-2.5-3h-9.5l-2.7-3.1h-9.5l-2.9-3.2h-9.6l-3-3.3h-9.8l-3.1-3.4h-6.6l-3.2-3.6h-6.6l-3.4-3.6h-10l-3.5-3.8h-6.8l-3.5-3.8h-6.9l-3.5-4h-3.5l-3.6-4h-7l-3.7-4.2h-7.1l-3.7-4.2h-7.2l-3.8-4.3h-3.6l-3.8-4.4h-7.2l-3.9-4.5h-7.3l-3.9-4.5h-3.7l-3.8-4.6h-7.5l-3.9-4.7h-7.6l-3.8-4.8h-3.9l-3.8-4.8h-7.7l-3.9-4.9h-7.8l-3.8-4.9h-3.9l-3.9-5.1h-7.9l-3.8-5h-8l-3.8-5.2h-8l-3.8-5.2h-8.1l-3.8-5.2h-4.1l-3.8-5.3h-8.1l-3.8-5.4h-12.4l-3.7-5.4h-8.3l-3.7-5.4h-8.4l-3.7-5.5h-8.4l-3.7-5.6h-8.4l-3.6-5.6h-8.5l-3.6-5.6h-8.6l-3.5-5.7h-8.6l-3.5-5.7h-8.7l-3.4-5.7h-8.7l-3.4-5.8h-8.8l-3.3-5.8h-8.8l-3.3-5.9h-8.8l-3.3-5.9h-8.8l-3.2-5.9h-8.9l-3.1-5.9h-8.9l-3.1-6h-8.9l-3-6h-13.5l-2.9-6.1h-9l-2.9-6h-13.6l-2.7-6.1h-9.1l-2.7-6.1h-66.2l2.9 6.1l3 6.1l3.2 6l3.2 6.1l3.4 6l3.6 6l3.6 5.9l3.8 5.9l3.9 5.9l4 5.9l4.1 5.8l4.3 5.8l4.4 5.7l4.5 5.7l4.6 5.7l4.7 5.6l4.9 5.6l4.9 5.6l5.1 5.5l5.2 5.4l5.3 5.4l5.4 5.4l5.6 5.3l5.6 5.2l5.7 5.2l5.9 5.2l5.9 5l6.1 5.1l6.1 4.9l6.2 4.9l6.4 4.8l6.4 4.8l6.5 4.7l6.6 4.6l6.6 4.5l6.7 4.5l6.8 4.4l6.8 4.3l6.9 4.2l6.9 4.2l6.9 4l6.9 4l6.9 3.8l6.9 3.8l6.9 3.6l6.9 3.6l6.7 3.4l6.7 3.3l6.6 3.2l6.4 3.1l6.3 3l6.2 2.8l5.9 2.7l5.8 2.6l5.5 2.4l5.2 2.2l4.9 2.1l4.7 2l4.2 1.8l4 1.6l3.5 1.5l3.2 1.2l2.7 1.1l2.4 1l1.8 0.7l1.4 0.6l1 0.3l0.5 0.2zM1169.8 417.5h23.1l-1.1-6.2h41.5l-1.3-6.2h18.4l-1.4-6.2h13.7l-1.5-6.1h13.7l-1.7-6.2h13.7l-1.8-6.1h9.1l-1.9-6.1h13.6l-2-6h9l-2.1-6.1h9l-2.3-6h9l-2.4-6h8.9l-2.5-5.9h8.9l-2.6-5.9h8.8l-2.7-5.9h8.8l-2.9-5.9h8.8l-3.1-5.8h8.8l-3.2-5.8h8.7l-3.3-5.7h8.7l-3.5-5.7h8.6l-3.5-5.7h8.5l-3.7-5.6h12.8l-3.9-5.6h12.7l-4.1-5.6h12.6l-4.2-5.5h16.7l-4.4-5.4h16.6l-4.6-5.4h28.8l-4.9-5.4h75.7l-5.6-5.3l-5.6-5.2l-5.7-5.2l-5.9-5.2l-5.9-5l-6.1-5.1l-6.1-4.9l-6.2-4.9l-6.4-4.8l-6.4-4.8l-6.5-4.7l-6.6-4.6l-6.6-4.5l-6.7-4.5l-6.8-4.4l-6.8-4.3l-6.9-4.2l-6.9-4.2l-6.9-4l-6.9-4l-6.9-3.8l-6.9-3.8l-6.9-3.6l-6.9-3.6l-6.7-3.4l-6.7-3.3l-6.6-3.2l-6.4-3.1l-6.3-3l-6.2-2.8l-5.9-2.7l-5.8-2.6l-5.5-2.4l-5.2-2.2l-4.9-2.1l-4.7-2l-4.2-1.8l-4-1.6l-3.5-1.5l-3.2-1.2l-2.7-1.1l-2.4-1l-1.8-0.7l-1.4-0.6l-1-0.3l-0.5-0.2v-14.1h-1085.4v14.1l-0.5 0.2l-1 0.3l-1.4 0.6l-1.8 0.7l-2.4 1l-2.7 1.1l-3.2 1.2l-3.5 1.5l-4 1.6l-4.2 1.8l-4.7 2l-4.9 2.1l-5.2 2.2l-5.5 2.4l-5.8 2.6l-5.9 2.7l-6.2 2.8l-6.3 3l-6.4 3.1l-6.6 3.2l-6.7 3.3l-6.7 3.4l-6.9 3.6l-6.9 3.6l-6.9 3.8l-6.9 3.8l-6.9 4l-6.9 4l-6.9 4.2l-6.9 4.2l-6.8 4.3l-6.8 4.4l-6.7 4.5l-6.6 4.5l-6.6 4.6l-6.5 4.7l-6.4 4.8l-6.4 4.8l-6.2 4.9l-6.1 4.9l-6.1 5.1l-5.9 5l-5.9 5.2l-5.7 5.2l-5.6 5.2l-5.6 5.3h124.8l-4.6 5.4h28.8l-4.3 5.4h20.8l-4.1 5.4h16.7l-3.9 5.5h16.8l-3.7 5.6h12.7l-3.5 5.6h12.7l-3.3 5.6h12.8l-3.2 5.7h12.9l-3 5.7h12.9l-2.9 5.7h13l-2.7 5.8h13.1l-2.6 5.8h13.1l-2.5 5.9h13.3l-2.4 5.9h17.7l-2.2 5.9h17.8l-2 5.9h31.2l-1.8 6h67.2l1.6-6h31.3l1.5-5.9h17.7l1.5-5.9h17.7l1.4-5.9h17.7l1.4-5.9h17.5l1.4-5.8h13.1l1.3-5.8h13l1.3-5.7h17.3l1.2-5.7h17.2l1.2-5.7h17.1l1.1-5.6h21.2l1.1-5.6h25.3l0.9-5.6h117.5l-0.2 5.6h29.6v5.6h21.3l0.1 5.6h17.1l0.2 5.7h21.5l0.3 5.7h17.3l0.4 5.7h17.4l0.5 5.8h17.5l0.5 5.8h17.6l0.6 5.9h13.2l0.7 5.9h17.7l0.7 5.9h17.8l0.8 5.9h17.8l0.9 6h17.9l0.9 6h18l0.9 6.1h18l1 6h18.1l1 6.1h18.2l0.9 6.1h18.3l1 6.2h22.9l1 6.1h18.3l1.1 6.2h27.6l1 6.2h41.6z"/>
<path fill="#9c3c82" d="M194.3 952h1085.4v-16.7l0.5-0.2l1-0.3l1.4-0.6l1.8-0.7l2.4-1l2.7-1.1l3.2-1.2l3.5-1.5l4-1.6l4.2-1.8l4.7-2l4.9-2.1l5.2-2.2l5.5-2.4l5.8-2.6l5.9-2.7l6.2-2.8l6.3-3l6.4-3.1l6.6-3.2l6.7-3.3l6.7-3.4l6.9-3.6l6.9-3.6l6.9-3.8l6.9-3.8l6.9-4l6.9-4l6.9-4.2l6.9-4.2l6.8-4.3l6.8-4.4l6.7-4.5l6.6-4.5l6.6-4.6l6.5-4.7l6.4-4.8l6.4-4.8l6.2-4.9l6.1-4.9l6.1-5.1l5.9-5l5.9-5.2l5.7-5.2l5.6-5.2l5.6-5.3l5.4-5.4l5.3-5.4l5.2-5.4l5.1-5.5l4.9-5.6l4.9-5.6l4.7-5.6l4.6-5.7l4.5-5.7l4.4-5.7l4.3-5.8l4.1-5.8l4-5.9l3.9-5.9l3.8-5.9l3.6-5.9l3.6-6l3.4-6h-65.3l3-6.1h-9l2.9-6h-13.6l2.7-6.1h-13.7l2.6-6.1h-13.7l2.4-6.2h-13.7l2.2-6.1h-13.8l2.1-6.2h-13.8l2-6.2h-18.5l1.8-6.2h-18.5l1.7-6.2h-18.6l1.5-6.3h-27.9l1.4-6.2h-32.6l1.1-6.3h-37.3l1-6.3h-32.7l0.9-6.3h-37.5l0.8-6.3h-46.9l0.6-6.3h-28.2l-0.5 6.3h-32.9l-0.6 6.3h-14l-0.7 6.3h-14l-0.7 6.3h-9.3l-0.7 6.3h-4.7l-0.8 6.2h-9.3l-0.8 6.3h-4.6l-0.8 6.2h-4.7l-0.8 6.2h-4.6l-1 6.2h-4.6l-0.9 6.2h-4.6l-1 6.1l-1 6.2h-4.6l-1.1 6.1h-4.5l-1.1 6.1l-1.1 6h-4.6l-1.1 6.1l-1.2 6l-1.3 6h-4.5l-1.3 5.9l-1.3 5.9l-1.4 5.9h-4.4l-1.4 5.9l-1.4 5.8l-1.5 5.8l-1.5 5.7h-4.3l-1.6 5.7l-1.6 5.7l-1.6 5.6l-1.6 5.6l-1.7 5.6h-4.2l-1.8 5.5l-1.7 5.4l-1.8 5.4l-1.8 5.4l-1.9 5.3h-4.1l-1.8 5.2l-1.9 5.2l-2 5.2l-2 5l-2 5.1h-3.9l-2 4.9l-2 4.9l-2.1 4.8h-3.8l-2.1 4.8l-2.1 4.7l-2.1 4.6h-3.7l-2.1 4.5l-2.1 4.5h-3.7l-2.1 4.4l-2.1 4.3h-3.6l-2.1 4.2l-2.1 4.2h-3.5l-2.1 4h-3.5l-2 4l-2.1 3.8h-3.4l-2 3.8h-3.4l-1.9 3.6h-3.4l-1.9 3.6h-3.3l-1.8 3.4h-6.5l-1.8 3.3h-3.2l-1.7 3.2h-6.4l-1.6 3.1h-6.3l-1.6 3h-6.2l-1.4 2.8h-6.2l-1.3 2.7h-9.2l-1.1 2.6h-12.1l-1.1 2.4h-12l-0.8 2.2h-14.9l-0.7 2.1h-20.6l-0.5 2h-32.1l-0.2 1.8h-148.1l-0.9-1.8h-35.1l-1.3-2h-20.7l-1.5-2.1h-17.9l-1.8-2.2h-15l-2-2.4h-15.2l-2.3-2.6h-9.2l-2.4-2.7h-12.4l-2.7-2.8h-9.3l-2.9-3h-9.4l-3-3.1h-6.4l-3.2-3.2h-9.6l-3.3-3.3h-6.5l-3.4-3.4h-6.6l-3.5-3.6h-6.7l-3.6-3.6h-6.7l-3.7-3.8h-6.8l-3.7-3.8h-6.9l-3.8-4h-3.5l-3.9-4h-7l-3.9-4.2h-7.1l-4-4.2h-3.5l-4-4.3h-7.2l-4.1-4.4h-7.3l-4-4.5h-3.7l-4.1-4.5h-7.4l-4.1-4.6h-7.5l-4.1-4.7h-3.7l-4.1-4.8h-7.7l-4.1-4.8h-7.6l-4.1-4.9h-7.8l-4.1-4.9h-3.9l-4.1-5.1h-7.9l-4-5h-8l-4-5.2h-8l-4.1-5.2h-8l-4.1-5.2h-8.1l-4-5.3h-8.2l-3.9-5.4h-8.3l-3.9-5.4h-12.5l-3.9-5.4h-8.4l-3.9-5.5h-8.4l-3.8-5.6h-8.5l-3.8-5.6h-8.5l-3.8-5.6h-8.6l-3.7-5.7h-8.6l-3.7-5.7h-8.6l-3.7-5.7h-8.7l-3.6-5.8h-8.7l-3.5-5.8h-8.8l-3.5-5.9h-8.8l-3.4-5.9h-8.8l-3.4-5.9h-8.8l-3.3-5.9h-8.9l-3.2-6h-13.5l-3.1-6h-69.8l3.4 6l3.6 6l3.6 5.9l3.8 5.9l3.9 5.9l4 5.9l4.1 5.8l4.3 5.8l4.4 5.7l4.5 5.7l4.6 5.7l4.7 5.6l4.9 5.6l4.9 5.6l5.1 5.5l5.2 5.4l5.3 5.4l5.4 5.4l5.6 5.3l5.6 5.2l5.7 5.2l5.9 5.2l5.9 5l6.1 5.1l6.1 4.9l6.2 4.9l6.4 4.8l6.4 4.8l6.5 4.7l6.6 4.6l6.6 4.5l6.7 4.5l6.8 4.4l6.8 4.3l6.9 4.2l6.9 4.2l6.9 4l6.9 4l6.9 3.8l6.9 3.8l6.9 3.6l6.9 3.6l6.7 3.4l6.7 3.3l6.6 3.2l6.4 3.1l6.3 3l6.2 2.8l5.9 2.7l5.8 2.6l5.5 2.4l5.2 2.2l4.9 2.1l4.7 2l4.2 1.8l4 1.6l3.5 1.5l3.2 1.2l2.7 1.1l2.4 1l1.8 0.7l1.4 0.6l1 0.3l0.5 0.2zM1127.2 386.6h100.4l-1.6-6.1h18.2l-1.7-6.1h18.1l-1.9-6h13.6l-2-6.1h13.5l-2.1-6h8.9l-2.2-6h13.4l-2.4-5.9h8.9l-2.5-5.9h8.8l-2.6-5.9h8.8l-2.7-5.9h8.8l-2.9-5.8h8.7l-3-5.8h8.7l-3.1-5.7h8.6l-3.2-5.7h8.6l-3.4-5.7h8.5l-3.5-5.6h8.5l-3.7-5.6h8.5l-3.8-5.6h12.6l-4-5.5h8.3l-4.1-5.4h12.5l-4.3-5.4h12.3l-4.4-5.4h16.3l-4.6-5.3h16.2l-4.8-5.2h28.2l-5.2-5.2h78.1l-5.9-5.2l-5.9-5l-6.1-5.1l-6.1-4.9l-6.2-4.9l-6.4-4.8l-6.4-4.8l-6.5-4.7l-6.6-4.6l-6.6-4.5l-6.7-4.5l-6.8-4.4l-6.8-4.3l-6.9-4.2l-6.9-4.2l-6.9-4l-6.9-4l-6.9-3.8l-6.9-3.8l-6.9-3.6l-6.9-3.6l-6.7-3.4l-6.7-3.3l-6.6-3.2l-6.4-3.1l-6.3-3l-6.2-2.8l-5.9-2.7l-5.8-2.6l-5.5-2.4l-5.2-2.2l-4.9-2.1l-4.7-2l-4.2-1.8l-4-1.6l-3.5-1.5l-3.2-1.2l-2.7-1.1l-2.4-1l-1.8-0.7l-1.4-0.6l-1-0.3l-0.5-0.2v-14.1h-1085.4v14.1l-0.5 0.2l-1 0.3l-1.4 0.6l-1.8 0.7l-2.4 1l-2.7 1.1l-3.2 1.2l-3.5 1.5l-4 1.6l-4.2 1.8l-4.7 2l-4.9 2.1l-5.2 2.2l-5.5 2.4l-5.8 2.6l-5.9 2.7l-6.2 2.8l-6.3 3l-6.4 3.1l-6.6 3.2l-6.7 3.3l-6.7 3.4l-6.9 3.6l-6.9 3.6l-6.9 3.8l-6.9 3.8l-6.9 4l-6.9 4l-6.9 4.2l-6.9 4.2l-6.8 4.3l-6.8 4.4l-6.7 4.5l-6.6 4.5l-6.6 4.6l-6.5 4.7l-6.4 4.8l-6.4 4.8l-6.2 4.9l-6.1 4.9l-6.1 5.1l-5.9 5l-5.9 5.2h130.1l-4.8 5.2h28.3l-4.5 5.2h20.3l-4.3 5.3h16.4l-4.1 5.4h12.4l-3.9 5.4h16.5l-3.7 5.4h12.5l-3.5 5.5h12.6l-3.4 5.6h12.7l-3.3 5.6h8.5l-3.1 5.6h12.8l-2.9 5.7h12.9l-2.8 5.7h12.9l-2.7 5.7h13.1l-2.6 5.8h17.5l-2.4 5.8h17.5l-2.2 5.9h26.5l-2.1 5.9h66.4l1.8-5.9h26.4l1.7-5.9h21.9l1.6-5.8h17.5l1.5-5.8h13.1l1.5-5.7h17.3l1.5-5.7h12.9l1.4-5.7h12.8l1.5-5.6h17l1.3-5.6h12.7l1.3-5.6h16.8l1.2-5.5h16.7l1.2-5.4h20.7l1.1-5.4h20.6l0.9-5.4h32.7l0.7-5.3h73.1l-0.2 5.3h32.7l0.1 5.4h24.7l0.1 5.4h16.6l0.3 5.4h16.7l0.4 5.5h16.8l0.4 5.6h16.9l0.6 5.6h12.7l0.7 5.6h17l0.7 5.7h12.9l0.8 5.7h17.3l0.8 5.7h13l0.9 5.8h17.4l1 5.8h13.1l1 5.9h17.6l1 5.9h13.3l1.1 5.9h17.7l1.1 5.9h17.9l1.1 6h17.9l1.2 6h18l1.1 6.1h22.6l1.2 6h22.7l1.2 6.1h27.3z"/>
<path fill="#a84a7a" d="M194.3 952h1085.4v-16.7l0.5-0.2l1-0.3l1.4-0.6l1.8-0.7l2.4-1l2.7-1.1l3.2-1.2l3.5-1.5l4-1.6l4.2-1.8l4.7-2l4.9-2.1l5.2-2.2l5.5-2.4l5.8-2.6l5.9-2.7l6.2-2.8l6.3-3l6.4-3.1l6.6-3.2l6.7-3.3l6.7-3.4l6.9-3.6l6.9-3.6l6.9-3.8l6.9-3.8l6.9-4l6.9-4l6.9-4.2l6.9-4.2l6.8-4.3l6.8-4.4l6.7-4.5l6.6-4.5l6.6-4.6l6.5-4.7l6.4-4.8l6.4-4.8l6.2-4.9l6.1-4.9l6.1-5.1l5.9-5l5.9-5.2l5.7-5.2l5.6-5.2l5.6-5.3l5.4-5.4l5.3-5.4l5.2-5.4l5.1-5.5l4.9-5.6l4.9-5.6l4.7-5.6l4.6-5.7l4.5-5.7l4.4-5.7l4.3-5.8l4.1-5.8l4-5.9l3.9-5.9l3.8-5.9h-73.4l3.4-5.9h-9l3.2-6h-13.4l3-6h-9l2.9-6.1h-13.6l2.7-6h-13.6l2.6-6.1h-13.7l2.5-6.1h-13.7l2.2-6.2h-18.3l2.1-6.1h-18.4l2-6.2h-23l1.7-6.2h-27.7l1.7-6.2h-32.4l1.4-6.2h-41.7l1.2-6.3h-41.8l1.1-6.2h-107.2l-0.9 6.2h-18.6l-0.9 6.3h-9.2l-1 6.2h-9.2l-1 6.2h-9.2l-1 6.2h-4.6l-1.1 6.2h-4.6l-1 6.1h-4.6l-1.1 6.2h-4.6l-1.2 6.1h-4.5l-1.2 6.1h-4.5l-1.3 6h-4.5l-1.2 6.1l-1.3 6h-4.5l-1.4 6l-1.3 5.9h-4.5l-1.4 5.9l-1.4 5.9l-1.5 5.9h-4.4l-1.6 5.8l-1.5 5.8l-1.6 5.7l-1.7 5.7h-4.3l-1.7 5.7l-1.7 5.6l-1.8 5.6l-1.8 5.6h-4.2l-1.8 5.5l-1.8 5.4l-1.9 5.4l-2 5.4l-2 5.3h-4l-2 5.2l-2 5.2l-2.1 5.2l-2.1 5l-2.1 5.1h-3.9l-2.2 4.9l-2.2 4.9l-2.2 4.8l-2.2 4.8h-3.8l-2.2 4.7l-2.2 4.6l-2.3 4.5h-3.7l-2.3 4.5l-2.3 4.4l-2.3 4.3h-3.5l-2.3 4.2l-2.3 4.2h-3.5l-2.3 4l-2.2 4h-3.5l-2.2 3.8h-3.4l-2.2 3.8l-2.2 3.6h-3.3l-2.1 3.6h-3.3l-2.1 3.4h-3.2l-2.1 3.3h-3.2l-1.9 3.2h-3.2l-1.9 3.1h-6.3l-1.8 3h-3.1l-1.7 2.8h-6.2l-1.6 2.7h-6.1l-1.4 2.6h-6.1l-1.3 2.4h-9l-1.2 2.2h-9l-1 2.1h-14.8l-0.8 2h-14.7l-0.7 1.8h-20.3l-0.5 1.6h-28.8l-0.3 1.5h-60.1l0.1 1.2h-65.5l-0.5-1.2h-60.1l-1-1.5h-31.7l-1.2-1.6h-20.3l-1.6-1.8h-17.5l-1.8-2h-14.7l-2.1-2.1h-11.9l-2.2-2.2h-9l-2.5-2.4h-9l-2.7-2.6h-9.2l-2.8-2.7h-9.3l-3-2.8h-6.2l-3.2-3h-6.3l-3.3-3.1h-9.6l-3.5-3.2h-6.4l-3.6-3.3h-3.3l-3.6-3.4h-6.6l-3.8-3.6h-6.7l-3.8-3.6h-6.8l-3.9-3.8h-6.8l-4.1-3.8h-3.4l-4.1-4h-6.9l-4.2-4h-3.5l-4.2-4.2h-7l-4.3-4.2h-7.1l-4.3-4.3h-3.6l-4.3-4.4h-7.3l-4.3-4.5h-7.3l-4.4-4.5h-3.7l-4.3-4.6h-7.5l-4.3-4.7h-7.6l-4.3-4.8h-7.7l-4.3-4.8h-7.7l-4.4-4.9h-7.7l-4.4-4.9h-7.8l-4.4-5.1h-7.8l-4.4-5h-7.9l-4.3-5.2h-8.1l-4.3-5.2h-8l-4.3-5.2h-8.1l-4.3-5.3h-8.2l-4.2-5.4h-8.2l-4.2-5.4h-8.3l-4.2-5.4h-8.3l-4.1-5.5h-8.4l-4.1-5.6h-8.5l-4-5.6h-8.5l-4-5.6h-8.5l-4-5.7h-8.6l-3.9-5.7h-8.6l-3.8-5.7h-8.7l-3.8-5.8h-8.7l-3.7-5.8h-8.8l-3.6-5.9h-8.8l-3.6-5.9h-8.8l-3.5-5.9h-64.5l3.8 5.9l3.9 5.9l4 5.9l4.1 5.8l4.3 5.8l4.4 5.7l4.5 5.7l4.6 5.7l4.7 5.6l4.9 5.6l4.9 5.6l5.1 5.5l5.2 5.4l5.3 5.4l5.4 5.4l5.6 5.3l5.6 5.2l5.7 5.2l5.9 5.2l5.9 5l6.1 5.1l6.1 4.9l6.2 4.9l6.4 4.8l6.4 4.8l6.5 4.7l6.6 4.6l6.6 4.5l6.7 4.5l6.8 4.4l6.8 4.3l6.9 4.2l6.9 4.2l6.9 4l6.9 4l6.9 3.8l6.9 3.8l6.9 3.6l6.9 3.6l6.7 3.4l6.7 3.3l6.6 3.2l6.4 3.1l6.3 3l6.2 2.8l5.9 2.7l5.8 2.6l5.5 2.4l5.2 2.2l4.9 2.1l4.7 2l4.2 1.8l4 1.6l3.5 1.5l3.2 1.2l2.7 1.1l2.4 1l1.8 0.7l1.4 0.6l1 0.3l0.5 0.2zM1117.3 362.3h108l-1.9-6h17.9l-2-6h17.8l-2.2-5.9h13.4l-2.3-5.9h13.2l-2.4-5.9h8.8l-2.6-5.9h8.8l-2.7-5.8h8.7l-2.8-5.8h8.7l-3-5.7h13l-3.1-5.7h8.6l-3.2-5.7h8.5l-3.3-5.6h8.4l-3.4-5.6h8.4l-3.6-5.6h8.4l-3.8-5.5h8.4l-3.9-5.4h8.3l-4.1-5.4h8.3l-4.2-5.4h12.3l-4.4-5.3h12.2l-4.5-5.2h12.1l-4.7-5.2h12l-4.9-5.2h19.9l-5.1-5h19.7l-5.4-5.1h88l-6.1-4.9l-6.2-4.9l-6.4-4.8l-6.4-4.8l-6.5-4.7l-6.6-4.6l-6.6-4.5l-6.7-4.5l-6.8-4.4l-6.8-4.3l-6.9-4.2l-6.9-4.2l-6.9-4l-6.9-4l-6.9-3.8l-6.9-3.8l-6.9-3.6l-6.9-3.6l-6.7-3.4l-6.7-3.3l-6.6-3.2l-6.4-3.1l-6.3-3l-6.2-2.8l-5.9-2.7l-5.8-2.6l-5.5-2.4l-5.2-2.2l-4.9-2.1l-4.7-2l-4.2-1.8l-4-1.6l-3.5-1.5l-3.2-1.2l-2.7-1.1l-2.4-1l-1.8-0.7l-1.4-0.6l-1-0.3l-0.5-0.2v-14.1h-1085.4v14.1l-0.5 0.2l-1 0.3l-1.4 0.6l-1.8 0.7l-2.4 1l-2.7 1.1l-3.2 1.2l-3.5 1.5l-4 1.6l-4.2 1.8l-4.7 2l-4.9 2.1l-5.2 2.2l-5.5 2.4l-5.8 2.6l-5.9 2.7l-6.2 2.8l-6.3 3l-6.4 3.1l-6.6 3.2l-6.7 3.3l-6.7 3.4l-6.9 3.6l-6.9 3.6l-6.9 3.8l-6.9 3.8l-6.9 4l-6.9 4l-6.9 4.2l-6.9 4.2l-6.8 4.3l-6.8 4.4l-6.7 4.5l-6.6 4.5l-6.6 4.6l-6.5 4.7l-6.4 4.8l-6.4 4.8l-6.2 4.9l-6.1 4.9h64.5l5.6-4.9h34.9l-5.3 4.9h43l-4.9 5.1h23.6l-4.6 5h19.9l-4.5 5.2h12.1l-4.3 5.2h16.1l-4 5.2h12.2l-3.9 5.3h12.2l-3.7 5.4h12.4l-3.6 5.4h12.4l-3.4 5.4h8.4l-3.3 5.5h12.6l-3.2 5.6h12.7l-3 5.6h12.8l-2.9 5.6h12.8l-2.7 5.7h17.2l-2.5 5.7h17.3l-2.4 5.7h39.1l-2.2 5.8h21.9l2-5.8h39.1l1.8-5.7h21.6l1.8-5.7h17.2l1.8-5.7h12.8l1.7-5.6h17l1.6-5.6h12.7l1.6-5.6h12.6l1.6-5.5h12.5l1.6-5.4h12.4l1.5-5.4h12.4l1.4-5.4h16.3l1.4-5.3h12.2l1.3-5.2h16.1l1.2-5.2h16l1.1-5.2h19.9l0.9-5h23.7l0.8-5.1h39.1l0.5-4.9h38.8l-0.2 4.9h35.2l0.1 5.1h19.7l0.3 5h19.8l0.4 5.2h12l0.5 5.2h12.1l0.6 5.2h16.2l0.7 5.3h12.3l0.7 5.4h8.2l0.8 5.4h12.5l0.8 5.4h12.5l0.9 5.5h12.6l1 5.6h12.6l1.1 5.6h12.7l1.1 5.6h12.8l1.1 5.7h12.9l1.1 5.7h13l1.2 5.7h13l1.2 5.8h17.5l1.2 5.8h13.2l1.3 5.9h17.6l1.4 5.9h17.7l1.3 5.9h17.8l1.4 5.9h22.3l1.5 6h22.4z"/>
<path fill="#b4586e" d="M194.3 952h1085.4v-16.7l0.5-0.2l1-0.3l1.4-0.6l1.8-0.7l2.4-1l2.7-1.1l3.2-1.2l3.5-1.5l4-1.6l4.2-1.8l4.7-2l4.9-2.1l5.2-2.2l5.5-2.4l5.8-2.6l5.9-2.7l6.2-2.8l6.3-3l6.4-3.1l6.6-3.2l6.7-3.3l6.7-3.4l6.9-3.6l6.9-3.6l6.9-3.8l6.9-3.8l6.9-4l6.9-4l6.9-4.2l6.9-4.2l6.8-4.3l6.8-4.4l6.7-4.5l6.6-4.5l6.6-4.6l6.5-4.7l6.4-4.8l6.4-4.8l6.2-4.9l6.1-4.9l6.1-5.1l5.9-5l5.9-5.2l5.7-5.2l5.6-5.2l5.6-5.3l5.4-5.4l5.3-5.4l5.2-5.4l5.1-5.5l4.9-5.6l4.9-5.6l4.7-5.6l4.6-5.7l4.5-5.7l4.4-5.7l4.3-5.8h-67.7l3.8-5.8h-8.7l3.6-5.9h-8.8l3.5-5.9h-13.3l3.4-5.9h-8.9l3.2-5.9h-13.4l3-6h-13.5l2.9-6h-9l2.7-6.1h-18.1l2.6-6h-13.6l2.4-6.1h-18.2l2.3-6.1h-22.9l2.1-6.2h-27.5l1.9-6.1h-32.1l1.7-6.2h-46l1.5-6.2h-55.4l1.2-6.2h-55.5l-1.1 6.2h-27.7l-1.2 6.2h-13.8l-1.1 6.2h-13.8l-1.2 6.1h-4.6l-1.2 6.2h-9.1l-1.3 6.1h-4.5l-1.3 6.1h-4.5l-1.4 6h-4.5l-1.3 6.1h-4.5l-1.4 6h-4.5l-1.4 6l-1.5 5.9h-4.5l-1.5 5.9l-1.5 5.9h-4.4l-1.6 5.9l-1.6 5.8h-4.4l-1.7 5.8l-1.7 5.7l-1.7 5.7h-4.3l-1.8 5.7l-1.8 5.6l-1.9 5.6l-1.9 5.6h-4.2l-1.9 5.5l-2 5.4l-2 5.4l-2 5.4l-2.1 5.3h-4.1l-2.1 5.2l-2.1 5.2l-2.2 5.2l-2.2 5l-2.3 5.1h-3.9l-2.3 4.9l-2.3 4.9l-2.3 4.8l-2.4 4.8h-3.7l-2.4 4.7l-2.4 4.6l-2.4 4.5l-2.4 4.5h-3.7l-2.4 4.4l-2.5 4.3l-2.4 4.2h-3.6l-2.4 4.2l-2.4 4l-2.5 4h-3.4l-2.4 3.8l-2.4 3.8h-3.4l-2.3 3.6h-3.4l-2.3 3.6l-2.3 3.4h-3.2l-2.2 3.3h-3.3l-2.1 3.2l-2.1 3.1h-3.2l-2 3h-6.3l-1.9 2.8h-3.1l-1.8 2.7h-3l-1.8 2.6h-6l-1.6 2.4h-3l-1.5 2.2h-8.9l-1.4 2.1h-5.9l-1.2 2h-8.8l-1 1.8h-11.6l-0.9 1.6h-14.4l-0.7 1.5h-17.2l-0.5 1.2h-28.5l-0.3 1.1h-53.9v1h-124.2l-0.5-1h-53.8l-0.9-1.1h-31.3l-1.1-1.2h-20.1l-1.4-1.5h-14.4l-1.7-1.6h-11.6l-1.9-1.8h-11.7l-2.2-2h-8.8l-2.4-2.1h-8.9l-2.6-2.2h-6l-2.8-2.4h-9.1l-3-2.6h-6.1l-3.2-2.7h-6.2l-3.3-2.8h-6.3l-3.5-3h-6.3l-3.6-3.1h-3.2l-3.7-3.2h-6.5l-3.9-3.3h-6.5l-4-3.4h-3.2l-4.1-3.6h-6.7l-4.1-3.6h-6.8l-4.2-3.8h-3.4l-4.3-3.8h-6.9l-4.3-4h-3.5l-4.4-4h-7l-4.5-4.2h-7.1l-4.5-4.2h-3.5l-4.6-4.3h-7.2l-4.5-4.4h-7.3l-4.6-4.5h-3.7l-4.6-4.5h-7.4l-4.6-4.6h-7.5l-4.6-4.7h-7.5l-4.7-4.8h-7.6l-4.6-4.8h-7.7l-4.6-4.9h-7.8l-4.6-4.9h-7.8l-4.6-5.1h-7.9l-4.6-5h-7.9l-4.6-5.2h-8l-4.5-5.2h-8.1l-4.5-5.2h-8.1l-4.5-5.3h-8.2l-4.4-5.4h-8.3l-4.4-5.4h-8.3l-4.4-5.4h-8.3l-4.3-5.5h-8.4l-4.3-5.6h-8.5l-4.2-5.6h-8.5l-4.2-5.6h-8.5l-4.2-5.7h-8.5l-4.1-5.7h-8.7l-4-5.7h-8.6l-4-5.8h-63.3l4.3 5.8l4.4 5.7l4.5 5.7l4.6 5.7l4.7 5.6l4.9 5.6l4.9 5.6l5.1 5.5l5.2 5.4l5.3 5.4l5.4 5.4l5.6 5.3l5.6 5.2l5.7 5.2l5.9 5.2l5.9 5l6.1 5.1l6.1 4.9l6.2 4.9l6.4 4.8l6.4 4.8l6.5 4.7l6.6 4.6l6.6 4.5l6.7 4.5l6.8 4.4l6.8 4.3l6.9 4.2l6.9 4.2l6.9 4l6.9 4l6.9 3.8l6.9 3.8l6.9 3.6l6.9 3.6l6.7 3.4l6.7 3.3l6.6 3.2l6.4 3.1l6.3 3l6.2 2.8l5.9 2.7l5.8 2.6l5.5 2.4l5.2 2.2l4.9 2.1l4.7 2l4.2 1.8l4 1.6l3.5 1.5l3.2 1.2l2.7 1.1l2.4 1l1.8 0.7l1.4 0.6l1 0.3l0.5 0.2zM1134.9 344.4h71.1l-2-5.9h26.5l-2.2-5.9h17.6l-2.4-5.9h13.2l-2.5-5.8h8.7l-2.7-5.8h13.1l-2.8-5.7h8.6l-2.9-5.7h8.6l-3-5.7h12.8l-3.2-5.6h8.5l-3.3-5.6h8.4l-3.4-5.6h8.4l-3.6-5.5h8.4l-3.7-5.4h8.2l-3.8-5.4h8.2l-3.9-5.4h8.1l-4.1-5.3h8.1l-4.2-5.2h8.1l-4.4-5.2h12l-4.6-5.2h11.9l-4.7-5h11.8l-4.9-5.1h11.7l-5.1-4.9h15.6l-5.3-4.9h19.2l-5.5-4.8h30.5l-5.9-4.8h62.4l-6.5-4.7l-6.6-4.6l-6.6-4.5l-6.7-4.5l-6.8-4.4l-6.8-4.3l-6.9-4.2l-6.9-4.2l-6.9-4l-6.9-4l-6.9-3.8l-6.9-3.8l-6.9-3.6l-6.9-3.6l-6.7-3.4l-6.7-3.3l-6.6-3.2l-6.4-3.1l-6.3-3l-6.2-2.8l-5.9-2.7l-5.8-2.6l-5.5-2.4l-5.2-2.2l-4.9-2.1l-4.7-2l-4.2-1.8l-4-1.6l-3.5-1.5l-3.2-1.2l-2.7-1.1l-2.4-1l-1.8-0.7l-1.4-0.6l-1-0.3l-0.5-0.2v-14.1h-1085.4v14.1l-0.5 0.2l-1 0.3l-1.4 0.6l-1.8 0.7l-2.4 1l-2.7 1.1l-3.2 1.2l-3.5 1.5l-4 1.6l-4.2 1.8l-4.7 2l-4.9 2.1l-5.2 2.2l-5.5 2.4l-5.8 2.6l-5.9 2.7l-6.2 2.8l-6.3 3l-6.4 3.1l-6.6 3.2l-6.7 3.3l-6.7 3.4l-6.9 3.6l-6.9 3.6l-6.9 3.8l-6.9 3.8l-6.9 4l-6.9 4l-6.9 4.2l-6.9 4.2l-6.8 4.3l-6.8 4.4l-6.7 4.5l-6.6 4.5l-6.6 4.6l-6.5 4.7h122.9l-5.4 4.8h26.7l-5 4.8h23.1l-4.8 4.9h15.5l-4.6 4.9h15.7l-4.4 5.1h11.8l-4.2 5h11.9l-4 5.2h12l-3.9 5.2h12.1l-3.7 5.2h12.1l-3.5 5.3h8.1l-3.4 5.4h12.3l-3.3 5.4h12.5l-3.2 5.4h12.6l-3 5.5h12.5l-2.8 5.6h16.9l-2.7 5.6h21.2l-2.5 5.6h72.7l2.1-5.6h25.5l1.9-5.6h16.9l2-5.6h12.6l1.9-5.5h16.6l1.9-5.4h8.3l1.8-5.4h12.3l1.8-5.4h12.3l1.7-5.3h12.2l1.7-5.2h12.1l1.6-5.2h12l1.5-5.2h8l1.5-5h11.8l1.5-5.1h11.7l1.4-4.9h11.6l1.3-4.9h15.4l1.2-4.8h11.4l1.1-4.8h15.2l0.9-4.7h18.8l0.8-4.6h18.6l0.7-4.5h40.4l0.3-4.5h18.2l-0.1 4.5h36.8l0.2 4.5h18.6l0.4 4.6h11.2l0.5 4.7h11.4l0.5 4.8h11.5l0.7 4.8h11.5l0.8 4.9h7.7l0.8 4.9h11.7l0.9 5.1h7.9l1 5h7.9l1 5.2h12l1 5.2h8.1l1.1 5.2h8.1l1.1 5.3h12.3l1.2 5.4h8.2l1.2 5.4h8.3l1.3 5.4h12.5l1.3 5.5h12.6l1.3 5.6h8.5l1.3 5.6h12.8l1.4 5.6h12.8l1.4 5.7h12.9l1.5 5.7h13l1.5 5.7h13l1.5 5.8h17.5l1.5 5.8h17.6l1.6 5.9h22l1.7 5.9h31z"/>
<path fill="#bf6663" d="M194.3 952h1085.4v-16.7l0.5-0.2l1-0.3l1.4-0.6l1.8-0.7l2.4-1l2.7-1.1l3.2-1.2l3.5-1.5l4-1.6l4.2-1.8l4.7-2l4.9-2.1l5.2-2.2l5.5-2.4l5.8-2.6l5.9-2.7l6.2-2.8l6.3-3l6.4-3.1l6.6-3.2l6.7-3.3l6.7-3.4l6.9-3.6l6.9-3.6l6.9-3.8l6.9-3.8l6.9-4l6.9-4l6.9-4.2l6.9-4.2l6.8-4.3l6.8-4.4l6.7-4.5l6.6-4.5l6.6-4.6l6.5-4.7l6.4-4.8l6.4-4.8l6.2-4.9l6.1-4.9l6.1-5.1l5.9-5l5.9-5.2l5.7-5.2l5.6-5.2l5.6-5.3l5.4-5.4l5.3-5.4l5.2-5.4l5.1-5.5l4.9-5.6l4.9-5.6l4.7-5.6h-66.2l4.2-5.7h-8.6l4.1-5.7h-8.6l3.9-5.7h-8.6l3.7-5.8h-8.7l3.6-5.8h-13.1l3.5-5.9h-8.9l3.4-5.9h-13.3l3.1-5.9h-13.3l3-5.9h-13.4l2.9-6h-13.5l2.7-6h-18l2.5-6.1h-22.6l2.4-6h-22.7l2.2-6.1h-36.4l1.9-6.1h-50.2l1.8-6.2h-100.8l-1.4 6.2h-18.2l-1.4 6.1h-13.7l-1.4 6.1h-9.1l-1.4 6h-9.1l-1.4 6.1h-4.5l-1.5 6h-4.5l-1.6 6h-4.4l-1.6 5.9h-4.5l-1.6 5.9h-4.4l-1.7 5.9l-1.7 5.9h-4.4l-1.7 5.8h-4.4l-1.7 5.8l-1.9 5.7h-4.3l-1.8 5.7l-1.9 5.7l-2 5.6h-4.2l-2 5.6l-2 5.6l-2 5.5l-2.1 5.4h-4.2l-2.1 5.4l-2.2 5.4l-2.2 5.3l-2.2 5.2h-4.1l-2.2 5.2l-2.3 5.2l-2.4 5l-2.3 5.1l-2.5 4.9h-3.9l-2.4 4.9l-2.4 4.8l-2.5 4.8l-2.6 4.7l-2.5 4.6h-3.7l-2.6 4.5l-2.6 4.5l-2.6 4.4l-2.6 4.3l-2.6 4.2h-3.6l-2.6 4.2l-2.6 4l-2.6 4h-3.5l-2.5 3.8l-2.6 3.8l-2.6 3.6h-3.3l-2.5 3.6l-2.5 3.4h-3.3l-2.4 3.3l-2.4 3.2h-3.2l-2.3 3.1l-2.3 3h-3.1l-2.1 2.8l-2.1 2.7h-3.1l-2 2.6h-3l-1.9 2.4h-3l-1.8 2.2h-3l-1.6 2.1h-5.9l-1.5 2h-2.9l-1.4 1.8h-5.8l-1.2 1.6h-5.8l-1 1.5h-8.6l-0.9 1.2h-11.4l-0.7 1.1h-17l-0.5 1h-22.6l-0.4 0.7h-44.9l-0.2 0.6h-227.2l-0.4-0.6h-45l-0.8-0.7h-22.5l-1.1-1h-17l-1.2-1.1h-11.4l-1.6-1.2h-11.4l-1.8-1.5h-5.8l-2-1.6h-8.7l-2.3-1.8h-5.9l-2.5-2h-5.9l-2.7-2.1h-6l-2.9-2.2h-3l-3.2-2.4h-6l-3.4-2.6h-6.1l-3.5-2.7h-3.1l-3.6-2.8h-6.3l-3.8-3h-3.1l-4-3.1h-6.4l-4-3.2h-3.3l-4.2-3.3h-6.5l-4.3-3.4h-3.3l-4.3-3.6h-3.4l-4.4-3.6h-6.7l-4.6-3.8h-3.4l-4.6-3.8h-6.8l-4.7-4h-6.9l-4.8-4h-3.5l-4.7-4.2h-7.1l-4.8-4.2h-7.1l-4.9-4.3h-3.6l-4.8-4.4h-7.3l-4.8-4.5h-7.4l-4.9-4.5h-7.4l-4.9-4.6h-7.5l-4.9-4.7h-7.6l-4.9-4.8h-7.6l-4.9-4.8h-7.7l-4.9-4.9h-7.8l-4.9-4.9h-7.8l-4.9-5.1h-7.9l-4.8-5h-8l-4.8-5.2h-8l-4.8-5.2h-8.1l-4.7-5.2h-4.1l-4.7-5.3h-8.2l-4.7-5.4h-8.2l-4.6-5.4h-8.3l-4.6-5.4h-8.4l-4.5-5.5h-8.4l-4.5-5.6h-8.4l-4.5-5.6h-8.5l-4.4-5.6h-61.9l4.7 5.6l4.9 5.6l4.9 5.6l5.1 5.5l5.2 5.4l5.3 5.4l5.4 5.4l5.6 5.3l5.6 5.2l5.7 5.2l5.9 5.2l5.9 5l6.1 5.1l6.1 4.9l6.2 4.9l6.4 4.8l6.4 4.8l6.5 4.7l6.6 4.6l6.6 4.5l6.7 4.5l6.8 4.4l6.8 4.3l6.9 4.2l6.9 4.2l6.9 4l6.9 4l6.9 3.8l6.9 3.8l6.9 3.6l6.9 3.6l6.7 3.4l6.7 3.3l6.6 3.2l6.4 3.1l6.3 3l6.2 2.8l5.9 2.7l5.8 2.6l5.5 2.4l5.2 2.2l4.9 2.1l4.7 2l4.2 1.8l4 1.6l3.5 1.5l3.2 1.2l2.7 1.1l2.4 1l1.8 0.7l1.4 0.6l1 0.3l0.5 0.2zM1160.2 326.7h17.6l-2.2-5.8h39.3l-2.4-5.8h17.4l-2.6-5.7h13l-2.7-5.7h12.8l-2.8-5.7h12.8l-3-5.6h8.5l-3.1-5.6h8.5l-3.3-5.6h8.4l-3.4-5.5h8.4l-3.5-5.4h8.3l-3.6-5.4h8.2l-3.8-5.4h8.2l-3.9-5.3h8.2l-4.1-5.2h8.1l-4.2-5.2h8l-4.2-5.2h7.9l-4.4-5h11.8l-4.6-5.1h7.8l-4.7-4.9h11.6l-4.9-4.9h11.6l-5.1-4.8h11.4l-5.2-4.8h11.3l-5.4-4.7h18.8l-5.7-4.6h18.6l-5.9-4.5h82.8l-6.7-4.5l-6.8-4.4l-6.8-4.3l-6.9-4.2l-6.9-4.2l-6.9-4l-6.9-4l-6.9-3.8l-6.9-3.8l-6.9-3.6l-6.9-3.6l-6.7-3.4l-6.7-3.3l-6.6-3.2l-6.4-3.1l-6.3-3l-6.2-2.8l-5.9-2.7l-5.8-2.6l-5.5-2.4l-5.2-2.2l-4.9-2.1l-4.7-2l-4.2-1.8l-4-1.6l-3.5-1.5l-3.2-1.2l-2.7-1.1l-2.4-1l-1.8-0.7l-1.4-0.6l-1-0.3l-0.5-0.2v-14.1h-1085.4v14.1l-0.5 0.2l-1 0.3l-1.4 0.6l-1.8 0.7l-2.4 1l-2.7 1.1l-3.2 1.2l-3.5 1.5l-4 1.6l-4.2 1.8l-4.7 2l-4.9 2.1l-5.2 2.2l-5.5 2.4l-5.8 2.6l-5.9 2.7l-6.2 2.8l-6.3 3l-6.4 3.1l-6.6 3.2l-6.7 3.3l-6.7 3.4l-6.9 3.6l-6.9 3.6l-6.9 3.8l-6.9 3.8l-6.9 4l-6.9 4l-6.9 4.2l-6.9 4.2l-6.8 4.3l-6.8 4.4l-6.7 4.5h53.4l6.2-4.5h58.3l-5.7 4.5h33.1l-5.3 4.5h22.3l-5 4.6h18.7l-4.8 4.7h11.4l-4.7 4.8h15.3l-4.5 4.8h11.6l-4.3 4.9h11.6l-4.1 4.9h11.7l-4 5.1h7.9l-3.8 5h11.9l-3.7 5.2h8l-3.6 5.2h12.1l-3.4 5.2h12.2l-3.3 5.3h12.3l-3.1 5.4h16.5l-3 5.4h16.6l-2.8 5.4h79.3l2.3-5.4h20.7l2.2-5.4h16.4l2.1-5.4h12.3l2.1-5.3h12.2l2-5.2h8l2-5.2h12l2-5.2h7.9l1.9-5h11.9l1.8-5.1h7.8l1.9-4.9h11.6l1.8-4.9h7.7l1.7-4.8h7.6l1.7-4.8h7.5l1.6-4.7h11.3l1.5-4.6h7.5l1.4-4.5h7.4l1.4-4.5h11l1.3-4.4h7.2l1.3-4.3h7.2l1.2-4.2h10.6l1.1-4.2h10.5l1.1-4h10.4l0.9-4h13.7l0.8-3.8h17l0.5-3.8h37l0.2-3.6h3.3l-0.1 3.6h36.9l0.3 3.8h17l0.4 3.8h13.7l0.6 4h10.4l0.6 4h7l0.8 4.2h10.6l0.8 4.2h7.2l0.9 4.3h7.2l0.9 4.4h7.3l1 4.5h7.4l1.1 4.5h7.4l1.1 4.6h3.8l1.1 4.7h7.6l1.2 4.8h7.6l1.3 4.8h7.7l1.3 4.9h3.9l1.3 4.9h7.8l1.4 5.1h7.8l1.4 5h8l1.4 5.2h8l1.5 5.2h8l1.5 5.2h8.2l1.5 5.3h8.2l1.5 5.4h8.3l1.5 5.4h12.5l1.6 5.4h8.3l1.7 5.5h12.6l1.6 5.6h8.5l1.7 5.6h12.7l1.7 5.6h12.8l1.8 5.7h17.2l1.8 5.7h17.3l1.8 5.7h21.7l1.9 5.8h43.7z"/>
<path fill="#ca7558" d="M194.3 952h188.8v-16.7h42l-0.3-0.2h-2.8l-0.6-0.3l-0.8-0.6h-2.8l-1.1-0.7h-2.8l-1.4-1h-2.8l-1.6-1.1h-2.9l-1.9-1.2l-2.1-1.5h-2.9l-2.4-1.6h-2.9l-2.6-1.8h-2.9l-2.9-2h-2.9l-3.1-2.1h-3l-3.3-2.2h-3l-3.4-2.4h-3.1l-3.6-2.6h-3.1l-3.8-2.7h-3.1l-3.9-2.8h-3.2l-4.1-3h-6.3l-4.3-3.1h-3.1l-4.4-3.2h-3.3l-4.5-3.3h-3.2l-4.6-3.4h-6.6l-4.7-3.6h-3.3l-4.8-3.6h-3.3l-4.9-3.8h-6.7l-5-3.8h-3.4l-4.9-4h-7l-5-4h-7l-5.1-4.2h-3.5l-5.1-4.2h-7.1l-5.1-4.3h-7.3l-5.1-4.4h-7.3l-5.2-4.5h-3.6l-5.2-4.5h-7.4l-5.2-4.6h-7.5l-5.2-4.7h-7.5l-5.2-4.8h-7.6l-5.2-4.8h-7.7l-5.1-4.9h-7.8l-5.2-4.9h-7.8l-5.1-5.1h-7.9l-5.1-5h-7.9l-5.1-5.2h-8l-5.1-5.2h-4l-5-5.2h-8.1l-4.9-5.3h-8.2l-4.9-5.4h-8.3l-4.8-5.4h-8.3l-4.8-5.4h-60.5l5.2 5.4l5.3 5.4l5.4 5.4l5.6 5.3l5.6 5.2l5.7 5.2l5.9 5.2l5.9 5l6.1 5.1l6.1 4.9l6.2 4.9l6.4 4.8l6.4 4.8l6.5 4.7l6.6 4.6l6.6 4.5l6.7 4.5l6.8 4.4l6.8 4.3l6.9 4.2l6.9 4.2l6.9 4l6.9 4l6.9 3.8l6.9 3.8l6.9 3.6l6.9 3.6l6.7 3.4l6.7 3.3l6.6 3.2l6.4 3.1l6.3 3l6.2 2.8l5.9 2.7l5.8 2.6l5.5 2.4l5.2 2.2l4.9 2.1l4.7 2l4.2 1.8l4 1.6l3.5 1.5l3.2 1.2l2.7 1.1l2.4 1l1.8 0.7l1.4 0.6l1 0.3l0.5 0.2zM973.4 952h306.3v-16.7l0.5-0.2l1-0.3l1.4-0.6l1.8-0.7l2.4-1l2.7-1.1l3.2-1.2l3.5-1.5l4-1.6l4.2-1.8l4.7-2l4.9-2.1l5.2-2.2l5.5-2.4l5.8-2.6l5.9-2.7l6.2-2.8l6.3-3l6.4-3.1l6.6-3.2l6.7-3.3l6.7-3.4l6.9-3.6l6.9-3.6l6.9-3.8l6.9-3.8l6.9-4l6.9-4l6.9-4.2l6.9-4.2l6.8-4.3l6.8-4.4l6.7-4.5l6.6-4.5l6.6-4.6l6.5-4.7l6.4-4.8l6.4-4.8l6.2-4.9l6.1-4.9l6.1-5.1l5.9-5l5.9-5.2l5.7-5.2l5.6-5.2l5.6-5.3l5.4-5.4l5.3-5.4l5.2-5.4h-64.7l4.7-5.5h-8.4l4.5-5.6h-8.4l4.3-5.6h-8.5l4.3-5.6h-8.6l4.1-5.7h-8.6l3.9-5.7h-8.7l3.8-5.7h-8.7l3.6-5.8h-13.1l3.5-5.8h-13.2l3.3-5.9h-8.8l3.1-5.9h-17.7l3-5.9h-13.4l2.9-5.9h-22.4l2.7-6h-22.5l2.5-6h-31.5l2.2-6.1h-58.7l1.9-6h-58.9l-1.7 6h-31.6l-1.7 6.1h-18l-1.7 6h-9l-1.7 6h-8.9l-1.7 5.9h-4.5l-1.7 5.9h-4.4l-1.8 5.9h-4.4l-1.9 5.9h-4.4l-1.8 5.8h-4.4l-1.9 5.8h-4.3l-2 5.7l-1.9 5.7h-4.3l-2.1 5.7l-2 5.6h-4.3l-2 5.6l-2.2 5.6h-4.2l-2.1 5.5l-2.3 5.4l-2.2 5.4h-4.1l-2.3 5.4l-2.3 5.3l-2.4 5.2l-2.4 5.2h-4l-2.4 5.2l-2.5 5l-2.5 5.1l-2.6 4.9l-2.5 4.9h-3.9l-2.6 4.8l-2.6 4.8l-2.7 4.7l-2.7 4.6l-2.7 4.5l-2.7 4.5h-3.7l-2.7 4.4l-2.8 4.3l-2.8 4.2l-2.8 4.2l-2.8 4l-2.8 4l-2.8 3.8h-3.4l-2.7 3.8l-2.8 3.6l-2.7 3.6l-2.7 3.4l-2.7 3.3h-3.2l-2.6 3.2l-2.5 3.1l-2.5 3l-2.4 2.8h-3.1l-2.3 2.7l-2.3 2.6l-2.1 2.4l-2 2.2h-3l-1.9 2.1l-1.8 2l-1.6 1.8h-2.9l-1.5 1.6l-1.4 1.5h-2.8l-1.2 1.2l-1 1.1h-2.9l-0.8 1l-0.7 0.7h-2.8l-0.5 0.6l-0.4 0.3h-2.8l-0.2 0.2h42zM1125.8 303.7h68.8l-2.5-5.7h21.3l-2.7-5.6h17l-2.9-5.6h12.7l-3.1-5.6h8.4l-3.1-5.5h12.5l-3.3-5.4h8.3l-3.5-5.4h8.3l-3.6-5.4h8.2l-3.7-5.3h8.1l-3.8-5.2h8.1l-4-5.2h8l-4.1-5.2h4l-4.2-5h7.9l-4.3-5.1h7.8l-4.4-4.9h7.7l-4.6-4.9h11.6l-4.8-4.8h7.7l-4.9-4.8h7.6l-5.1-4.7h11.3l-5.2-4.6h11.2l-5.4-4.5h11.1l-5.5-4.5h10.9l-5.6-4.4h18l-5.8-4.3h17.9l-6.1-4.2h28.3l-6.4-4.2h50.8l-6.9-4l-6.9-4l-6.9-3.8l-6.9-3.8l-6.9-3.6l-6.9-3.6l-6.7-3.4l-6.7-3.3l-6.6-3.2l-6.4-3.1l-6.3-3l-6.2-2.8l-5.9-2.7l-5.8-2.6l-5.5-2.4l-5.2-2.2l-4.9-2.1l-4.7-2l-4.2-1.8l-4-1.6l-3.5-1.5l-3.2-1.2l-2.7-1.1l-2.4-1l-1.8-0.7l-1.4-0.6l-1-0.3l-0.5-0.2v-14.1h-1085.4v14.1l-0.5 0.2l-1 0.3l-1.4 0.6l-1.8 0.7l-2.4 1l-2.7 1.1l-3.2 1.2l-3.5 1.5l-4 1.6l-4.2 1.8l-4.7 2l-4.9 2.1l-5.2 2.2l-5.5 2.4l-5.8 2.6l-5.9 2.7l-6.2 2.8l-6.3 3l-6.4 3.1l-6.6 3.2l-6.7 3.3l-6.7 3.4l-6.9 3.6l-6.9 3.6l-6.9 3.8l-6.9 3.8l-6.9 4l-6.9 4h124.4l-5.7 4.2h28.3l-5.3 4.2h17.9l-5.1 4.3h14.4l-4.9 4.4h14.5l-4.7 4.5h11l-4.6 4.5h11.2l-4.5 4.6h11.2l-4.3 4.7h7.6l-4.2 4.8h11.5l-4.1 4.8h7.7l-3.9 4.9h11.7l-3.8 4.9h11.7l-3.6 5.1h7.9l-3.5 5h12l-3.4 5.2h16l-3.1 5.2h16.1l-3 5.2h69.1l2.5-5.2h16.1l2.4-5.2h16l2.3-5.2h12l2.2-5h7.9l2.3-5.1h11.7l2.2-4.9h7.8l2.2-4.9h7.6l2.2-4.8h7.6l2.1-4.8h7.6l2-4.7h7.5l2-4.6h3.8l2-4.5h7.3l2-4.5h3.6l2-4.4h7.2l1.9-4.3h3.5l1.9-4.2h7.1l1.8-4.2h3.5l1.7-4h7l1.7-4h3.4l1.7-3.8h3.3l1.7-3.8h6.7l1.5-3.6h3.4l1.5-3.6h3.2l1.5-3.4h6.5l1.4-3.3h3.2l1.3-3.2h6.4l1.2-3.1h6.3l1.1-3h9.4l1-2.8h9.2l0.9-2.7h15.3l0.7-2.6h27.3l0.4-2.4h42v2.4h27.3l0.2 2.6h15.3l0.4 2.7h12.4l0.5 2.8h9.4l0.7 3h9.4l0.8 3.1h6.4l0.8 3.2h6.5l0.9 3.3h3.3l1 3.4h6.6l1 3.6h6.7l1.1 3.6h3.4l1.2 3.8h3.4l1.2 3.8h6.9l1.3 4h3.5l1.3 4h3.5l1.4 4.2h7l1.5 4.2h3.5l1.5 4.3h3.6l1.5 4.4h3.6l1.6 4.5h7.3l1.6 4.5h3.7l1.6 4.6h3.7l1.6 4.7h7.6l1.6 4.8h3.8l1.7 4.8h7.6l1.7 4.9h3.9l1.7 4.9h7.8l1.8 5.1h7.8l1.8 5h4l1.7 5.2h8l1.8 5.2h8.1l1.8 5.2h8.1l1.9 5.3h8.2l1.8 5.4h12.4l1.9 5.4h8.3l1.9 5.4h12.5l1.9 5.5h12.6l2 5.6h12.7l2 5.6h17l2 5.6h25.7z"/>
<path fill="#d4824f" d="M192.8 934.8h68.8l-1.3-0.6h47.8l-1.4-0.7h19.7l-1.7-1h14.2l-2-1.1h5.7l-2.3-1.2h5.7l-2.5-1.5h2.9l-2.7-1.6h2.9l-3-1.8l-3.2-2l-3.4-2.1l-3.7-2.2l-3.8-2.4h-3l-4-2.6l-4.2-2.7h-3.1l-4.3-2.8h-3.1l-4.5-3h-3.1l-4.6-3.1h-3.2l-4.7-3.2h-3.3l-4.8-3.3h-3.3l-4.9-3.4h-3.3l-5-3.6h-3.3l-5.1-3.6h-6.7l-5.2-3.8h-3.4l-5.2-3.8h-3.5l-5.2-4h-7l-5.3-4h-7l-5.4-4.2h-3.5l-5.4-4.2h-7.2l-5.4-4.3h-7.2l-5.5-4.4h-3.6l-5.5-4.5h-7.4l-5.4-4.5h-7.4l-5.5-4.6h-7.5l-5.5-4.7h-7.6l-5.4-4.8h-7.7l-5.4-4.8h-3.9l-5.4-4.9h-7.7l-5.4-4.9h-7.9l-5.3-5.1h-7.9l-5.4-5h-7.9l-5.3-5.2h-8l-5.3-5.2h-4l-5.3-5.2h-58.8l5.6 5.2l5.7 5.2l5.9 5.2l5.9 5l6.1 5.1l6.1 4.9l6.2 4.9l6.4 4.8l6.4 4.8l6.5 4.7l6.6 4.6l6.6 4.5l6.7 4.5l6.8 4.4l6.8 4.3l6.9 4.2l6.9 4.2l6.9 4l6.9 4l6.9 3.8l6.9 3.8l6.9 3.6l6.9 3.6l6.7 3.4l6.7 3.3l6.6 3.2l6.4 3.1l6.3 3l6.2 2.8l5.9 2.7l5.8 2.6l5.5 2.4l5.2 2.2l4.9 2.1l4.7 2l4.2 1.8l4 1.6l3.5 1.5l3.2 1.2l2.7 1.1l2.4 1l1.8 0.7zM1086.2 934.8h195l1.4-0.6l1.8-0.7l2.4-1l2.7-1.1l3.2-1.2l3.5-1.5l4-1.6l4.2-1.8l4.7-2l4.9-2.1l5.2-2.2l5.5-2.4l5.8-2.6l5.9-2.7l6.2-2.8l6.3-3l6.4-3.1l6.6-3.2l6.7-3.3l6.7-3.4l6.9-3.6l6.9-3.6l6.9-3.8l6.9-3.8l6.9-4l6.9-4l6.9-4.2l6.9-4.2l6.8-4.3l6.8-4.4l6.7-4.5l6.6-4.5l6.6-4.6l6.5-4.7l6.4-4.8l6.4-4.8l6.2-4.9l6.1-4.9l6.1-5.1l5.9-5l5.9-5.2l5.7-5.2l5.6-5.2h-62.9l5.1-5.3h-8.2l4.9-5.4h-8.2l4.8-5.4h-8.3l4.6-5.4h-8.3l4.4-5.5h-8.4l4.3-5.6h-8.4l4.2-5.6h-8.5l4-5.6h-8.6l3.9-5.7h-8.6l3.7-5.7h-12.9l3.5-5.7h-13l3.4-5.8h-13.1l3.2-5.8h-13.1l3-5.9h-17.6l2.9-5.9h-22.1l2.7-5.9h-35.6l2.5-5.9h-120.5l-2 5.9h-17.8l-1.9 5.9h-8.9l-2 5.9h-8.8l-2 5.9h-8.8l-2 5.8h-4.3l-2.1 5.8h-4.3l-2.1 5.7h-4.3l-2.2 5.7h-4.3l-2.1 5.7h-4.3l-2.2 5.6h-4.2l-2.2 5.6l-2.3 5.6h-4.2l-2.3 5.5l-2.3 5.4l-2.4 5.4h-4.1l-2.5 5.4l-2.4 5.3l-2.5 5.2h-4.1l-2.5 5.2l-2.6 5.2l-2.6 5l-2.7 5.1h-3.9l-2.6 4.9l-2.8 4.9l-2.7 4.8l-2.8 4.8l-2.8 4.7l-2.9 4.6h-3.7l-2.9 4.5l-2.9 4.5l-2.9 4.4l-2.9 4.3l-3 4.2l-2.9 4.2l-3 4l-3 4l-3 3.8l-2.9 3.8l-3 3.6l-2.9 3.6l-3 3.4l-2.8 3.3l-2.9 3.2l-2.7 3.1l-2.8 3l-2.6 2.8h3.1l-2.6 2.7l-2.5 2.6l-2.4 2.4h3l-2.3 2.2l-2.2 2.1h3l-2.1 2h2.9l-1.9 1.8h2.9l-1.8 1.6h2.9l-1.7 1.5h8.6l-1.5 1.2h8.6l-1.4 1.1h11.4l-1.2 1h22.6l-1.1 0.7h47.8zM1112.7 281.2h79.8l-2.9-5.5h16.7l-3-5.4h12.4l-3.1-5.4h12.3l-3.3-5.4h8.2l-3.4-5.3h12.1l-3.5-5.2h8l-3.7-5.2h4l-3.8-5.2h7.9l-3.9-5h7.9l-4.1-5.1h7.8l-4.2-4.9h7.8l-4.3-4.9h7.7l-4.5-4.8h3.8l-4.5-4.8h7.5l-4.6-4.7h7.5l-4.8-4.6h7.4l-4.9-4.5h7.3l-5-4.5h10.9l-5.1-4.4h7.2l-5.3-4.3h7.1l-5.4-4.2h10.7l-5.6-4.2h10.5l-5.6-4h10.4l-5.8-4h13.8l-5.9-3.8h16.9l-6-3.8h16.8l-6.2-3.6h61.5l-6.9-3.6l-6.7-3.4l-6.7-3.3l-6.6-3.2l-6.4-3.1l-6.3-3l-6.2-2.8l-5.9-2.7l-5.8-2.6l-5.5-2.4l-5.2-2.2l-4.9-2.1l-4.7-2l-4.2-1.8l-4-1.6l-3.5-1.5l-3.2-1.2l-2.7-1.1l-2.4-1l-1.8-0.7l-1.4-0.6l-1-0.3l-0.5-0.2v-14.1h-1085.4v14.1l-0.5 0.2l-1 0.3l-1.4 0.6l-1.8 0.7l-2.4 1l-2.7 1.1l-3.2 1.2l-3.5 1.5l-4 1.6l-4.2 1.8l-4.7 2l-4.9 2.1l-5.2 2.2l-5.5 2.4l-5.8 2.6l-5.9 2.7l-6.2 2.8l-6.3 3l-6.4 3.1l-6.6 3.2l-6.7 3.3l-6.7 3.4l-6.9 3.6h61.5l6.2-3.6h59.3l-5.6 3.6h26.6l-5.3 3.6h20.2l-5.1 3.8h13.6l-5 3.8h10.3l-4.9 4h10.4l-4.8 4h10.6l-4.7 4.2h10.6l-4.5 4.2h7.2l-4.4 4.3h10.8l-4.3 4.4h7.3l-4.2 4.5h7.4l-4.1 4.5h11.2l-3.9 4.6h7.5l-3.8 4.7h11.3l-3.7 4.8h11.5l-3.5 4.8h11.5l-3.3 4.9h19.4l-3.2 4.9h39.1l2.8-4.9h19.4l2.8-4.9h11.5l2.7-4.8h11.4l2.6-4.8h7.6l2.5-4.7h7.5l2.5-4.6h3.8l2.5-4.5h7.3l2.5-4.5h3.6l2.5-4.4h3.6l2.5-4.3h3.5l2.5-4.2h3.5l2.4-4.2h3.5l2.4-4l2.3-4h3.5l2.3-3.8l2.3-3.8h3.4l2.3-3.6l2.3-3.6l2.2-3.4l2.2-3.3h-3.2l2.2-3.2l2.2-3.1l2.1-3h-3.1l2.1-2.8l2.1-2.7h-3.1l2-2.6h-3l1.9-2.4h-3l1.9-2.2h-3l1.8-2.1h-2.9l1.7-2h-3l1.6-1.8l1.5-1.6l1.3-1.5l1.2-1.2h5.7l1-1.1h8.5l0.8-1h22.6l0.6-0.7h56.2l0.3-0.6h106.6v0.6h61.9l0.1 0.7h22.6l0.4 1h14.1l0.5 1.1h8.5l0.6 1.2h5.8l0.7 1.5h5.7l0.9 1.6h2.9l0.9 1.8h2.9l1 2l1.1 2.1h3l1.2 2.2l1.2 2.4h3l1.3 2.6l1.4 2.7h3.1l1.4 2.8l1.5 3h3.2l1.5 3.1l1.6 3.2l1.6 3.3h3.2l1.7 3.4h3.3l1.7 3.6l1.7 3.6h3.4l1.7 3.8l1.8 3.8h3.4l1.8 4h3.5l1.8 4h3.5l1.9 4.2h3.6l1.8 4.2l1.9 4.3h3.6l1.9 4.4h3.7l1.9 4.5h3.7l1.9 4.5h7.4l2 4.6h3.8l2 4.7h3.7l2 4.8h3.9l2 4.8h7.7l2 4.9h3.9l2 4.9h7.8l2.1 5.1h4l2 5h8l2.1 5.2h8l2.1 5.2h8.1l2.1 5.2h12.2l2.2 5.3h8.1l2.2 5.4h12.4l2.2 5.4h12.4l2.3 5.4h20.9z"/>
<path fill="#de9142" d="M1153.2 933.5h48l2-1h83.6l2.7-1.1l3.2-1.2l3.5-1.5l4-1.6l4.2-1.8l4.7-2l4.9-2.1l5.2-2.2l5.5-2.4l5.8-2.6l5.9-2.7l6.2-2.8l6.3-3l6.4-3.1l6.6-3.2l6.7-3.3l6.7-3.4l6.9-3.6l6.9-3.6l6.9-3.8l6.9-3.8l6.9-4l6.9-4l6.9-4.2l6.9-4.2l6.8-4.3l6.8-4.4l6.7-4.5l6.6-4.5l6.6-4.6l6.5-4.7l6.4-4.8l6.4-4.8l6.2-4.9l6.1-4.9h-56.7l5.6-5.1h-3.9l5.5-5h-8l5.3-5.2h-8l5.2-5.2h-8.1l5-5.2h-8.1l4.9-5.3h-4.1l4.7-5.4h-8.2l4.6-5.4h-8.3l4.4-5.4h-8.3l4.2-5.5h-8.4l4.2-5.6h-12.7l4-5.6h-8.5l3.8-5.6h-12.8l3.6-5.7h-12.9l3.5-5.7h-12.9l3.3-5.7h-17.4l3.2-5.8h-17.5l3-5.8h-30.7l2.7-5.9h-101.3l-2.3 5.9h-21.9l-2.2 5.8h-8.8l-2.2 5.8h-13l-2.3 5.7h-4.3l-2.3 5.7h-8.6l-2.3 5.7h-4.3l-2.3 5.6h-4.2l-2.4 5.6l-2.4 5.6h-4.2l-2.5 5.5h-4.1l-2.5 5.4l-2.5 5.4h-4.2l-2.5 5.4l-2.6 5.3h-4.1l-2.6 5.2l-2.7 5.2l-2.7 5.2h-4l-2.7 5l-2.8 5.1l-2.8 4.9l-2.9 4.9h-3.9l-2.9 4.8l-2.9 4.8l-2.9 4.7l-3 4.6l-3.1 4.5l-3 4.5l-3.1 4.4l-3.1 4.3l-3.2 4.2l-3.1 4.2l-3.2 4l-3.1 4l-3.2 3.8l-3.1 3.8l-3.2 3.6h3.3l-3.1 3.6l-3.1 3.4l-3.1 3.3l-3 3.2h3.1l-3 3.1l-2.9 3h3.1l-2.9 2.8h3.1l-2.8 2.7l-2.8 2.6h3.1l-2.7 2.4h6l-2.6 2.2h3l-2.4 2.1h5.9l-2.4 2h5.9l-2.3 1.8h8.7l-2.1 1.6h14.5l-2 1.5h17.2l-1.9 1.2h25.6l-1.7 1.1h68zM187.2 932.5h61l-2.5-1.1h28.5l-2.6-1.2h14.3l-2.9-1.5h11.5l-3.1-1.6h5.8l-3.3-1.8h5.8l-3.6-2h3l-3.8-2.1h3l-4-2.2l-4.2-2.4h3.1l-4.4-2.6l-4.5-2.7h-3l-4.7-2.8l-4.8-3h-3.2l-4.9-3.1l-5-3.2h-3.3l-5.1-3.3h-3.3l-5.2-3.4h-3.3l-5.3-3.6h-3.4l-5.4-3.6h-6.7l-5.5-3.8h-3.4l-5.5-3.8h-3.5l-5.6-4h-6.9l-5.6-4h-3.6l-5.6-4.2h-7.1l-5.7-4.2h-7.2l-5.7-4.3h-3.6l-5.8-4.4h-7.2l-5.8-4.5h-7.4l-5.7-4.5h-3.8l-5.7-4.6h-7.5l-5.7-4.7h-7.6l-5.7-4.8h-7.7l-5.7-4.8h-3.8l-5.7-4.9h-7.8l-5.6-4.9h-60.6l6.1 4.9l6.2 4.9l6.4 4.8l6.4 4.8l6.5 4.7l6.6 4.6l6.6 4.5l6.7 4.5l6.8 4.4l6.8 4.3l6.9 4.2l6.9 4.2l6.9 4l6.9 4l6.9 3.8l6.9 3.8l6.9 3.6l6.9 3.6l6.7 3.4l6.7 3.3l6.6 3.2l6.4 3.1l6.3 3l6.2 2.8l5.9 2.7l5.8 2.6l5.5 2.4l5.2 2.2l4.9 2.1l4.7 2l4.2 1.8l4 1.6l3.5 1.5l3.2 1.2zM1134.3 264.9h24.7l-2.8-5.4h28.6l-3.1-5.3h12.2l-3.3-5.2h12.1l-3.4-5.2h12l-3.6-5.2h8l-3.7-5h7.9l-3.9-5.1h7.9l-4-4.9h3.9l-4-4.9h7.6l-4.1-4.8h7.6l-4.3-4.8h3.8l-4.4-4.7h7.5l-4.4-4.6h3.7l-4.6-4.5h7.4l-4.7-4.5h7.3l-4.8-4.4h3.6l-4.9-4.3h7.1l-4.9-4.2h3.5l-5-4.2h7l-5.1-4h6.9l-5.2-4h6.9l-5.3-3.8h6.8l-5.3-3.8h6.7l-5.4-3.6h6.7l-5.4-3.6h6.6l-5.5-3.4h6.6l-5.5-3.3h6.5l-5.4-3.2h6.3l-5.3-3.1h3.1l-5.3-3h6.3l-5.2-2.8h6.2l-5.2-2.7h3.1l-4.9-2.6h3l-4.8-2.4l-4.5-2.2l-4.3-2.1h-5.9l-4-2h-8.8l-3.6-1.8h-14.5l-3.2-1.6h-26l-2.7-1.5h-143.2l1.8 1.5h-28.8l1.8 1.6h-20.3l1.8 1.8h-11.7l1.9 2h-11.8l1.9 2.1h-8.9l1.9 2.2h-6l2 2.4h-6.1l2 2.6h-3.1l2.1 2.7h-3.1l2.1 2.8h-3.2l2.1 3h-3.1l2.1 3.1l2.1 3.2h-3.2l2.2 3.3l2.2 3.4l2.2 3.6l2.2 3.6l2.2 3.8l2.2 3.8l2.3 4h3.4l2.3 4l2.2 4.2h3.6l2.3 4.2l2.2 4.3h3.6l2.3 4.4h3.7l2.3 4.5h3.7l2.3 4.5h3.7l2.3 4.6h3.7l2.4 4.7h3.8l2.3 4.8h3.8l2.3 4.8h7.7l2.4 4.9h3.9l2.3 4.9h7.9l2.3 5.1h7.9l2.4 5h8l2.4 5.2h12l2.5 5.2h8l2.5 5.2h16.3l2.5 5.3h28.6zM381.4 173.7h24.5l3.4-4l3.3-4h-3.4l3.4-3.8h-6.8l3.5-3.8h-16.8l-3.7 3.8h-3.4l-3.7 3.8h3.5l-3.7 4h3.5z"/>
<path fill="#eb9f38" d="M1110.3 928.7h135.5l3.6-1.6h50.8l4.2-1.8l4.7-2l4.9-2.1l5.2-2.2l5.5-2.4l5.8-2.6l5.9-2.7l6.2-2.8l6.3-3l6.4-3.1l6.6-3.2l6.7-3.3l6.7-3.4l6.9-3.6l6.9-3.6l6.9-3.8l6.9-3.8l6.9-4l6.9-4l6.9-4.2l6.9-4.2l6.8-4.3l6.8-4.4l6.7-4.5l6.6-4.5l6.6-4.6h-54.3l6-4.7h-7.6l5.9-4.8h-7.6l5.7-4.8h-3.9l5.7-4.9h-7.8l5.5-4.9h-7.9l5.3-5.1h-3.9l5.2-5h-7.9l5-5.2h-8l4.9-5.2h-4l4.7-5.2h-8.1l4.7-5.3h-8.2l4.5-5.4h-8.3l4.4-5.4h-12.5l4.2-5.4h-8.4l4.1-5.5h-8.4l3.8-5.6h-12.6l3.7-5.6h-17l3.5-5.6h-17.1l3.4-5.7h-21.5l3.1-5.7h-47.5l2.8-5.7h-17.4l-2.7 5.7h-38.8l-2.6 5.7h-17.2l-2.6 5.7h-8.5l-2.6 5.6h-8.5l-2.6 5.6h-4.2l-2.6 5.6h-8.4l-2.7 5.5h-4.1l-2.7 5.4h-4.1l-2.7 5.4l-2.8 5.4h-4.1l-2.7 5.3h-4.1l-2.8 5.2l-2.9 5.2h-4l-2.8 5.2l-3 5l-2.9 5.1h-4l-3 4.9l-3 4.9l-3.1 4.8l-3.1 4.8l-3.2 4.7l-3.2 4.6l-3.2 4.5l-3.3 4.5l-3.3 4.4l-3.3 4.3l-3.3 4.2l-3.4 4.2l-3.4 4l-3.3 4h3.4l-3.4 3.8l-3.4 3.8l-3.4 3.6h3.3l-3.4 3.6l-3.3 3.4h3.2l-3.3 3.3h3.2l-3.4 3.2l-3.2 3.1h3.1l-3.2 3h6.2l-3.2 2.8h3.1l-3.1 2.7h6.1l-3.1 2.6h6.1l-3.1 2.4h6l-2.9 2.2h8.9l-2.8 2.1h11.8l-2.8 2h17.6l-2.7 1.8h23.2zM173.8 927.1h53.7l-3.8-1.8h14.6l-4.1-2h11.8l-4.2-2.1h5.9l-4.4-2.2h6l-4.6-2.4h3l-4.8-2.6l-4.9-2.7h3.1l-5.1-2.8l-5.2-3l-5.4-3.1h-3.1l-5.5-3.2l-5.6-3.3h-3.2l-5.7-3.4h-3.3l-5.7-3.6l-5.8-3.6h-6.8l-5.9-3.8h-3.4l-5.9-3.8h-3.4l-6-4h-3.5l-6-4h-7l-6.1-4.2h-3.5l-6.1-4.2h-7.1l-6.1-4.3h-3.6l-6.1-4.4h-7.3l-6.1-4.5h-3.7l-6.1-4.5h-7.4l-6.1-4.6h-54.3l6.6 4.6l6.6 4.5l6.7 4.5l6.8 4.4l6.8 4.3l6.9 4.2l6.9 4.2l6.9 4l6.9 4l6.9 3.8l6.9 3.8l6.9 3.6l6.9 3.6l6.7 3.4l6.7 3.3l6.6 3.2l6.4 3.1l6.3 3l6.2 2.8l5.9 2.7l5.8 2.6l5.5 2.4l5.2 2.2l4.9 2.1l4.7 2zM1105.5 233.6h51.3l-3.3-5.1h15.6l-3.5-4.9h11.6l-3.6-4.9h7.7l-3.8-4.8h3.8l-3.8-4.8h7.5l-3.9-4.7h7.5l-4.1-4.6h3.7l-4.2-4.5h3.7l-4.2-4.5h3.6l-4.3-4.4h3.6l-4.4-4.3h3.6l-4.4-4.2h3.5l-4.5-4.2h3.5l-4.5-4h3.5l-4.6-4l-4.6-3.8h3.4l-4.6-3.8l-4.6-3.6l-4.6-3.6l-4.5-3.4l-4.5-3.3h-3.2l-4.3-3.2h-6.4l-4.2-3.1h-9.5l-4-3h-15.6l-3.8-2.8h-61.8l3.2 2.8h-21.9l3 3h-12.6l2.9 3.1h-6.4l2.9 3.2h-9.7l2.9 3.3h-3.3l2.9 3.4h-6.6l2.8 3.6l2.8 3.6h-3.4l2.8 3.8h-3.4l2.8 3.8l2.8 4l2.7 4l2.8 4.2l2.7 4.2h3.6l2.8 4.3l2.7 4.4h3.7l2.7 4.5h3.7l2.7 4.5h3.8l2.7 4.6h3.8l2.7 4.7h3.8l2.8 4.8h7.6l2.8 4.8h7.7l2.8 4.9h11.6l2.9 4.9h11.7z"/>
<path fill="#f3b62b" d="M1145.4 923.3h67.8l4.2-2.1h29.7l4.6-2.2h15l5-2.4h9.1l5.3-2.6h44.4l5.9-2.7l6.2-2.8l6.3-3l6.4-3.1l6.6-3.2l6.7-3.3l6.7-3.4l6.9-3.6l6.9-3.6l6.9-3.8l6.9-3.8l6.9-4l6.9-4h-54.3l6.4-4.2h-3.6l6.3-4.2h-3.6l6.2-4.3h-3.6l6.2-4.4h-7.3l6-4.5h-3.7l5.9-4.5h-3.7l5.8-4.6h-7.5l5.7-4.7h-3.8l5.6-4.8h-7.7l5.5-4.8h-7.7l5.3-4.9h-3.9l5.2-4.9h-7.9l5.1-5.1h-7.9l4.9-5h-4l4.8-5.2h-8l4.6-5.2h-8.1l4.5-5.2h-8.1l4.4-5.3h-12.3l4.2-5.4h-8.3l4.1-5.4h-12.5l3.9-5.4h-16.7l3.7-5.5h-21l3.5-5.6h-84.5l-3 5.6h-12.6l-2.9 5.5h-12.5l-2.9 5.4h-4.2l-3 5.4h-8.2l-3 5.4h-4.1l-3 5.3h-4l-3.1 5.2h-4l-3 5.2h-4.1l-3 5.2l-3.2 5h-3.9l-3.2 5.1l-3.2 4.9l-3.3 4.9h-3.8l-3.3 4.8l-3.3 4.8l-3.4 4.7l-3.4 4.6l-3.4 4.5l-3.5 4.5l-3.5 4.4l-3.5 4.3l-3.6 4.2h3.5l-3.6 4.2l-3.6 4l-3.6 4h3.4l-3.6 3.8l-3.7 3.8h3.4l-3.7 3.6h3.3l-3.6 3.6h3.2l-3.6 3.4h3.2l-3.6 3.3h3.2l-3.7 3.2h6.4l-3.6 3.1h3.1l-3.6 3h6.3l-3.6 2.8h9.3l-3.6 2.7h9.2l-3.5 2.6h12.1l-3.4 2.4h18l-3.5 2.2h29.7zM143.5 914h47.4l-5.4-2.7h6.1l-5.5-2.8h3.1l-5.7-3l-5.9-3.1h3.2l-5.9-3.2l-6-3.3h-3.3l-6.1-3.4l-6.2-3.6h-3.3l-6.2-3.6l-6.3-3.8h-3.4l-6.4-3.8h-3.4l-6.4-4h-3.4l-6.4-4h-50.8l6.9 4l6.9 4l6.9 3.8l6.9 3.8l6.9 3.6l6.9 3.6l6.7 3.4l6.7 3.3l6.6 3.2l6.4 3.1l6.3 3l6.2 2.8z"/>
<path fill="#f9d806" d="M1172.9 914h27.6l4.6-2.7h27.8l5.1-2.8h12.5l5.3-3h9.5l5.6-3.1h3.1l5.8-3.2h3.2l5.8-3.3h3.3l5.9-3.4l6-3.6l6.1-3.6l6-3.8h-3.4l6.1-3.8l6-4h-3.4l6-4h-3.5l5.9-4.2h-3.5l5.9-4.2h-3.6l5.8-4.3h-3.6l5.8-4.4h-3.7l5.7-4.5h-3.7l5.6-4.5h-7.5l5.5-4.6h-3.8l5.4-4.7h-3.8l5.2-4.8h-7.6l5.1-4.8h-7.7l5-4.9h-3.9l4.9-4.9h-7.9l4.8-5.1h-7.9l4.6-5h-8l4.5-5.2h-12l4.2-5.2h-12.1l4.1-5.2h-12.1l3.9-5.3h-24.5l3.7-5.4h-41.2l-3.4 5.4h-20.5l-3.3 5.3h-8.1l-3.4 5.2h-8.1l-3.3 5.2h-4l-3.4 5.2h-8l-3.3 5l-3.5 5.1h-3.9l-3.5 4.9h-3.8l-3.5 4.9l-3.6 4.8l-3.6 4.8h-3.7l-3.6 4.7l-3.7 4.6l-3.7 4.5l-3.7 4.5l-3.7 4.4h3.6l-3.8 4.3l-3.9 4.2l-3.8 4.2h3.5l-3.9 4h3.4l-3.9 4l-4 3.8h3.4l-3.9 3.8h3.3l-4 3.6h6.7l-4 3.6h3.2l-4 3.4h6.5l-4 3.3h6.4l-4 3.2h9.5l-4 3.1h12.6l-4.1 3h15.6l-4.2 2.8h34z"/>
</g>
<path d="M289.4 935.4L287.7 934.5L282.5 932L274.2 927.9L263.2 922.3L249.9 915.3L235 907L218.9 897.6L202.1 887.1L185 875.7L167.9 863.4L151.1 850.4L134.7 836.6L119 822.3L103.9 807.3L89.5 791.8L76 775.8L63.3 759.4L51.4 742.6L40.5 725.4L30.4 707.9L21.2 690.1L12.9 672L5.6 653.7L-0.7 635.2L-6.1 616.5L-10.6 597.7L-14 578.8L-16.5 559.8L-18 540.8L-18.5 521.7L-18 502.6L-16.5 483.6L-14 464.6L-10.6 445.7L-6.1 426.9L-0.7 408.2L5.6 389.7L12.9 371.4L21.2 353.3L30.4 335.5L40.5 318L51.4 300.8L63.3 284L76 267.6L89.5 251.6L103.9 236.1L119 221.1L134.7 206.8L151.1 193L167.9 180L185 167.7L202.1 156.3L218.9 145.8L235 136.4L249.9 128.1L263.2 121.1L274.2 115.5L282.5 111.4L287.7 108.9L289.4 108M345.4 935.4L343.8 934.5L339.3 932L332.1 927.9L322.4 922.3L310.8 915.3L297.7 907L283.6 897.6L268.9 887.1L254 875.7L239 863.4L224.3 850.4L210 836.6L196.2 822.3L183 807.3L170.5 791.8L158.6 775.8L147.5 759.4L137.1 742.6L127.5 725.4L118.7 707.9L110.7 690.1L103.5 672L97.1 653.7L91.5 635.2L86.8 616.5L82.9 597.7L79.9 578.8L77.7 559.8L76.4 540.8L76 521.7L76.4 502.6L77.7 483.6L79.9 464.6L82.9 445.7L86.8 426.9L91.5 408.2L97.1 389.7L103.5 371.4L110.7 353.3L118.7 335.5L127.5 318L137.1 300.8L147.5 284L158.6 267.6L170.5 251.6L183 236.1L196.2 221.1L210 206.8L224.3 193L239 180L254 167.7L268.9 156.3L283.6 145.8L297.7 136.4L310.8 128.1L322.4 121.1L332.1 115.5L339.3 111.4L343.8 108.9L345.4 108M401.3 935.4L400 934.5L396.1 932L389.9 927.9L381.6 922.3L371.7 915.3L360.5 907L348.4 897.6L335.8 887.1L323 875.7L310.2 863.4L297.6 850.4L285.3 836.6L273.5 822.3L262.2 807.3L251.4 791.8L241.3 775.8L231.7 759.4L222.8 742.6L214.6 725.4L207 707.9L200.1 690.1L194 672L188.5 653.7L183.7 635.2L179.7 616.5L176.3 597.7L173.7 578.8L171.9 559.8L170.8 540.8L170.4 521.7L170.8 502.6L171.9 483.6L173.7 464.6L176.3 445.7L179.7 426.9L183.7 408.2L188.5 389.7L194 371.4L200.1 353.3L207 335.5L214.6 318L222.8 300.8L231.7 284L241.3 267.6L251.4 251.6L262.2 236.1L273.5 221.1L285.3 206.8L297.6 193L310.2 180L323 167.7L335.8 156.3L348.4 145.8L360.5 136.4L371.7 128.1L381.6 121.1L389.9 115.5L396.1 111.4L400 108.9L401.3 108M457.3 935.4L456.2 934.5L452.9 932L447.8 927.9L440.9 922.3L432.6 915.3L423.2 907L413.2 897.6L402.7 887.1L392 875.7L381.3 863.4L370.8 850.4L360.6 836.6L350.7 822.3L341.3 807.3L332.3 791.8L323.9 775.8L315.9 759.4L308.5 742.6L301.7 725.4L295.4 707.9L289.6 690.1L284.5 672L279.9 653.7L275.9 635.2L272.5 616.5L269.8 597.7L267.6 578.8L266.1 559.8L265.2 540.8L264.8 521.7L265.2 502.6L266.1 483.6L267.6 464.6L269.8 445.7L272.5 426.9L275.9 408.2L279.9 389.7L284.5 371.4L289.6 353.3L295.4 335.5L301.7 318L308.5 300.8L315.9 284L323.9 267.6L332.3 251.6L341.3 236.1L350.7 221.1L360.6 206.8L370.8 193L381.3 180L392 167.7L402.7 156.3L413.2 145.8L423.2 136.4L432.6 128.1L440.9 121.1L447.8 115.5L452.9 111.4L456.2 108.9L457.3 108M513.2 935.4L512.3 934.5L509.8 932L505.6 927.9L500.1 922.3L493.5 915.3L486 907L477.9 897.6L469.5 887.1L461 875.7L452.4 863.4L444 850.4L435.9 836.6L428 822.3L420.4 807.3L413.3 791.8L406.5 775.8L400.1 759.4L394.2 742.6L388.7 725.4L383.7 707.9L379.1 690.1L375 672L371.3 653.7L368.1 635.2L365.4 616.5L363.2 597.7L361.5 578.8L360.3 559.8L359.5 540.8L359.3 521.7L359.5 502.6L360.3 483.6L361.5 464.6L363.2 445.7L365.4 426.9L368.1 408.2L371.3 389.7L375 371.4L379.1 353.3L383.7 335.5L388.7 318L394.2 300.8L400.1 284L406.5 267.6L413.3 251.6L420.4 236.1L428 221.1L435.9 206.8L444 193L452.4 180L461 167.7L469.5 156.3L477.9 145.8L486 136.4L493.5 128.1L500.1 121.1L505.6 115.5L509.8 111.4L512.3 108.9L513.2 108M569.2 935.4L568.5 934.5L566.6 932L563.5 927.9L559.3 922.3L554.3 915.3L548.7 907L542.7 897.6L536.4 887.1L530 875.7L523.6 863.4L517.3 850.4L511.1 836.6L505.2 822.3L499.6 807.3L494.2 791.8L489.1 775.8L484.4 759.4L479.9 742.6L475.8 725.4L472 707.9L468.6 690.1L465.5 672L462.7 653.7L460.4 635.2L458.3 616.5L456.7 597.7L455.4 578.8L454.4 559.8L453.9 540.8L453.7 521.7L453.9 502.6L454.4 483.6L455.4 464.6L456.7 445.7L458.3 426.9L460.4 408.2L462.7 389.7L465.5 371.4L468.6 353.3L472 335.5L475.8 318L479.9 300.8L484.4 284L489.1 267.6L494.2 251.6L499.6 236.1L505.2 221.1L511.1 206.8L517.3 193L523.6 180L530 167.7L536.4 156.3L542.7 145.8L548.7 136.4L554.3 128.1L559.3 121.1L563.5 115.5L566.6 111.4L568.5 108.9L569.2 108M625.1 935.4L624.7 934.5L623.4 932L621.3 927.9L618.5 922.3L615.2 915.3L611.5 907L607.5 897.6L603.3 887.1L599 875.7L594.7 863.4L590.5 850.4L586.4 836.6L582.5 822.3L578.7 807.3L575.1 791.8L571.8 775.8L568.6 759.4L565.6 742.6L562.9 725.4L560.3 707.9L558 690.1L556 672L554.2 653.7L552.6 635.2L551.2 616.5L550.1 597.7L549.2 578.8L548.6 559.8L548.3 540.8L548.1 521.7L548.3 502.6L548.6 483.6L549.2 464.6L550.1 445.7L551.2 426.9L552.6 408.2L554.2 389.7L556 371.4L558 353.3L560.3 335.5L562.9 318L565.6 300.8L568.6 284L571.8 267.6L575.1 251.6L578.7 236.1L582.5 221.1L586.4 206.8L590.5 193L594.7 180L599 167.7L603.3 156.3L607.5 145.8L611.5 136.4L615.2 128.1L618.5 121.1L621.3 115.5L623.4 111.4L624.7 108.9L625.1 108M681.1 935.4L680.8 934.5L680.2 932L679.2 927.9L677.8 922.3L676.1 915.3L674.2 907L672.2 897.6L670.1 887.1L668 875.7L665.9 863.4L663.8 850.4L661.7 836.6L659.7 822.3L657.9 807.3L656.1 791.8L654.4 775.8L652.8 759.4L651.3 742.6L649.9 725.4L648.7 707.9L647.5 690.1L646.5 672L645.6 653.7L644.8 635.2L644.1 616.5L643.6 597.7L643.1 578.8L642.8 559.8L642.6 540.8L642.6 521.7L642.6 502.6L642.8 483.6L643.1 464.6L643.6 445.7L644.1 426.9L644.8 408.2L645.6 389.7L646.5 371.4L647.5 353.3L648.7 335.5L649.9 318L651.3 300.8L652.8 284L654.4 267.6L656.1 251.6L657.9 236.1L659.7 221.1L661.7 206.8L663.8 193L665.9 180L668 167.7L670.1 156.3L672.2 145.8L674.2 136.4L676.1 128.1L677.8 121.1L679.2 115.5L680.2 111.4L680.8 108.9L681.1 108M737 935.4L737 934.5L737 932L737 927.9L737 922.3L737 915.3L737 907L737 897.6L737 887.1L737 875.7L737 863.4L737 850.4L737 836.6L737 822.3L737 807.3L737 791.8L737 775.8L737 759.4L737 742.6L737 725.4L737 707.9L737 690.1L737 672L737 653.7L737 635.2L737 616.5L737 597.7L737 578.8L737 559.8L737 540.8L737 521.7L737 502.6L737 483.6L737 464.6L737 445.7L737 426.9L737 408.2L737 389.7L737 371.4L737 353.3L737 335.5L737 318L737 300.8L737 284L737 267.6L737 251.6L737 236.1L737 221.1L737 206.8L737 193L737 180L737 167.7L737 156.3L737 145.8L737 136.4L737 128.1L737 121.1L737 115.5L737 111.4L737 108.9L737 108M792.9 935.4L793.2 934.5L793.8 932L794.8 927.9L796.2 922.3L797.9 915.3L799.8 907L801.8 897.6L803.9 887.1L806 875.7L808.1 863.4L810.2 850.4L812.3 836.6L814.3 822.3L816.1 807.3L817.9 791.8L819.6 775.8L821.2 759.4L822.7 742.6L824.1 725.4L825.3 707.9L826.5 690.1L827.5 672L828.4 653.7L829.2 635.2L829.9 616.5L830.4 597.7L830.9 578.8L831.2 559.8L831.4 540.8L831.4 521.7L831.4 502.6L831.2 483.6L830.9 464.6L830.4 445.7L829.9 426.9L829.2 408.2L828.4 389.7L827.5 371.4L826.5 353.3L825.3 335.5L824.1 318L822.7 300.8L821.2 284L819.6 267.6L817.9 251.6L816.1 236.1L814.3 221.1L812.3 206.8L810.2 193L808.1 180L806 167.7L803.9 156.3L801.8 145.8L799.8 136.4L797.9 128.1L796.2 121.1L794.8 115.5L793.8 111.4L793.2 108.9L792.9 108M848.9 935.4L849.3 934.5L850.6 932L852.7 927.9L855.5 922.3L858.8 915.3L862.5 907L866.5 897.6L870.7 887.1L875 875.7L879.3 863.4L883.5 850.4L887.6 836.6L891.5 822.3L895.3 807.3L898.9 791.8L902.2 775.8L905.4 759.4L908.4 742.6L911.1 725.4L913.7 707.9L916 690.1L918 672L919.8 653.7L921.4 635.2L922.8 616.5L923.9 597.7L924.8 578.8L925.4 559.8L925.7 540.8L925.9 521.7L925.7 502.6L925.4 483.6L924.8 464.6L923.9 445.7L922.8 426.9L921.4 408.2L919.8 389.7L918 371.4L916 353.3L913.7 335.5L911.1 318L908.4 300.8L905.4 284L902.2 267.6L898.9 251.6L895.3 236.1L891.5 221.1L887.6 206.8L883.5 193L879.3 180L875 167.7L870.7 156.3L866.5 145.8L862.5 136.4L858.8 128.1L855.5 121.1L852.7 115.5L850.6 111.4L849.3 108.9L848.9 108M904.8 935.4L905.5 934.5L907.4 932L910.5 927.9L914.7 922.3L919.7 915.3L925.3 907L931.3 897.6L937.6 887.1L944 875.7L950.4 863.4L956.7 850.4L962.9 836.6L968.8 822.3L974.4 807.3L979.8 791.8L984.9 775.8L989.6 759.4L994.1 742.6L998.2 725.4L1002 707.9L1005.4 690.1L1008.5 672L1011.3 653.7L1013.6 635.2L1015.7 616.5L1017.3 597.7L1018.6 578.8L1019.6 559.8L1020.1 540.8L1020.3 521.7L1020.1 502.6L1019.6 483.6L1018.6 464.6L1017.3 445.7L1015.7 426.9L1013.6 408.2L1011.3 389.7L1008.5 371.4L1005.4 353.3L1002 335.5L998.2 318L994.1 300.8L989.6 284L984.9 267.6L979.8 251.6L974.4 236.1L968.8 221.1L962.9 206.8L956.7 193L950.4 180L944 167.7L937.6 156.3L931.3 145.8L925.3 136.4L919.7 128.1L914.7 121.1L910.5 115.5L907.4 111.4L905.5 108.9L904.8 108M960.8 935.4L961.7 934.5L964.2 932L968.4 927.9L973.9 922.3L980.5 915.3L988 907L996.1 897.6L1004.5 887.1L1013 875.7L1021.6 863.4L1030 850.4L1038.1 836.6L1046 822.3L1053.6 807.3L1060.7 791.8L1067.5 775.8L1073.9 759.4L1079.8 742.6L1085.3 725.4L1090.3 707.9L1094.9 690.1L1099 672L1102.7 653.7L1105.9 635.2L1108.6 616.5L1110.8 597.7L1112.5 578.8L1113.7 559.8L1114.5 540.8L1114.7 521.7L1114.5 502.6L1113.7 483.6L1112.5 464.6L1110.8 445.7L1108.6 426.9L1105.9 408.2L1102.7 389.7L1099 371.4L1094.9 353.3L1090.3 335.5L1085.3 318L1079.8 300.8L1073.9 284L1067.5 267.6L1060.7 251.6L1053.6 236.1L1046 221.1L1038.1 206.8L1030 193L1021.6 180L1013 167.7L1004.5 156.3L996.1 145.8L988 136.4L980.5 128.1L973.9 121.1L968.4 115.5L964.2 111.4L961.7 108.9L960.8 108M1016.7 935.4L1017.8 934.5L1021.1 932L1026.2 927.9L1033.1 922.3L1041.4 915.3L1050.8 907L1060.8 897.6L1071.3 887.1L1082 875.7L1092.7 863.4L1103.2 850.4L1113.4 836.6L1123.3 822.3L1132.7 807.3L1141.7 791.8L1150.1 775.8L1158.1 759.4L1165.5 742.6L1172.3 725.4L1178.6 707.9L1184.4 690.1L1189.5 672L1194.1 653.7L1198.1 635.2L1201.5 616.5L1204.2 597.7L1206.4 578.8L1207.9 559.8L1208.8 540.8L1209.2 521.7L1208.8 502.6L1207.9 483.6L1206.4 464.6L1204.2 445.7L1201.5 426.9L1198.1 408.2L1194.1 389.7L1189.5 371.4L1184.4 353.3L1178.6 335.5L1172.3 318L1165.5 300.8L1158.1 284L1150.1 267.6L1141.7 251.6L1132.7 236.1L1123.3 221.1L1113.4 206.8L1103.2 193L1092.7 180L1082 167.7L1071.3 156.3L1060.8 145.8L1050.8 136.4L1041.4 128.1L1033.1 121.1L1026.2 115.5L1021.1 111.4L1017.8 108.9L1016.7 108M1072.7 935.4L1074 934.5L1077.9 932L1084.1 927.9L1092.4 922.3L1102.3 915.3L1113.5 907L1125.6 897.6L1138.2 887.1L1151 875.7L1163.8 863.4L1176.4 850.4L1188.7 836.6L1200.5 822.3L1211.8 807.3L1222.6 791.8L1232.7 775.8L1242.3 759.4L1251.2 742.6L1259.4 725.4L1267 707.9L1273.9 690.1L1280 672L1285.5 653.7L1290.3 635.2L1294.3 616.5L1297.7 597.7L1300.3 578.8L1302.1 559.8L1303.2 540.8L1303.6 521.7L1303.2 502.6L1302.1 483.6L1300.3 464.6L1297.7 445.7L1294.3 426.9L1290.3 408.2L1285.5 389.7L1280 371.4L1273.9 353.3L1267 335.5L1259.4 318L1251.2 300.8L1242.3 284L1232.7 267.6L1222.6 251.6L1211.8 236.1L1200.5 221.1L1188.7 206.8L1176.4 193L1163.8 180L1151 167.7L1138.2 156.3L1125.6 145.8L1113.5 136.4L1102.3 128.1L1092.4 121.1L1084.1 115.5L1077.9 111.4L1074 108.9L1072.7 108M1128.6 935.4L1130.2 934.5L1134.7 932L1141.9 927.9L1151.6 922.3L1163.2 915.3L1176.3 907L1190.4 897.6L1205.1 887.1L1220 875.7L1235 863.4L1249.7 850.4L1264 836.6L1277.8 822.3L1291 807.3L1303.5 791.8L1315.4 775.8L1326.5 759.4L1336.9 742.6L1346.5 725.4L1355.3 707.9L1363.3 690.1L1370.5 672L1376.9 653.7L1382.5 635.2L1387.2 616.5L1391.1 597.7L1394.1 578.8L1396.3 559.8L1397.6 540.8L1398 521.7L1397.6 502.6L1396.3 483.6L1394.1 464.6L1391.1 445.7L1387.2 426.9L1382.5 408.2L1376.9 389.7L1370.5 371.4L1363.3 353.3L1355.3 335.5L1346.5 318L1336.9 300.8L1326.5 284L1315.4 267.6L1303.5 251.6L1291 236.1L1277.8 221.1L1264 206.8L1249.7 193L1235 180L1220 167.7L1205.1 156.3L1190.4 145.8L1176.3 136.4L1163.2 128.1L1151.6 121.1L1141.9 115.5L1134.7 111.4L1130.2 108.9L1128.6 108M1184.6 935.4L1186.3 934.5L1191.5 932L1199.8 927.9L1210.8 922.3L1224.1 915.3L1239 907L1255.1 897.6L1271.9 887.1L1289 875.7L1306.1 863.4L1322.9 850.4L1339.3 836.6L1355 822.3L1370.1 807.3L1384.5 791.8L1398 775.8L1410.7 759.4L1422.6 742.6L1433.5 725.4L1443.6 707.9L1452.8 690.1L1461.1 672L1468.4 653.7L1474.7 635.2L1480.1 616.5L1484.6 597.7L1488 578.8L1490.5 559.8L1492 540.8L1492.5 521.7L1492 502.6L1490.5 483.6L1488 464.6L1484.6 445.7L1480.1 426.9L1474.7 408.2L1468.4 389.7L1461.1 371.4L1452.8 353.3L1443.6 335.5L1433.5 318L1422.6 300.8L1410.7 284L1398 267.6L1384.5 251.6L1370.1 236.1L1355 221.1L1339.3 206.8L1322.9 193L1306.1 180L1289 167.7L1271.9 156.3L1255.1 145.8L1239 136.4L1224.1 128.1L1210.8 121.1L1199.8 115.5L1191.5 111.4L1186.3 108.9L1184.6 108M212.5 926.2L1261.5 926.2M96.7 863.4L1377.3 863.4M-16.3 764.9L1490.3 764.9M-88.3 647.6L1562.3 647.6M-112.9 521.7L1586.9 521.7M-88.3 395.8L1562.3 395.8M-16.3 278.5L1490.3 278.5M96.7 180L1377.3 180M212.5 117.2L1261.5 117.2" fill="none" stroke="#fff" stroke-opacity="0.13" stroke-width="1.2"/>
<path d="M242.4 138.5l3.9 0.5l3.9 0.5l3.9 0.5l4.3 0.8l4.3 0.8l4.8 0.5l4.9 0.5l3.6 0.4l3.7 0.4l3.6 0.4l3.4 1l3.4 1l4.5-0.3l4.5-0.3l4.8-0.5l4.7-0.5l6.2-1l6.1-1l4.1-0.6l4-0.6l1.3 1.4l1.3 1.4l6.1-0.9l3.5 0.9l3.7-0.3l3.6-0.3l3.2 1.3l3.2 1.3l4.6 0.2l4.7 0.1l0.5 2.4l-4.9 1.4l4.7 0.2l4.8 0.1l3.6-0.3l3.7-0.4l3.4 1.4l-0.6 2.1l5-3.1l8.2-3.1l2.2 1l2.2 1.1l2.7 0.5l2.7 0.5l3.3 0l3.3 0l3.6-0.4l3.6-0.3l5-1.7l-0.8 4.1l4.7-2.4l6.2-2l-1.9-3l0.7-3.2l8.5-4.3l2.2 0.9l2.3 0.9l-0.3 3.4l-2.1 2.3l2.9 1.9l-0.2 2.1l2.4 2.7l2.7 0.7l2-4.1l7.3-2.7l4.7-1.6l4.8 0l4.8 0l0.8 3.6l-4.9 3.1l0.3 2.4l-7.9 2.9l-3.3 0l-3.4 0l-6.3 0.4l0.9 2.2l-7.2 3.3l-6 2.3l-6.1 1.2l-4 0.8l-7.1 3.5l-6.5 3.2l-6.1 3.7l-5.2 4.2l-2.6 4.2l3.7 1.3l-2.3 6.6l3.5 0.2l3.5 0.3l2.9 1.1l2.9 1.1l2.5 1.8l2.5 1.8l4.1 2.3l4.7 0.2l4.7 0.3l-4 7.9l-0.6 5.7l1.1 4.4l5 0l4.2-4.4l2.7-6.2l0.4-4.6l7.5-2.8l8.6-6.4l2.1-5.3l-2.7-4.4l5.8-5.1l2-4.2l2.9-5.3l6.2-0.4l3.2 0.4l3.2 0.4l2.9 1l2.8 1l2 2.5l5.4 0.8l-1.6 4.6l-3.5 4.3l3.9 2.6l7.7-2.2l5.5-3.4l5.2-3.8l0.1 3.8l1.7 5.2l1.2 4.8l-1 4.5l3.7 4.1l4.6 2.3l2.9 3.8l3.8 2.8l-1.1 5.7l-5.5 3.4l-7.9 1.5l-6.7 4.4l-3.9 0l-3.9 0l-4.4 0l-4.5 0l-4.4 0.2l-4.4 0.3l-5.8 4.4l-7.6 4.1l-5.8 4.5l-5.9 3.6l4.8-1l8.5-6.1l4.8-2l4.7-2.1l3.9 0.5l4 0.5l-2.4 4.1l-6.6 0.5l4.4 2l-2.8 6.2l3.3 2.1l3.6 1l5.1 0.5l6.8-6.7l0.7 4.6l-6.2 4.2l-4.7 1.8l-4.7 1.9l-6.4 3.2l-5.8 2.6l-0.7-3.7l6.4-4.2l3.1-2.1l-4.8 1l-6.4 1.1l-5.2 3.1l-5.9 2.7l-5.3 2.1l-3.2 4.3l-1.6 2.1l0.7 2.7l1.9 0.3l0.2-1.6l-0.1 2.2l-4.7 0.8l-6.7 1.3l-5.6 1.7l7 0.2l-8.6 2l-1.9 4.1l-5 4.7l-1.6-2.5l-0.5 5l-3.8 5l-2.8 3.4l0.7-8.4l2.4-4.5l-4 7.8l-0.6 5.6l1.2 1.7l-0.7 7.7l-5.3 3.1l-6.9 4l-6.2 3.5l-5.6 4l-5.9 5.3l-4 7.6l-0.7 5.9l1.1 6.5l-0.1 9.5l-3.1 8.4l-3.4 1.2l-2.5-4.8l-1.4-9l0.8-6.5l-1.9-5.9l-1.9-2.7l-5.9 2.1l-3.6-4.1l-6.6 0l-4.6 0.6l-3.7 6.4l-4.9 0l-4.6-2.3l-5.5-0.9l-7.7 2.1l-4.5 2.9l-6.4 3.6l-5 5.9l-1.8 7.8l-4.7 9.1l-1.8 6l-1.8 6.1l0.1 9.2l2 8l1.4 4.3l4.1 2.5l2.7 2.5l6.3-1.6l4.9-1.5l5-1.9l2.9-5.5l2.3-6.8l4.5-2.1l7.2-1.6l4.4 0.6l0.1 4.3l-4.4 6.2l-2.4 8l-3.1 4.3l-1.8 8.1l-2.9 3.7l3.5 1.3l4.8-0.9l4.7-0.4l4.7-0.3l4.3 2.2l3.2 3.8l-1.8 6.2l-1.6 9.4l-1.9 9.5l2.7 6.3l3.3 5l3.1 2.2l3.9-1.6l4.3-1.9l3.9-0.9l4.5 1.6l3 4.1l2.1 4.1l2.7-5.7l3.6-3.8l1-6.3l3.6-3.8l2.9-1.2l5.7-1.3l5.1-4.4l3.4-1.3l-0.3 3.8l-3.2 3.8l1 4.4l1.9 6.3l0.7-8.8l4.5-3.8l1.8-4.4l0.6 4.4l5.9 1.9l1.5 4.4l7.1-0.6l5.8 3.1l5.8-2.5l4.8-1.3l4.7 0l-2.6 3.8l6.8 3.2l1.6 5l4.9 3.8l5.7 8.9l5.5 5.1l8.4 0.6l5.7 0.6l7.3 5.8l4.2 3.8l2.2 8.2l4.6 7.7l-1.5 8.2l-3.3 3.2l4.7 1.9l7.1-0.6l1 5.1l-1.4 3.1l5.1-5l7.1 1.9l7.2 6.3l0.9 4.5l6.2-1.9l7.1 3.1l7-0.6l7.2 5.7l5.8 6.4l6.1 2.5l3.9 2.6l1.6 9.5l0.7 6.3l-2.1 7.6l-3.1 6.3l-4.5 5l-2 6.3l-4.4 6.3l-1.9 6.3l0.6 9.4l0.6 9.3l-0.9 6.2l-1.5 9.3l-1.8 6.1l-2.6 6.2l0.3 3.6l-4 5.2l-5.4 0.3l-5.7 1.2l-4.1 3.7l-4 1.2l-4.3 4.8l-3.9 4.9l0.3 5.4l1 6.6l-0.1 5.3l-3.2 4.8l-1.4 7l-2.9 5.9l-3.2 4.1l-3.9 8.6l-1.7 4.6l-3.8 2.3l-5.2 0l-6.1-2.3l-4.5-2.8l0.8 3.4l5.5 3.4l1.8 5.7l3.1 4l-1.9 6.1l-5.3 3.9l-4 0.9l-3.9 0.8l-5.4-1.1l2.7 9.4l-2.3 3.3l-4.2-0.3l-4.3-0.3l1.8 5.4l3.4 1.7l3.4 1.6l-4.7 3.2l1.2 6.9l-0.7 2.6l-5.5 4.7l1.2 3.1l7.4 3.6l2.2 3.6l-4.4 5.6l0.9 4.9l-2.7 4.5l0.8 3.4l4.7 3.4l-3.8 0.9l-3.3 1l-0.4 2.4l1.3 3.3l-7.1-2.9l-5-2.3l-5.4-2.4l-4.7-6.3l-3.4-5l-3.3-4.9l-2.4-5.1l-2.3-5.1l1.8-5.2l1.9-5.2l-1.1-7.9l-2.7-8.1l-5.7-5.4l-1.6-8.2l-2.1-5.6l-2.1-5.6l1.1-4.5l0.1-6.8l0-5.7l0.2-5.7l-1.5-8.7l-1.5-5.8l-1.5-5.9l-1.2-8.9l0.3-8.9l-0.6-9l-0.9-6.1l-0.9-6l-0.8-9.2l-1.3-11l-2.6-11.1l-5.3-5l-6.2-4.9l-7.6-5l-7.8-6.3l-4.4-6.2l-0.4-3.1l-4.7-9.5l-3.4-6.3l-3.4-6.3l-3-7.5l-3.8-8.3l-2.7-4.4l-4.9-5.1l-1.2-5l-0.7-4.5l3.6-6.3l2.3-1.3l0.3-5.1l-2.3 1.9l-2.9-3.8l0.8-7.6l3.3-6.4l0.5-5.1l4.7-2.5l1-3.8l3.9-5.1l4-7.7l-1-10.8l0.8-6.3l-2.1-4.4l-1.1-5.1l-0.7-3.2l-2.6-3.1l-2.4 0.3l-2.6 4.1l-1.9 0l1.5 5.1l-4.3 1.9l-1.3-2.6l-2.6-3.1l-4.6-1.3l-4.1-1.3l0.2-3.1l-4.3-3.8l-1.9 0l-2.9-4.4l0.9-4.4l-3-6.3l-3.6-5.7l-4.9-1.9l-5.8-1.9l-5.2-2.5l-5.1-3.7l-5-6.9l-4-3.7l-7.5 3.1l-8.1-1.3l-4.2-2.8l-4.1-2.8l-6.9-4.9l-4.2-2.2l-4.1-2.2l-2.7-4.9l-3.6-8l2.5-6.8l-2.3-10.3l-4-11l-5.2-3.6l1.6-6.6l-3.2-3.6l-1-3.5l-3-6.6l0.3-10l-0.8-3.5l-4.3-2.3l-1.7 4l-0.4 8.9l2 8.9l1.1 7.1l1.6 4.8l0.4 7.3l0.7 3.6l2.4 4.2l-0.7 2.5l-2.6 1.2l-1.2-3.7l-5-6l1-6.1l-1.7-6l-4.3-4.2l-1.9-3.5l4.4-2.4l0.5-4.8l-3.1-5.9l0.1-8.8l-0.2-5.8l0.4-4.6l-2.6-2.9l-1.8-1.7l-5.4-2.3l1.1-4l-1-7.4l0.6-6.8l-0.6-2.8l0.7-7.2l0.8-4.9l4.5-6l3.9-8.1l6.9-8l6.2-8.9l2.8-6.7l2.7-4.5l5.9 1l-1.3 4.6l4.8-6.1l0-3.6l-1.2-3l-1.9-2.4l-3-3.5l-1.8-2.4l2.2-4.8l0.5-4.8l-0.7-4.2l2.9-4.2l-1.9-1.8l0.6-3.6l0.2-4.5l0.6-4l1-3.9l-8 4.4l-3.5-1.8l-2.4-3.8l-4.4-1.7l-4.2-0.2l-4.2-0.2l-2-1.3l-2-1.3l-3-0.4l-3-0.4l-6.5 3.8l-4.6 0.8l-5.2 1.3l-5.2 1.3l2-2.2l6.2-3.7l7.8-2.5l-6.3 0.8l-8.9 4.2l-7.4 2.9l-6.8 3.5l-12 4.4l-6.3 2.2l-6.4 2.3l-5.9 1.8l-5.9 1.8l-5.3 1.4l-5.4 1.3l-6.5 1.4l6.8-3.2l8.4-2.3l11-4.5l9.9-2.7l7.5-4.8l-3.8-0.4l-3.9 0.2l-3.9 0.2l-5.9 0.5l5.8-3.9l-2.5-1.3l-2.5-2.1l3.5-5l-0.5-0.8l8.7-3.6l4-2l8.2-1.6l3.4 0l3.5 0l5.2-3.4l-4.6-0.4l-3.5 0.1l-3.6 0.1l-2.7-0.2l-0.8-1.9l-1.8-2.2l8.9-2.2l5.1-0.6l5-0.5l1.9 0.9l1.9 0.9l4.5-1.8l-0.5-1.8l-0.9-2.5l-2.4-1l-2.3-1l8.3-2.1l7.1-1.3l10.4-3.2l4.3-0.6l4.2-0.7l3.7-0.3l3.7-0.3l6.9-1.2M521.2 120.7l5.4-0.6l5.4-0.5l5.3-0.5l5.2-1l5.1-0.9l3.8-1l3.6-1l4.8-0.7l4.8-0.5l4.9-0.2l4.9-0.1l4.9-0.2l4.8-0.1l4.9-0.1l4.8-0.1l4.8-0.1l4.9-0.1l4.8-0.2l4.9-0.2l4.9-0.3l4.9-0.2l5-0.1l5.1 0l5-0.1l5-0.1l4.2 0.1l4.3 0.1l4.2 0l4.3 0.1l4.6 0.2l4.7 0.3l4.7 0.2l2.7 0.6l2.7 0.6l4.3 0.3l4.2 0.4l4.8 0l4.8 0l4.8 0l-4.4 0.8l-4.5 0.8l-4.5 0.5l-4.4 0.4l1 1.9l-4.9 2l-2 2.2l2.5 2.3l-5.1 2.5l2.8 1.3l-3.2 0.7l-3.3 0.6l-3.7 2.8l-0.7 2.9l-2 1.5l0.9 3.1l-3.6 1.6l-3.5 1.1l-3.5 1.1l-5.5 2.4l-4.2 0.6l-4.3 0.7l-5 0.4l-5 0.3l-4.1 2.4l-5.9 2.9l-4.6 1.2l-4.7 1.3l-4.4 0.6l-4.4 0.5l-4.8 3.8l-3.1 3.8l-5 4l-3.9 4l-2.6 4.2l-4.3 2.1l-5-0.9l-2.6-2.5l-3.2-0.8l-3.2-0.8l-1.5-4.5l-1.3-4.8l-2.9-2.7l-0.3-4.9l-1.4-3.6l1.2-3.6l4.2-3.4l3.8-1.2l3.9-1.1l1-2l-5.1-0.8l-5.2-0.8l1.3-2.2l-1.3-3l0.2-2.9l-1.3-2.8l-2.4-3.4l-3.3-1.7l-4.4-0.2l-4.3-0.3l-4.7 0.3l-4.7 0.2l-3.6-0.2l-3.6-0.3l-2.2-0.9l-3.3-1.4l-0.4-1.3l-3.7-0.8M654.7 158.1l3.7-1.6l3.7-1.7l4.3 3.3l2.7-1.8l3.9-0.4l3.9-0.3l3.5-0.6l3.4-0.5l4.9 0.7l2.4 4l-3.4 3.1l-5.4 1.9l-4.8 1l-4.8 0.9l-6-0.7l-3.7-0.4l-3.7-0.4l2.8-2l-3.1-1.1l-3.2-1.1l3.6-0.8l3.5-0.7l-4.1-0.4l-4.1-0.4M476.3 163l-3.4-2.3l3.6-2.6l5.9 0l5.9 0l4.3-3.6l5.8-3.6l-1.2-2.7l-3.8-1.4l-2.2-1.3l-2.2-1.3l-2.6-0.8l-2.5-0.8l-4.8 0l-4.3 0l-4.3 0l-4.2 0l-3.4-1.6l-4.3-0.5l-4.4-0.5l0.5-2.1l1.4-3l4.4-2.8l5.8-0.4l5.8-0.4l3.3 1.3l-6.7 3.8l1.8 1.5l2-3.8l4.8-0.8l4.9-0.7l4.8-0.8l-1.3 3.1l5.1-0.4l5-0.4l3.5 1.4l3.5 1.5l4 0.9l4 0.9l3.7 1.4l3.7 1.4l0.9 3.2l0.1 3.7l4.4 1.2l4.5 1.2l2.5 1.3l2.5 1.2l-7.8 4.7l-3.1-0.5l-3-0.6l-3.6-0.9l-3.6-0.9l2.3 2.9l2.4 3l1.1 3.9l-5.3 3.1l-4.7-0.8l-2.7-1.2l-2.7-1.1l2.4 2.9l2.6 3l1.7 1.2l-4.3-0.6l-4.4-0.6l-4.3-1.4l-4.3-1.4l-2.9-3.5l-2.6-1.2l-2.6-1.1l-3.7 0.3l-3.7 0.4M502.5 124.9l-3.2 0.1l-3.1 0.1l-4.4 0l-4.5-0.1l-4.4 0l-4.5-0.1l-5-0.2l-5-0.3l5.3-1.4l5.2-1.5l3.7-0.7l3.7-0.7l-3.1-0.5l-3.2-0.5l6.8-2.3l-4.2-0.6l-4.1-0.6l-4.2-0.6l4.8-0.3l4.7-0.4l4.6-0.3l4.7-0.3l4.8-0.3l4.8-0.2l4.8-0.2l4.8-0.2l4.8-0.2l5 0l5.1-0.1l5 0l5 0l4.4 0.1l4.5 0.2l4.4 0.1l4.5 0.2l4.4 0.1l-4.8 0.8l-5 0.7l-4.2 0.5l-4.4 0.6l-4.3 0.5l-5.1 0.9l-5.2 0.9l-5.7 0.7l-5.8 0.7l-3.4 2l-4.4 1.7l-4.6 1.7M494.9 126.6l-5.4 2.5l-4.2 0.1l-4.2 0.1l-4.1 0.1l-5-0.1l-5-0.1l-5.1-0.1l-2.2-0.7l-2.2-0.8l4.9-3.2l2.6 1.1l2.6 1.1l5.2-0.2l5.2-0.1l5.2-0.2l3.9 0.2l3.9 0.1l3.9 0.2M479.8 120.7l-3.8-0.6l-3.8-0.5l-3.9-0.6l-3.8-0.5l-2.1-1.3l-2.2-1.2l4.7-0.3l4.6-0.3l4.7-0.2l2.5 1l2.4 1l2 0.9l1.9 1l-3.2 1.6M359.7 145.8l3.9 0.9l3.9 0.8l5.1-0.2l5.2-0.3l5.1-0.2l4.7-0.3l4.7-0.4l4.7-0.3l6.9-1.1l6.8-1.2l6.1-4.1l-1.7-2.7l-1.7-2.6l-4.8-0.6l-4.8-0.6l-6.1 0.6l-6.1 0.6l-4.6-0.8l-4.5-0.7l-7.3 1.5l-7.3 1.4l-6.2 2.4l1.2 2.7l5 0.5l5 0.5l-6 1l-6 0.9l-1.2 2.3M346.3 138.8l5.3-0.5l5.3-0.4l8.6-3l8.1-2.5l-1.7-2.2l-4.1-0.4l-4-0.4l-4.2 0.3l-4.2 0.2l-2.3 2.7l-9.1 3.2l1.1 1.5l1.2 1.5M381.5 127.6l3.3 0.6l3.2 0.6l3.3 0.6l5-0.3l5-0.4l5-0.3l5-0.3l6.1-2.5l-3.3-0.9l-3.3-1l-5.1 0.5l-5.2 0.5l-5.1 0.4l-5.1-0.1l-5.1-0.1l-3.7 2.7M417 136.4l4.5 0.2l4.4 0.2l4.5 0.2l6.3-2.9l-1.6-2.8l-4.5-0.2l-4.4-0.1l-7.8 2.8l-1.4 2.6M437.7 136.1l3.7 0.1l3.8 0.2l6.5-1.8l6.4-1.7l-0.9-2.2l-4.1 0l-4.1 0l-4.1 0l-4.5 2.8l-2.7 2.6M438.7 165.4l2.8 0.7l2.8 0.8l5.1-1l5-0.9l4.1-0.2l4.1-0.2l-2.4-2.7l-3.1-1.5l-3-1.5l0.4-2.6l-5.9 1.1l-4.6 1.5l0 4.1l-5.3 2.4M414.8 145.8l4.1 0.2l4.1 0.3l4.1 0.2l0-3.3l-3-0.2l-3-0.1l-6.3 2.9M421.9 126.8l4.2 0.4l4.2 0.3l4.2 0.3l4.2 0.3l5.8-2.5l-3.5-0.8l-3.6-0.8l-4.3 0.3l-4.4 0.3l-4.4 0.3l-2.4 1.9M501.6 238.1l5.2 0l4 0l3.9 0l0.8 3.6l5.9 0.5l3.3 0.8l3-4.4l-1.6-5l-0.4-4.6l-5.7-0.5l-0.7-3.4l4.4-6.9l-6.9 2.9l-5.3 5.9l-4.2 4l-5.7 7.1M485.6 226.6l4.1 1.9l4.1 2l1.1-1l-5.6-2.5l-3.7-0.4M479.4 243.3l4.7 0.3l4.7 0.4l-2.9 2.4l-5.4-1.6l-1.1-1.5M350 384.2l10-6.1l3-1.5l8.6 0.3l5.9 4.2l6 4.3l7.5 4.3l6 4.9l-6.3 1.9l-5 0.1l-5.1 0.2l3.2-5.3l-5.1-4.9l-4.3-1.2l-4.3-1.2l-5.4-2.5l-4.2-1.8l-6.2 3.7l-4.3 0.6M393.9 405.7l4.5 0.6l4.5 0.7l3.3 2.4l8.3-3.1l7.5-0.6l-2.1-4.9l-4-3.7l-7.8 0l-7.7-0.6l1.9 5.5l1.4 2.5l-4.9 0.6l-4.9 0.6M375.8 406.3l4.3-1.2l5.6 3.1l-4.8 1.2l-5.1-3.1M427.4 406.3l7.5-0.6l-1.3 2.5l-6.4 0l0.2-1.9M447.2 453.8l4.7-0.6l-0.8 4.4l-4.2 0l0.3-3.8M240.2 222.1l2 3.2l2.1 3.2l0.8 4.1l4.3 2l2.7-2.6l-1.9-5l-2.3-2.9l-3.8-2.5l-3.9 0.5M237.2 205.8l4 1l-4.7 4.7l-1.3 4.8l-0.5-5.8l2.5-4.7M173.5 190.8l8.5-2.2l0.3 2.2l-7.4 2.2l-1.4-2.2M243.1 188.1l4.7 0l-1.7 4l-5.5 1.8l2.5-5.8M243.8 196.2l3.7 1.8l-3.8 5l-3.6-0.9l3.7-5.9M475.6 830l-6 1l1.2 3.3l5 3.3l-3.6 0.2l-3.6 0.3l-0.7 2.3l4.2 0.9l4.2 0.9l4.1 0.7l4.1 0.7l4.6-1.8l4-1.9l-6-2.3l-7.7-4.3l-3.8-3.3M430.1 774.8l3.1 0.5l2.8 7.5l-3.3 0l-2.6-8M501 824.2l6.7-0.5l7.2 1.5l-1.6 2.9l-4-0.5l-5.8 0l-2.5-3.4M593.6 836.6l7.5 1.5l2.1 2.3l-7-2.3l-2.6-1.5M147.7 165.7l3.7 0.6l3.7 0.6l1.9-0.8l-4-1.1l-5.3 0.7M143.1 179.1l6.3-0.4l-2.7 1.7l-5.4 0l1.8-1.3M119.6 204l7.1-1l0-0.9l-5.4 0.5l-1.7 1.4M104.3 209.6l6-1.9l-0.4-0.9l-6 1.8l0.4 1M95 212l6.6-2.4l-0.9-0.5l-5.3 1.9l-0.4 1M66.7 216.3l4.9-1l0.4-1l-4.2 1l-1.1 1M57.3 217.7l2.9-0.5l0-0.9l-2.9 1.4M52.7 217.7l2.5-0.5l-0.3-0.7l-2.2 1.2M1392.6 212l3.8 0.2l-1.7-0.7l-2.1 0.5M21 397.4l2.8-2.2l2.3 3.4l-4.9 3.7l-0.2-4.9M20.5 390.3l3.1 0.3l-2.4 1.6l-0.7-1.9M14.7 386.3l2.5 0.6l-2.2 1l-0.3-1.6M9.1 383l2.3 0l-1.4 1.2l-0.9-1.2M305 523.6l2.8 1.9l-1.8 2.6l-1-4.5M1345.2 160l-2.5 1.5l-4-0.4l15.9 6.6l5.5 2.8l-4.5 0.7l-4.5 0.6l-4.6 0.7l-1.9 1.6l-1.9 1.7l0.1 4.2l-5.1 0l-5.1 0l-5.1 0l-4.2 0.8l3.2 5.6l-0.7 3.1l13.7 7.1l1.1 5.5l2.9 8.4l-0.1 5.8l-1.1 4.8l-10.3-7.2l-5.9-4.8l-6-4.7l-5.1-4.6l-5.1-4.5l-2.3-5.8l0.4-3.8l0.2-3.6l0.8-2.1l0.7-2.1l-1.6-5.4l-2.3-2.8l-3.3 0.9l-3.3 1l-3.3 0.9l-1.8 1.2l-4 0l-4.1 0l2.6 4.2l2.5 4.2l-4 1.1l-4.1 1l-6.9-2.1l-4.5 0.4l-4.5 0.4l-5.4 0l-5.3 0l-4.3 0.3l-4.2 0.2l-0.3 3.7l-0.3 3.7l-0.8 2.7l-0.8 2.7l4.7 8.2l5.4 0.7l5.4 0.7l11 4.3l5.5 5.2l2 5.8l4.5 5l4.4 4.9l1.4 2.6l1.3 7.6l2.1 7.8l-1.6 3.1l-1.7 3.2l-1.6 3.4l-1.6 3.5l-4.5-0.5l-4.5-0.6l-2 4.8l0.4 7.1l-2.4 5.5l-1 3.8l6.8 4.5l8.6 8.4l5.1 8.5l-4.4 3.9l-5.3 2.3l-4-6.2l-2.9-8.5l-10.3-5.6l-2.9-7.3l-6.4-3.8l-3.2 2.7l-3.3 2.8l-6.1-5.5l-1.7-4.4l-2.1 3.5l-2.2 3.6l-6 2.8l6.4 5.6l4.1 3.9l6.2-2.8l8.4 2.2l-2.4 3.4l-2.6 3.4l-1.7 6.8l7 5.7l7.1 8.7l6.1 5.8l2.6 4.1l-3.4 2.4l5.9 3.5l1.3 8.9l-2.7 10.7l-2 7.2l-2.9 4.9l-2.6 6l-5.4 4.9l-6.1 2.4l-6 3.1l-4.1 1.5l-4.2 1.6l0.1 5.5l-3.6-6.8l-7-0.6l-5 3.7l-2.4 9.2l0.5 6.2l7.4 9.3l7.3 6.2l3.2 6.3l3.2 6.2l1.9 9.4l-0.5 6.3l-6.2 6.3l-3.4 3.2l-7.1 8.2l-1.8-8.2l-6.5-3.8l-5.8-8.8l-7.6-4.4l-3.1-5.1l-1.4 6.3l-0.8 6.3l-0.9 6.3l3.2 7.6l4 8.2l-0.4 6.3l5.8 1.9l4 3.2l5.2 7.6l1.3 9.5l0.3 6.4l3.4 7l-3.3 0.6l-7.2-6.3l-3.4-4.5l-4.2-9.5l-1.5-9.5l-4.2-6.4l-6.1-6.3l0-9.5l-0.5-9.4l-1.5-6.3l-1.6-6.3l-2-6.3l-2.2-6.2l-2.5-9.4l-5.3-1.2l-4.6 5.6l-4.8-1.3l-0.7-9.3l-3-6.2l-3.1-6.2l-7.1-8l-3.5-5.5l-1.9-4.3l-5.7 0.6l-6.2 3.1l-4.4 0.6l-4.1 2.5l0.1 4.9l-5 4.9l-3.6 5.5l-4.4 6.9l-4.9 7.4l-4.9 4.4l-2.1 5l1.5 11.9l-0.8 10l0.7 7.6l-3.2 6.3l-3.6 2.5l-2.9 5.1l-5.1-5.7l-1.9-6.3l-4.3-10.8l-4.1-8.1l-3.3-9.4l-3.2-6.9l-4.2-10.6l-3.4-10.5l-1.9-9.2l-1.5-6.2l-1.5 1.9l-5.1 2.4l-3.4-1.2l-7.2-8l4.7-4.2l-8.3-3.1l-6.3-4.8l-3-4.3l-1.8-2.4l-4.4 0.6l-4.4 0.6l-5.6 0l-5.7 0l-6.8-0.6l-6.9-0.6l-7.9-1.8l-3.6-7.8l-4.3 1.2l-4.2 1.2l-5.6-2.7l-5.6-2.7l-8-7.7l-5.6-7.1l-5.6-1.7l-2.8 4.1l3.4 7.7l7.2 8.9l2.3 3.6l2.2 6l1.7 2.5l0.7-7.9l2.8 6.6l-0.8 4.3l5.5 0.6l6.8 0l4.9-6.7l2.8-4.8l2.4 6.6l3.6 6.1l7.7 2.4l6.4 6.7l-1.6 6.1l-1.7 6.2l-2.9 9.2l-3 6.2l-6.6 3.1l-6.6 3.1l-7.7 6.2l-4.8 3.1l-4.9 3.2l-6.5 6.2l-4.5 1.9l-4.5 1.9l-6.8 3.7l-6.9 0.7l-1.7-5.1l-2.5-9.3l-2.1-9.4l-5.4-9.3l-5.4-10.5l-7-11.1l-2.2-6.1l-2.2-6.1l-6.3-9.1l-4.4-7.8l-6.5-10.1l-2.4-8.9l-1.2 8.9l-0.8 1.2l-5.5-6l-3.4-6.5l3.6 8l3.5 8l4 9l5.5 10.3l3.8 6.1l3.7 6.1l1.9 6.1l0.8 8.6l6.7 9.9l2.9 7.4l2.8 7.5l7.4 6.9l7.5 8.1l4 4.4l-0.1 6.3l4.1 6.3l4.6-0.9l4.7-1l4.6-1.2l4.6-1.3l4.6-1l4.6-0.9l6-1.9l-0.9 8.8l-2.7 12l-1.6 6.4l-1.6 6.3l-2.1 9.5l-4.5 6.4l-7 8.2l-5.6 4.5l-8.4 9.5l-4.7 5.7l-4.8 8.3l-6.2 6.4l-2.5 8.2l-3.5 9.6l1.2 8.2l0.6 10.8l1.9 11.3l1.1 7l1 6.9l0.1 6.3l0.1 6.2l-1.8 6.3l-5.2 7.4l-4.8 3.5l-4.9 3.4l-5.1 6.2l-7.3 6.1l0.5 10.5l-0.1 6.1l-0.1 6.1l-2.9 7.2l-4.8 2.5l-4.7 2.4l-2.1 3l0.5 9l-3.5 7.7l-6.4 6.5l-5.3 8.2l-7.4 8.2l-7.1 5.2l-6.3 2.3l-4.6 0.3l-4.6 0.2l-6.6 1.2l-4.4 1.4l-4.4 1.5l-6.3-2.9l-0.3-7.5l-0.1-5.8l-2.5-8.8l-3.8-11.2l-2.6-5.9l-2.6-6l-1.3-6.3l-1.3-6.4l0.4-9.7l-2.5-7.3l-2.5-7.4l-2.8-7.7l-2.8-7.7l-0.7-9.3l2-8.1l3-8.4l3-8.5l2-11.3l-2.6-12l-2-8.6l-2.1-8.5l-2.3-8.9l-6.1-8.9l-5.6-8.3l-2.4-8.2l3.4-7l0.4-10.2l0.9-7.6l-0.9-5.1l-3.8-3.2l-2.4 0l-6.1 0.6l-4.7 0.7l-4.7-8.3l-2.9-4.4l-4.7-0.7l-4.7 0.7l-5.6 1.2l-3.3 2.6l-3.3 1.2l-8.5 4.5l-7.1-1.9l-2.3-1.3l-4.8 1.3l-4.7 1.3l-7.1 3.1l-7-3.8l-8.4-8.2l-3.3-3.8l-4.7-3.8l-3.2-6.4l-2.3-6.3l-4.6-6.3l-1.3-3.1l-4.6-5.7l-3.2-3.2l-0.3-6.9l-3-7.5l4.8-8.1l1.4-6.2l1.3-6.2l-0.6-8.7l-1.1-7.3l-2.2-2.5l0.8-9.2l4.4-7.3l3.7-7.2l3.7-7.3l6.2-9.6l4.8-2.9l4.8-3l5-4.1l1.5-5.9l-0.2-6.5l2.8-5.8l7.2-6.4l3.5-2.3l3.8-10.3l3-0.5l4.2 4l5.6-0.6l4.3 1.1l6-3.4l4.5-2.3l4.5-2.2l6.4-1.7l4.3 0l4.2 0l4.3-0.6l4.2-0.5l7.3 0.5l4.6-2.2l2.2 2.2l3-0.8l-1.4 7l2 6.3l-3.8 4l4.5 2.9l6.2 3.5l3.1 0l8 2.9l2.5 5.2l4.5 1.8l4.5 1.7l6.8 3.6l4.2-3l-0.5-7l6.1-5.2l6.7 1.7l4.6 2.9l4.7 2.9l4.9 0.9l4.9 0.9l8.2 2.9l3.7-2.3l4.7-1.8l5.8 1.2l7.5 0l2.8-5.3l0.5-5.8l2-8l-0.6-6.9l0.6-4.5l-5.2-0.5l-4 2.2l-6.2 1.1l-7-3.9l-5.9 3.4l-5.9-2.8l-4.3-3.4l-4.1-6.2l0.6-5l-3-3.8l5.2-2.2l6.3 0l-0.3-4.4l4.5 0.3l4.4 0.2l3.9-2.4l4-2.4l7 0l6.9 3.8l6.5 1.6l7.1 0l6.9-2.7l-0.7-5.4l-6.3-4.3l-2.8-1.6l-7.8-4.3l-3.8-4.7l1.5-6.2l4.4-3.6l-7 1l-4 1.8l-4 1.8l-0.4 4.2l6.2 0.5l-4.1 2.1l-5 3.1l-2.3-1l-4.8-4.2l4.2-3.7l-7-1l-5-1l-3.4 6.2l-3.1 5.8l0.2 4.3l-2.3 3.7l1 3.8l1.2 2.7l3.9 1.6l-4.4 1.1l-3.9 1.6l-3.1 2.2l-1.1-2.2l-4.3-1.1l-4.1 0.6l-0.4 3.3l-4-1.7l-0.2 5.5l2.4 2.8l3.8 4.4l-1 1.7l-3 0l1.2 3.4l0 4.5l-3 0l-3.1-1.7l-2.2-5.1l1.4-3.3l-3 0l-1.6-3.4l-2.5-3.8l-3.7-4.4l-0.2-6l-1.5-2.7l-3.1-2.7l-4.4-2.7l-4.3-2.7l-5.6-3.7l-3.4-5.8l-3.1 1.6l-0.2-3.7l-5.6 1.6l0.4 4.7l5.2 4.8l3.3 6.4l7.6 2.7l4.1 4.3l7.2 5.5l-2 1.7l-4.5-3.9l-1.3 5l2.4 3.3l-2.3 3.3l-3.2 2.5l0.6-3.6l0.5-5l-1.4-2.2l-2.2-0.8l-1.8-1.9l-2.7-2.2l-5.5-2.7l-3.5-2.8l-5.2-3.7l-2.2-2.7l-1.5-4.8l-5.4-2.7l-5.6 3.2l-5.2 3.8l-4.9-1.6l-4.1-0.6l-3.3 2.2l-0.3 3.7l0.4 2.7l-4.1 2.7l-5.8 3.3l-4.6 7.1l2.1 3.9l-3.8 6.1l-5.1 4.5l-1.3 1.2l-4.7 0l-4.7 0l-4.1 3.3l-4-2.8l-4.6-3.4l-6.4 1.2l0.7-8.4l-2.8-1.7l2.8-7.7l1.1-5.5l-0.6-5.4l-1.5-4.3l5.5-3.7l4.7 0.2l4.7 0.3l7.8 0.5l8.1 0.6l2.1-5.9l0.9-5.8l-0.4-3.1l-3.6-3.6l-1.5-2l-7.1-2.6l-1.9-3l5.1-2.1l5.9 1.1l1.6-0.5l0.1-5.1l1.9 1.5l4.7-0.5l5.4-2.9l0.4-4l3.4-1l3.9-1.4l2.2-2.9l2.2-4.3l2.9-1.9l5.7-0.5l4.5-1l1.4-1.4l1.1-0.9l-1.4-3.7l-2-3.3l-0.3-4l1.7-2.7l3.5-1.4l3.6-1.3l-0.3 5.4l-0.6 1.8l-1.2 3.6l-0.6 2.3l2.4 1.9l3.1 1.9l4.1-1l5.1-1.4l3.3 2.8l6.9-1.9l4.2-1.1l4.1-1.2l1 1.9l4.5 0l3.6-3.7l-1.2-7.3l1.7-3.6l3.5-0.4l2.7 2.7l3.4 0.4l0-5.7l-3.6-1.3l-0.4-2.6l4.4-1.3l5.9-0.4l5.5 0.4l6-1.7l-4.7-3.4l-3.8 0.7l-3.7 0.6l-5.2 0.8l-3.4 0.7l-3.4 0.6l-3.3-2.5l-4-4.2l-0.4-6l4.5-3.1l4.3-3.9l2.8-0.7l-4.7-3l-3.3 0.4l-3.3 0.4l-1.9 3.7l-3.1 3.1l-5.7 3.1l-3.7 2.8l0.7 6.5l5.7 3l-1.7 2.9l-4.6 3.1l-0.1 4.8l0.1 3.6l-2.6 2.2l-4.5 3.2l-4.8 0.5l-1.4-3.2l-3.2-7.2l-3.5-5.7l-2.1-3.8l-1.5 3.8l-4 3.1l-3.6 0.6l-3.6 0.7l-5.3-3.9l-2-6.4l-0.6-5.8l4-2.8l3.9-2l3.8-2l6.5 0.4l-1.6-2.3l4.8-3.8l2.9-3.7l5.7-4.7l3.2-2.4l6-1.4l-4.7-0.6l3-1.6l3-1.4l3.1-0.7l3-0.8l3-0.8l3.8-1.1l3.7-1.1l3.6-0.3l3.5-0.3l3.5 0.2l3.6 0.1l5 0.9l5.1 1l-2.5 2.2l5 0.5l5 0.5l5 0.3l4.9 0.4l4.9 1.3l4.8 1.3l4.9 1.4l6 4.2l-3.6 1.8l-3.2 0.4l-3.2 0.3l-5.2-0.5l-5.2-0.6l-3.5-0.5l-3.5-0.5l6.1 3.2l2.6 4.9l6.4 1.9l4.1-1.2l-0.2-2.2l3.6 0.5l3.6 0.6l-1.3-3.4l2.8-1.6l2.6-1.7l3.5 0.4l3.5 0.4l-0.6-2.9l-3.6-5.2l3.7 0.3l3.8 0.4l2.7 2.4l5 0l2.8-0.9l2.9-0.8l4.3-1.2l4.2-1.2l6 2l3.7-0.7l3.7-0.6l2.8-0.7l2.9-0.7l3.2-2.6l4.6 0.5l4.6 0.6l4.7 0.5l3-0.3l3-0.3l7.2 3.3l-5.6-3.3l-4-5.7l2-3.6l2-1.4l3.9 0l3.9 0l4.8 2.9l-0.1 3l6.8 4.8l3.8 5l0.5 5.3l2.7-0.9l2.7-0.9l-2.3-5.2l-4-4.1l-3.9-4l-0.7-4.8l5 0.5l5.1 0.4l3.5 0.4l3.5 0.5l4.2 0.3l4.2 0.3l5.1 4l-2-4l-6.2-2.5l-6-2.4l4.7-0.5l4.7-0.4l4.7-0.5l0.4-2.6l4.4-0.7l4.4-0.6l4.3-0.7l4.2-0.3l4.2-0.3l4.2-0.3l4.2-0.3l3.7-0.8l3.8-0.8l3.7-0.8l3.8-0.8l5.2 1l5.4 1l5.2 0.3l5.3 0.2l5.3 0.2l7.8 2.4l-3.7 1.3l-3.7 1.3l5.9 1.1l6 1l5.4 0.2l5.4 0.2l5.4 0.2l4.8-0.3l4.7-0.3l4.8-0.2l5.8 1.2l5.8 1.2l5.9 1.2l4.2 0.7l4.2 0.8l7.4 3l3.6-0.8l3.7-0.7l4.7 0l4.7 0l2.5-1.5l2.5-1.5l2.4-0.4l2.5-0.4l5.8 0.3l5.8 0.4l5.8 0.4l5.6 0.9l5.6 0.9l5.7 0.9l4.4 0.7l4.4 0.8l4.2 0l4.3 0l4.2 0l6.3 1.2l6.4 1.3l6.4 1.3l5.1 0.2l5.1 0.1l4.8-0.3l4.8-0.3l4.8-0.3l4 0l4 0l7.4 3.2l3.9-0.9l3.8-0.8l3.7-0.9l6.1 1l6.1 1l6.2 0.9M153.5 146.1l3 1.1l3 1l0.8 1.3l0.9 1.4l3.1 0.7l3.2 0.7l3.2 0.7l-0.5 2.9l-9 3.2l-9 3.2l-4.1 0.3l-3.5-0.9l-3.5-1l-2.1-1.3l-2-1.3l-8.2 1.9M1301.8 138.8l2.9-0.9M967.3 597.7l1.7 10.4l1.5 10.3l-2.5 1.3l-1.6 7.7l-1.6 7.8l-2.9 7.7l-2.9 7.7l-2.4 7.7l-2.5 7.6l-2.6 6.1l-2.6 6.1l-8.6 3.6l-2.5-6.7l-2.6-6.6l-0.8-9.8l5.7-11l-0.1-6.2l-0.1-6.2l2.7-11.2l9.1-3.1l7.5-6.2l1.4-7.5l6.7-9.5M1112.1 459.5l6.3 8.2l3.9 9.5l-2.5 5.1l-5.1 1.3l-2.3-6.4l-0.6-9.5l0.3-8.2M1321 270.3l6.3 5.4l5.8 5.5l2.2 6.7l2.5 7.3l3.5 7.3l-1.1 4l-3-2.8l-1.4 2.8l-2.1 2.3l-5.2 0l0.5 1.7l-2.3 4.6l-5.5-4.6l-0.4-2.3l-5 1.2l-5.8 1.1l-5.6 1.7l0.1-2.3l2.1-5.7l7-0.5l4.9-1.2l0.6-2.8l-0.7-6.2l1.9-1.1l1.9 3.9l2.9-2.3l0.7-4.4l-0.2-5.6l-2.7-5.5l-2.2-3.3l-1-3.3l1.3-1.6M1318.1 270.8l0.9-2.2l-1-3.2l5.3 1.1l5.3 1.1l1-5.4l4.5-1.6l-6.2-5.3l-2.8 1.6l-9.4-4.3l-6.6-3.6l3.4 5.2l2 3.2l1.5 3.7l-4.4-1l0.6 4.2l5.9 6.5M1304.7 312.8l5.8 4.6l1.7 7l-0.6 5.2l-3.3-2.3l-2.5-5.2l-2.9-2.4l-2.1-3.4l2.1-1.8l1.8-1.7M1319.4 311.1l1.4 5.2l-4.1-1.2l0.2 4.6l-4.7-4l0.3-2.9l3.1-2.3l3.8 0.6M1272.2 204.9l9.9 7.5l8.1 8.7l8.1 5.7l8.2 5.8l-9.7-2.6l9.1 9.7l4.2 2.5l3 4.2l-5.8-3.7l1 4.2l-7.2-8.3l-6.2-7.6l-4.9-4.9l-4.9-5l-6.3-5.8l-5.2-5.7l-1.4-4.7M1284.6 363.5l2 1.8l1.2 9.1l0.1 9.2l-4.7-4.9l-1.9-6.1l1.3-7.3l2-1.8M1243.5 395.2l3 3.1l-1.1 4.9l-3.8 3.8l-4.5-3.8l-1-4.3l3-3.1l4.4-0.6M1292.3 405.1l7.4 0l2.2 9.3l-1.4 6.2l2.1 8.1l4.3 3.2l9.3 10l-4.2-2.5l-4.4-3.8l-3.9-1.2l-4.2 0l-1.8-4.4l-2.2-1.9l-3.2-8.7l2 0.6l-1.4-8.7l-0.6-6.2M1325.4 459.5l4.8 8.2l2 9.5l-1.1 4.5l-2.2 1.2l-1.9 0l-5.3-1.2l-1.4-5.7l-3.5-1.9l-5.3 3.8l1.2-7l5.9-1.9l4.1-1.3l2.7-8.2M1317.2 442.5l4.7 0l3.2 8.2l-2.4 6.3l-2-4.4l-2-3.8l-1.5-6.3M1310.1 453.8l5-1.2l2.9 3.8l-2.3 7.5l-2.5-1.2l-3.1-8.9M1306.6 446.3l6 2.5l-1.5 5.7l-2.7 0.6l-1.8-8.8M1297.6 436.9l4.2 0l2.6 6.9l-2.8 0l-4-6.9M1287.5 468.4l4.3-9.5l4.1-9.5l1.7 5.7l-6.6 10.7l-3.5 2.6M1185.9 486.1l5.3 1.3l5.2 1.2l6.1 8.9l8.4 9.6l2.8 1.9l4.8 3.8l4.8 3.8l3.8 7l2.8 4.5l0.4 5l6.9 7.7l-0.9 9.5l-1 8.3l-5.6 0l-4.8-6.4l-5.4-5.7l-5.8-8.9l-2.7-9.5l-6.6-9.6l-1-7.6l-7.8-9.5l-5.9-6.4l-3.8-8.9M1232 564.9l4.2-5.7l3.7 1.3l7.7 3.8l8.9 1.2l3-3.1l7.6 5l7.7 3.8l-0.2 5.7l-6.7-2.5l-4.7-0.3l-4.7-0.3l-4.5-1.6l-4.6-1.6l-4.7 0.6l-6.9-2.5l-5.8-3.8M1253.1 521.7l-1.6-12.1l4.7 0.7l4.8 0.6l1.8-4.5l7.3-5l4.3-8.9l4.6-2.6l4.3-6.3l3.2-6.4l4.6 4.5l1.7 3.1l5.9 3.8l-3 5.1l-3.9 7l2.1 7l4.9 7.6l-5.6 1.3l-1.4 10.2l-3.4 3.2l-2.5 7.6l-1.7 7l-6.7 2.5l0.1-3.8l-7.5-1.3l-6-1.2l-7.1-0.7l-0.7-8.9l-3.2-9.5M1302.6 516.6l4.7-3.2l5.7 1.9l6.6-1.9l6.5-1.9l1.9 0.7l-5.5 7l-7.1-0.4l-7.1-0.3l-4.7 2.6l0.4 5.7l7.1 0.6l8 0l-6.2 5.1l-2.5 5.1l4.5 5.7l2 6.4l-2.8 7l-4.4-5.1l-1.9-7.6l-2.6-4.5l-0.9 7.6l-0.1 9.6l-4.2 0l0.4-6.4l0.3-6.3l-3.1-4.5l2.6-9.5l2.4-8.3l0-5.1M1356.4 526.8l6.2-2.6l7.1 2.6l1.2 8.9l3 7l7.4-7l7.2-3.8l6.2 3.2l6.3 3.1l8.3 3.8l4.6 2.3l4.6 2.2l5.6 8.3l5.2 5l3.7 4.5l-4.3 0.6l3.8 7.6l3.9 6.3l7.1 8.2l-6.1 0l-4.9-2.5l-5-2.5l-4.5-8.2l-6.7-3.2l-5.2 4.4l-3.1 5.1l-4.6-0.3l-4.7-0.3l-6.3-5.7l-7.2 1.2l-0.7-5.7l5.6-4.4l-3-8.2l-4.4-2.9l-4.6-2.9l-6.8-4.4l-7.1 0.6l-0.7-3.1l-3.6-3.9l7.1-2.5l-7-2.5l-4.6-4.5l1-3.8M1315.6 587l8-6.9l5.7-2.5l5.7-2.6l-4.2 3.8l-5.2 3.8l-5.2 3.8l-4.8 0.6M1299.7 575l5.7 0l4.7-0.3l4.7-0.3l-1.2 2.5l-5.4 0.3l-5.5 0.4l-3-2.6M1285.7 575l6.6-0.6l4.1 1.3l-5.5 2.5l-5.6 0l0.4-3.2M1275 573.8l5.1 0.6l-2.2 3.2l-2.9-3.8M1282 574.4l3.2 0.6l-2.2 3.2l-1-3.8M1295.2 582l5.7-0.6l2.2 4.4l-5.4-1.3l-2.5-2.5M1338.8 507.7l2.5 4.5l3.3 1.2l-3.3 5.1l2.4 5.1l-3.3-1.9l0.5 5.1l-1.9-8.3l-0.2-10.8M1340.5 541.4l7.6-1.9l6 3.2l-6.2 1.3l-7.1 0l-0.3-2.6M1331.5 542l5.6 0.7l-2 3.2l-3.6-3.9M1435.6 557.3l8.3-3.2l7.5-5.7l3.7 0.6l-2.9 7.7l-6.6 4.4l-7.1 0l-2.9-3.8M1404.2 589.6l2.7 11.3l-1.2 11.9l6.1 3.7l-0.6 11.9l-1 9.9l1.4 4.3l5.3 5l1.7 7.3l3.9 9.2l-0.6 7.3l4.2 8.5l-2.8 7.2l-3 10.1l-4 6.3l-4.1 6.1l-8.7 11.2l-5.3 4l-5.2 5.2l-6.3 6.9l-5.3 5.7l-5.3 5.6l-2.3 2.8l-9.5 2.3l-11.2 6.7l-3.3-3.9l-0.9-0.6l-6.9 2.8l-3.5-1.1l-3.5-1.1l-2.9-2.8l0.5-5.6l2.8-6.2l-3.7-1.2l2.6-4.5l2.9-9.2l0.9-3.5l-5.6 8.1l-5.9 6.8l-2.1-4l-1.7 2.3l-1.8-2.3l0.2-8.6l0.5-5.2l-7.2-0.6l-3-2.9l-4.6 0.6l-4.7 0.5l-5.2 1.8l-5.2 1.7l-7.4 1.8l-8.1 3.5l-4.1 4l-7 0l-8.2 0l-5.8 3.1l-5.8 3.2l-4.1-0.6l-4-0.5l-2.8-2.3l1.6-4.6l3.8-1.8l3.3-7.5l1-10l1.6-8.8l0.2-7.7l-0.9-7.8l2.2-4.2l2.5-3.7l1.7-8.4l3.2-6.1l2.1-4.3l0.3 3.7l4.6-4.9l9.4-6.2l9.2-1.8l7.1-2.5l8.6-6.7l4.4-5l1.5-6.2l4.5-3.7l1.5 5.6l3.3-6.2l6.1-6.9l5.9-6.3l5-1.8l4 5.6l0.2 3.7l6.2-3.1l2.9-7.5l6.2-8.1l3.5-1.3l5.9-4.4l3.9 1.9l7.5 2.5l7.4 0l-5 6.9l-2.4 9.4l-2.6 1.2l5.2 5.7l4.1 5.6l4.8 4.9l7-0.6l5.2-9.3l3.6-9.4l2.1-11.9l3.9-8.8l2.4-3.1M1339.9 768.8l5.9 2.2l8.3-1.1l-4.4 5.9l-6.6 6.5l-6.2 2.1l-2.8-0.5l1.6-6.4l1.8-5.5l2.4-3.2M1457.4 767.7l2.8 2.2l-1.7 4.3l-5.8 3.8l-9 5.9l-0.3 1.6l-10.2 3.2l-9.9 7.8l-8.4 3.6l-4.8 0l-3.7-3.6l10.3-6.8l7.5-3.7l9.5-3.7l8.7-4.3l4.9-3.8l5.8-4.3l4.3-2.2M714.8 225.8l2.7 0.3l5.5-1l4.3-2l4.7-0.5l5.8-0.2l4.6-2l0-1.2l-2.7-0.5l2.3-1.9l1.7-3.4l-1.8-1.7l-3.8 0.3l0-2.4l-0.7-1l-1.2-2.3l-3.7-2.3l-1.5-2.8l-1.4-2.8l-4.1-0.9l1.9-1.3l1.9-3.6l1.1-2.3l-5.8-0.4l-2.5 0.4l4.1-4.6l-3.6 0.2l-3.6 0.1l-1.2 2.6l-2 3.1l0.6 3.6l-0.6 5.4l3-1.8l-0.9 4.6l6-0.9l-0.4 1.8l2.6 1.9l-0.8 3.3l-5 0l-0.4 2.8l1.5 1.5l-4.7 2.9l1.1 1.4l6.9 0.5l1.9 0l-1.9 1.5l-3.9 0l-1.2 0.9l-2 3l-2.8 1.7M713.5 210.1l-1 5.2l-7.3 1.9l-5.9 2l-2.1-3.4l2.8-2.4l1-2.9l-2.2-1.4l0.6-3.3l5.7-0.5l-0.6-1.8l1.6-2.3l3.7-0.5l4.5 0.5l2.1 2.8l-2.7 2.8l-0.2 3.3M789.5 289.6l4.2-1.2l4.6-0.2l4.7-0.3l-1.8 4.5l0.2 4.5l-4.8-2.3l-6.5-2.8l-0.6-2.2M771.1 273.5l4.1-1.6l2.3 3.8l-0.1 7.2l-2.5 1.1l-2.5 0l-0.3-7.2l-1-3.3M775.6 262.2l0.6 5.4l-1 3.2l-2.7-3.2l-0.1-2.2l3.2-3.2M838 303.7l4.3 0.5l7.9 1.2l-0.3 1.1l-6 0.6l-5.8-1.7l-0.1-1.7M876.2 306.5l2.7-2.3l6.6-1.7l-2.5 4l-3.5 2.3l-3.3-2.3M747.1 280.7l2.9-2l1.3 1.4l-1.7 2.2l-2.5-1.6M834.3 284l6.5 5.6l-1.4-0.6l-3.6-2.8l-1.5-2.2M856 299.7l1.6-1.2l-0.6 2.3l-1-1.1M845.9 282.9l2.9-0.6l-0.6 1.7l-2.3-1.1M778.1 198.9l5.1-1.8l-0.1 3.6l-2.5 1.4l-2.5-3.2M773.4 199.8l3.3 0l-0.2 1.8l-2.2 0l-0.9-1.8M803.1 191.7l2.9-2.7l-0.4 2.2l-1.5 2.3l-1-1.8M797.5 196.2l1.9-4.5l-1.4 3.1l-0.5 1.4M816.2 187.3l4.5-1.3l-1.2 1.7l-2.7 0.9l-0.6-1.3M816.5 184.7l3.1-0.5l-1.2 1.3l-1.9-0.8M767.6 117.6l5.1-0.2l5.1-0.2l4.4 0l4.3 0l4.3-0.4l4.3-0.3l5.1 0.1l5.1 0.2l5.2 0.1l5.1 0.1l-4.1 0.7l-4.2 0.8l-4.8 0.3l-4.8 0.3l-4.8 0.4l3.8 0.5l3.8 0.5l-3.5 0.8l-3.5 0.9l-2.7 1l-2.8 1l-4-1l-3.9-1l-3.2-1.5l-3-0.6l-3.1-0.6l-3.2-1.9M900.3 139.4l5.4 1.2l4.8 0l4.8 0l4.8 0l-7.4-4.2l-3.9-3.8l2.6-3.2l3.4-1.7l3.5-1.6l4.5-0.6l4.6-0.7l4.5-0.6l3.8-0.2l3.8-0.3l3.8-0.2l-1.6 1.6l-4.1 0.6l-4.1 0.7l-4 0.6l-4.1 0.6l-3.4 1l-3.3 1.1l-3.4 1l-3.7 1.4l-3.8 1.4l-2.9 2.9l-3.9 1.5l-0.7 1.5M870.5 116.3l4.1 0.3l4 0.3l4.1 0.3l4.3-0.1l4.3-0.1l4.3-0.1l4.3-0.1l4.2-0.2l4.2-0.3l4.1-0.2l4.2-0.3l-3.5-0.7l-3.4-0.7l-4.7 0l-4.8 0.1l-4.8 0l-4.5 0.4l-4.6 0.4l-4.6 0.4l-3.7 0.2l-3.7 0.2l-3.8 0.2M1018.9 119.1l4.1 0.1l4.1 0.1l4.1 0.2l5.2 0.2l5.2 0.3l5.3 0.3l-4.4-1.1l-4.2-1.1l-5-0.4l-4.9-0.5l-4.6-0.6l-4.6-0.6l-4.5-0.5l-3.6 0.3l-3.5 0.2l-3.5 0.3l5 0.6l5.1 0.7l4.7 1.5M1152.1 126.8l5.9 0.9l6 0.9l3.8-0.2l3.8-0.1l3.8-0.2l4.3-0.1l4.4-0.1l4.3-0.2l4.4-0.1l-4.7-0.3l-4.6-0.4l-4.6-0.3l-4.6-0.3l-4.6-0.4l-4.5-0.3l-4.4 0.4l-4.4 0.4l-4.3 0.4M892.9 144.8l4-0.3l1.1 2l-3.3 0l-1.8-1.7M923.7 141.3l3.5 0.6l3.6 0.7l-0.9 0.9l-4.3-0.6l-1.9-1.6M711.6 170.5l2.8 0.4l-1.2 2.4l-1.6-2.8M731.7 177.5l1.4 1.6l-1.1 1.3l-0.3-2.9M712 187.3l2.6-0.5l-3 2.7l-1.7 3.1l0.9-2.7l1.2-2.6M712.9 190.8l2.6 0.9l-1.2 0.9l-1.4-1.8M986.2 441.9l5.2 0l-2.2 1.9l-3-1.9M921.6 558.6l1.4 2.5l-1 1.3l-0.4-3.8M939.5 594l0.8 2.5l-1.4 0l0.6-2.5M989.9 653.1l2.1 1.2l-1.6 1.5l-0.5-2.7M1000.1 648.2l1.7 1.2l-1.6 1.2l-0.1-2.4M1007.1 812.4l6.5 0.5l-2.5 3l-4.5-0.5l0.5-3M777.6 497.5l1.4 1.3l-1.4 1.9l0-3.2M661.8 345l3.6-0.9l-1.9 3.3l-1.7-2.4M666.6 346.8l1.8 0.6l-1 1.4l-0.8-2M672.4 346.8l3.3-3.6l-0.6 3l-2.7 0.6M661.6 319.2l2.6 0.2l-1.4 0.9l-1.2-1.1M627.6 290.7l2.5 0l-1.3 0.5l-1.2-0.5M616.6 286.8l2.1 0.2l-1.3 0.3l-0.8-0.5M627 425.6l1.3 1.3l-0.9 0.6l-0.4-1.9M620.1 413.8l1.3 0.6l-0.9 0.6l-0.4-1.2M928.5 249l4.8-4.7l4.2-1.3l4.2-1.3l7 0.5l2.3 7.8l-6.4 1.6l-1 2.1l2.6 5.3l7 5.9l2.4 5.9l4 2.7l-0.8 5l3.1 3.8l2.2 5.6l2.2 5.6l-1.2 2.2l-4.1 0.9l-4.1 0.8l-9.1-4.5l-4.2-5.6l0.6-5l3.2-6l-6.1-4.4l-4.8-4.3l-4.6-5.4l-2.4-6.4l-3.3-3.2l2.3-3.6M1330.8 257.9l1.1-3.7l-1.6 0.5l0.5 3.2M1333.1 253.2l3.9-4.2l-2 1.5l-1.9 2.7M1338.5 247.4l2.2-2.1l-1.1 1.1l-1.1 1M1343.1 241.2l0.3-4.1l-0.2 2.1l-0.1 2M1342.4 229l-0.9-6.4l0.6 3l0.3 3.4M1327.2 186.4l-0.4-3l-0.1 1.3l0.5 1.7M1310.4 358.7l1-4.2l-0.6 1.8l-0.4 2.4M1285.6 316.3l2.4-1.2l-0.4 1.7l-2-0.5M1233.6 532.5l4.7-0.6l2.2 8.9l-3.2-3.2l-3.7-5.1M1244.8 538.2l2.8 0.7l-1.1 3.1l-1.7-3.8M1195.4 512.8l3.3 3.2l0.5 1.9l-2.8-2.6l-1-2.5M1202.5 528.1l2.8 3.8l-1 1.2l-1.3-3.1l-0.5-1.9M1169.4 436.2l1.7 6.3l-0.7 5.7l-1.1-5.7l0.1-6.3M226.7 932.4l4.8 0.2l4.8 0.1l4.8 0.1l4.8 0.1l4.8 0.1l4.8 0l4.9 0l4.8 0l4.8 0l4.9 0l4.8 0l4.9 0l4.1-0.2l4.2-0.2l4.1-0.2l4.1-0.2l4.1-0.2l-6-0.9l-6.2-0.9l4.4-0.4l4.3-0.4l4.3-0.3l4.4-0.4l-5.3-0.8l-5.5-0.8l-5.5-0.9l3.5-0.5l3.6-0.4l3.5-0.5l3.5-0.5l-5.1-0.6l-5.1-0.7l-5.2-0.7l-5.2-0.1l-5.2-0.2l-5.2-0.1l-5.7-0.7l-5.7-0.6l4.2-0.4l4.2-0.3l4.2-0.3l4.2-0.3l4.2-0.3l3.6-0.8l3.7-0.8l3.6-0.8l4.4-0.5l4.3-0.4l4.4-0.4l4.4-0.4l4.4-0.5l4.4-0.4l4.6-0.3l4.7-0.3l4.6-0.3l4.7-0.3l4.7-0.4l4.6-0.3l5.4 0.2l5.4 0.2l5.4 0.2l5.3 0.1l5.4 0.2l5.4 0.2l5.4 0.3l5.5 0.2l5.4 0.3l5.4 0.3l5.4 0.2l5.4 0.3l4.3 0.2l4.3 0.1l4.2 0.2l-1.5-4l2.6-1.8l2.7-1.9l4.3 1.2l4.4 1.1l5.4 0l5.4 0l5.5 0l5.4 0l5.1 0.2l5.2 0.1l5.1 0.2l5.1 0.2l5.1 0.2l4.5-0.8l4.5-0.8l4.6-0.7l2.3-3l2.3-3.1l1.4-2.4l1.4-2.4l2.3-2.5l2.3-2.6l1.8-3.6l1.8-3.6l3.7-2.3l3.8-2.2l5-1.8l5-1.7l6.4 2.3l-3.6 2.9l-3.5 2.8l-1.7 2.7l-1.7 2.7l0 5.2l5.4 3.3l5.3 3.2l2 3.1l2 3l1.9 2.8l1.9 2.7l-3.7 1.3l-3.6 1.3l-4.1 0.6l-4 0.6l-4.1 0.6l-4 0.6l-4.4 0.5l-4.3 0.5l-4.4 0.5l-4.3 0.5l-4.3 0.4l-3.8 0.7l-3.9 0.6l-3.8 0.6l-3.8 0.6l5.4 1.4l5.2 1.4l5.1 1.2l5.3 0.5l5.3 0.6l5.3 0.4l5.2 0.5l5.2 0.5l5.2 0.4l5.4 0.3l5.3 0.2l5.3 0.3l5.3 0.2l5.3 0.2l4.9-0.3l4.8-0.4l4.9-0.4l4.9-0.3l4.9-0.4l4.2-0.9l4.2-1l4.2-1.1l3.6-1.2l3.7-1.3l-4.7-0.6l-4.8-0.6l-4 0.7l-4 0.7l5.2 0.6l5.2 0.5l5.2 0.6l5 0.3l5 0.3l5 0.4l4.6 0.4l4.5 0.4l2.4-1.1l2.4-1.1l3.8-1.4l3.8-1.5l3.5-1.1l3.6-1.3l3.5-1.2l2.5-1.6l2.5-1.5l4.2-1.3l4.2-1.3l4.3-1.3l4.3-1.4l5-0.9l5-1l5-0.9l4-1.2l4-1.2l4-1.2l4.7-0.9l4.7-0.9l5.2-0.5l5.3-0.4l5.3-0.4l4.8-0.8l4.8-0.8l5.3 0.4l5.4 0.5l5.3 0.4l5.3-0.2l5.4-0.2l5.3-0.3l5.4-0.2l5.4-0.2l5.4-0.2l5.3 0.2l5.3 0.2l5.3 0.2l5.3 0.3l5.3 0.2l5.2 0.2l5.6-1l5.7-0.9l5.6-1l5.2-1l5.2-1l2.9 1l2.9 1l4.2 0.2l4.2 0.2l4.2 0.2l4.2-2.3l5.9-1.2l6-1.3l6.1-1.2l5.8-0.8l5.9-0.9l5.9-0.8l6.1-1.2l6.2-1.2l6.2-1.2l2.5 1.5l2.6 1.4l4.3 1.1l4.3 1l5.3 0.4l5.3 0.3l5.2 0.4l4.3 0.1l4.3 0.1l4.3 0.1l1.6 2.4l-6.8 4.9l-6.1 4l-5.9 3.7l6.4-2.2l6.4-2.3l6.2-1.9l6.3-1.9l5.4-0.8l5.5-0.8l4.3-1.3l4.3-1.4l5.6-1.5l5.6-1.5l5.6-1.5l4.8-0.5l4.8-0.4l4.8-0.5l4.4 0l4.4 0l4.5 0l5.4-0.5l5.5-0.6l6.1-0.6l6.1-0.6l6.1-0.6l3.9-0.5l3.9-0.6l4.9 0.7l4.8 0.8l4.8 0.7l5.6 0l5.5 0l5.6 0l4.9 0.6l4.9 0.6l4.8 0.6l5.3 0.2l5.2 0.3l5.3 0.2l6.2-0.6l6.2-0.6l6.3-0.6l6-0.3l6-0.4l6-0.4l5.6 0l5.5 0l5.6 0l4.8 0.6l4.7 0.6l4.7 0.6l4.2 0.6l4.2 0.5l3 1.4l2.9 1.4l3.1 0.8l3.2 0.8l3.1 0.8l4.6 0.6l4.5 0.5l4.5 0.6l3.6 1.1l3.6 1.1l3.6 1l2.9 1.2l2.8 1.1l3.7 0.3l3.7 0.3l3.7 0.3l4.1 0.6l4.1 0.6l-12.9 4.7l-8.6 2.1l-8.4 2l-7.5 1.9l-7.3 1.9l-5.2 3.4l1.3 0.9l1.2 0.8l-6.5 0.8l-6.5 0.8l-6.4 0.8l-8.1 2.6l2 1.2l2.1 1.1l4.2 0.3l4.3 0.4l4.2 0.3l4.3 0.4l4.4 0.1l4.4 0.2l4.4 0.1l4.4 0.2l4.4 0.1l4.4 0.1M531.3 872.9l4.7-1.6l-0.1 1.2l-4.6 0.4M525 874.1l3.9-0.4l-0.4 1.2l-3.5-0.8M537.2 878.8l4.3 0.4l-0.4 1.9l-3.9-2.3M1080.4 477.2l0.7 2.6M1081.4 486.7l1.1 3.2M1082.7 497.5l0.6 2.6M1082.5 507.7l0.5 1.9M1082.6 519.2l0.5 1.9M1082.4 524.9l0.2 1.3M1076.4 448.2l1.4 5M1077.5 567.8l0.5 0.9M1073 555.4l0.4 0.6M998.2 550.9l0.9 1.3M574.4 865.9l5.4 0.5M684.2 748.8l0.9 0.3M710.4 622.5l0.4 0.3M669.3 572.2l0.5 0M749.4 838.5l0.5 0.3M887.4 801.7l0.8 0M944.1 799.1l2.4 0M1015.4 831.9l1.6 0.5M1065.7 752.7l0.3 0.3M1063.9 757.7l0.1 0.3M453.9 322.1l0.7-0.3M800.9 122.2l4.4-0.5l4.3-0.4l-4.1 1.3l-4.6-0.4M795.2 129.7l0.5-0.3M708.4 139.7l3.3-0.8M1303.6 139.4l2.7-0.5l2.8-0.4l6.5 0.9l-3.3 0.3l-3.4 0.3l-5.3-0.6M162.2 139.4l4.5-0.5l4.6-0.4l2.9 0.9l-4.5 0.3l-4.6 0.3l-2.9-0.6" fill="none" stroke="#0c0004" stroke-opacity="0.5" stroke-width="1.55" stroke-linejoin="round"/>
<path d="M-10 80H1450V970H-10ZM1242 943.1L1242.2 943L1242.9 942.7L1244 942.2L1245.5 941.6L1247.5 940.7L1249.8 939.7L1252.5 938.5L1255.7 937.1L1259.1 935.5L1263 933.8L1267.1 931.9L1271.6 929.8L1276.3 927.6L1281.2 925.2L1286.5 922.7L1291.9 920L1297.5 917.2L1303.3 914.3L1309.2 911.2L1315.2 908L1321.4 904.7L1327.6 901.2L1333.9 897.7L1340.3 894L1346.7 890.3L1353.1 886.4L1359.5 882.4L1366 878.4L1372.4 874.2L1378.8 869.9L1385.1 865.6L1391.4 861.2L1397.7 856.7L1403.9 852.1L1410 847.5L1416.1 842.7L1422.1 837.9L1428 833L1433.8 828.1L1439.5 823.1L1445.2 818L1450.8 812.9L1456.2 807.7L1461.6 802.5L1466.9 797.1L1472.1 791.8L1477.1 786.4L1482.1 780.9L1487 775.4L1491.8 769.8L1496.4 764.2L1501 758.5L1505.4 752.8L1509.8 747.1L1514 741.3L1518.1 735.5L1522.1 729.6L1526 723.7L1529.8 717.8L1533.5 711.8L1537 705.8L1540.5 699.8L1543.8 693.7L1547 687.6L1550.1 681.5L1553.1 675.3L1555.9 669.2L1558.7 663L1561.3 656.7L1563.8 650.5L1566.2 644.2L1568.4 637.9L1570.6 631.6L1572.6 625.3L1574.5 619L1576.3 612.6L1578 606.2L1579.5 599.9L1580.9 593.5L1582.2 587L1583.4 580.6L1584.4 574.2L1585.4 567.8L1586.2 561.3L1586.8 554.9L1587.4 548.4L1587.8 541.9L1588.1 535.5L1588.3 529L1588.4 522.6L1588.3 516.1L1588.1 509.6L1587.8 503.2L1587.4 496.7L1586.8 490.2L1586.2 483.8L1585.4 477.3L1584.4 470.9L1583.4 464.5L1582.2 458.1L1580.9 451.6L1579.5 445.2L1578 438.9L1576.3 432.5L1574.5 426.1L1572.6 419.8L1570.6 413.5L1568.4 407.2L1566.2 400.9L1563.8 394.6L1561.3 388.4L1558.7 382.1L1555.9 375.9L1553.1 369.8L1550.1 363.6L1547 357.5L1543.8 351.4L1540.5 345.3L1537 339.3L1533.5 333.3L1529.8 327.3L1526 321.4L1522.1 315.5L1518.1 309.6L1514 303.8L1509.8 298L1505.4 292.3L1501 286.6L1496.4 280.9L1491.8 275.3L1487 269.7L1482.1 264.2L1477.1 258.7L1472.1 253.3L1466.9 248L1461.6 242.6L1456.2 237.4L1450.8 232.2L1445.2 227.1L1439.5 222L1433.8 217L1428 212.1L1422.1 207.2L1416.1 202.4L1410 197.6L1403.9 193L1397.7 188.4L1391.4 183.9L1385.1 179.5L1378.8 175.2L1372.4 170.9L1366 166.7L1359.5 162.7L1353.1 158.7L1346.7 154.8L1340.3 151.1L1333.9 147.4L1327.6 143.9L1321.4 140.4L1315.2 137.1L1309.2 133.9L1303.3 130.8L1297.5 127.9L1291.9 125.1L1286.5 122.4L1281.2 119.9L1276.3 117.5L1271.6 115.3L1267.1 113.2L1263 111.3L1259.1 109.6L1255.7 108L1252.5 106.6L1249.8 105.4L1247.5 104.4L1245.5 103.5L1244 102.9L1242.9 102.4L1242.2 102.1L1242 102L232 102L231.8 102.1L231.1 102.4L230 102.9L228.5 103.5L226.5 104.4L224.2 105.4L221.5 106.6L218.3 108L214.9 109.6L211 111.3L206.9 113.2L202.4 115.3L197.7 117.5L192.8 119.9L187.5 122.4L182.1 125.1L176.5 127.9L170.7 130.8L164.8 133.9L158.8 137.1L152.6 140.4L146.4 143.9L140.1 147.4L133.7 151.1L127.3 154.8L120.9 158.7L114.5 162.7L108 166.7L101.6 170.9L95.2 175.2L88.9 179.5L82.6 183.9L76.3 188.4L70.1 193L64 197.6L57.9 202.4L51.9 207.2L46 212.1L40.2 217L34.5 222L28.8 227.1L23.2 232.2L17.8 237.4L12.4 242.6L7.1 248L1.9 253.3L-3.1 258.7L-8.1 264.2L-13 269.7L-17.8 275.3L-22.4 280.9L-27 286.6L-31.4 292.3L-35.8 298L-40 303.8L-44.1 309.6L-48.1 315.5L-52 321.4L-55.8 327.3L-59.5 333.3L-63 339.3L-66.5 345.3L-69.8 351.4L-73 357.5L-76.1 363.6L-79.1 369.8L-81.9 375.9L-84.7 382.1L-87.3 388.4L-89.8 394.6L-92.2 400.9L-94.4 407.2L-96.6 413.5L-98.6 419.8L-100.5 426.1L-102.3 432.5L-104 438.9L-105.5 445.2L-106.9 451.6L-108.2 458.1L-109.4 464.5L-110.4 470.9L-111.4 477.3L-112.2 483.8L-112.8 490.2L-113.4 496.7L-113.8 503.2L-114.1 509.6L-114.3 516.1L-114.4 522.6L-114.3 529L-114.1 535.5L-113.8 541.9L-113.4 548.4L-112.8 554.9L-112.2 561.3L-111.4 567.8L-110.4 574.2L-109.4 580.6L-108.2 587L-106.9 593.5L-105.5 599.9L-104 606.2L-102.3 612.6L-100.5 619L-98.6 625.3L-96.6 631.6L-94.4 637.9L-92.2 644.2L-89.8 650.5L-87.3 656.7L-84.7 663L-81.9 669.2L-79.1 675.3L-76.1 681.5L-73 687.6L-69.8 693.7L-66.5 699.8L-63 705.8L-59.5 711.8L-55.8 717.8L-52 723.7L-48.1 729.6L-44.1 735.5L-40 741.3L-35.8 747.1L-31.4 752.8L-27 758.5L-22.4 764.2L-17.8 769.8L-13 775.4L-8.1 780.9L-3.1 786.4L1.9 791.8L7.1 797.1L12.4 802.5L17.8 807.7L23.2 812.9L28.8 818L34.5 823.1L40.2 828.1L46 833L51.9 837.9L57.9 842.7L64 847.5L70.1 852.1L76.3 856.7L82.6 861.2L88.9 865.6L95.2 869.9L101.6 874.2L108 878.4L114.5 882.4L120.9 886.4L127.3 890.3L133.7 894L140.1 897.7L146.4 901.2L152.6 904.7L158.8 908L164.8 911.2L170.7 914.3L176.5 917.2L182.1 920L187.5 922.7L192.8 925.2L197.7 927.6L202.4 929.8L206.9 931.9L211 933.8L214.9 935.5L218.3 937.1L221.5 938.5L224.2 939.7L226.5 940.7L228.5 941.6L230 942.2L231.1 942.7L231.8 943L232 943.1z" fill="#fff" fill-rule="evenodd"/>
</g>
<g fill="none" stroke="#cfc6f2" stroke-width="1.7" stroke-linecap="round" stroke-linejoin="round"><path d="M614.9 825.1Q582 822 564.9 776.5"/><path d="M559 795.4L564.9 776.5L580.2 789.2"/></g>
<text font-size="23.6" fill="#dbd3f5" stroke="#dbd3f5" stroke-width="0.35"><tspan x="621.7" y="834.9" textLength="51.1" lengthAdjust="spacingAndGlyphs">weak</tspan> <tspan x="680.4" y="834.9" textLength="39.5" lengthAdjust="spacingAndGlyphs">field</tspan> <tspan x="729.6" y="834.9" textLength="59.9" lengthAdjust="spacingAndGlyphs">region</tspan> <tspan x="621.7" y="864.4" textLength="96.6" lengthAdjust="spacingAndGlyphs">expansion</tspan></text>
<text x="690.9" y="67.4" font-size="48.4" textLength="90.6" lengthAdjust="spacingAndGlyphs" fill="#000" stroke="#000" stroke-width="0.7">2025</text>
<text y="982.4" font-size="30" fill="#000" stroke="#000" stroke-width="0.55"><tspan x="580.6" textLength="118.8" lengthAdjust="spacingAndGlyphs">Magnetic</tspan> <tspan x="711" textLength="52.2" lengthAdjust="spacingAndGlyphs">field</tspan> <tspan x="777.8" textLength="112.9" lengthAdjust="spacingAndGlyphs">intensity</tspan></text>
<text x="716.4" y="1012" font-size="23" textLength="37.3" lengthAdjust="spacingAndGlyphs" fill="#000" stroke="#000" stroke-width="0.4">(nT)</text>
<rect x="591.2" y="1022.7" width="291.8" height="14.5" fill="url(#cbar)" stroke="#000" stroke-width="1.5"/>
<path d="M591.2 1037V1041.2M737.1 1037V1041.2M883 1037V1041.2" stroke="#000" stroke-width="1.2" fill="none"/>
<text y="1062.6" font-size="24.7" fill="#000" stroke="#000" stroke-width="0.5"><tspan x="544.8" textLength="72.9" lengthAdjust="spacingAndGlyphs">&lt;20000</tspan> <tspan x="706" textLength="61.2" lengthAdjust="spacingAndGlyphs">40000</tspan> <tspan x="846.9" textLength="72.3" lengthAdjust="spacingAndGlyphs">&gt;60000</tspan></text>
</svg>
</body></html>
